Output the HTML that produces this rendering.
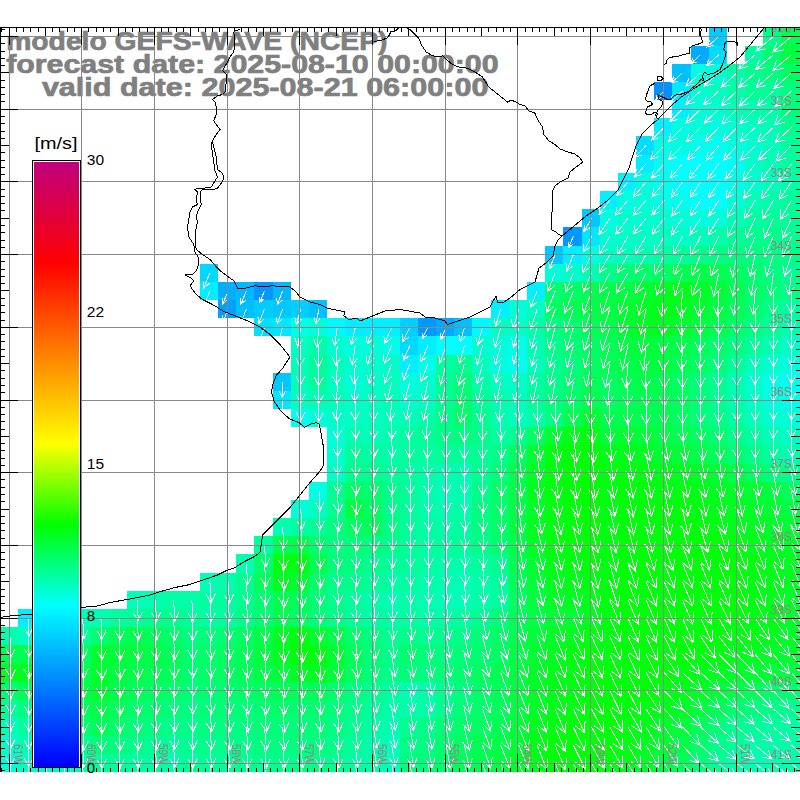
<!DOCTYPE html><html><head><meta charset="utf-8"><style>html,body{margin:0;padding:0;background:#fff;width:800px;height:800px;overflow:hidden}svg{display:block}text{font-family:"Liberation Sans",sans-serif}</style></head><body>
<svg width="800" height="800" viewBox="0 0 800 800" shape-rendering="crispEdges">
<rect width="800" height="800" fill="#fff"/>
<g>
<rect x="709" y="27" width="18" height="19" fill="#00ccff"/>
<rect x="763" y="27" width="18" height="19" fill="#00ff88"/>
<rect x="781" y="27" width="19" height="19" fill="#00ff50"/>
<rect x="691" y="46" width="18" height="18" fill="#00aaff"/>
<rect x="709" y="46" width="18" height="18" fill="#00ddff"/>
<rect x="745" y="46" width="18" height="18" fill="#00ffa0"/>
<rect x="763" y="46" width="18" height="18" fill="#00ff70"/>
<rect x="781" y="46" width="19" height="18" fill="#00ff40"/>
<rect x="672" y="64" width="19" height="18" fill="#00c0ff"/>
<rect x="691" y="64" width="18" height="18" fill="#00ffe0"/>
<rect x="709" y="64" width="18" height="18" fill="#00ffd8"/>
<rect x="727" y="64" width="18" height="18" fill="#00ffa8"/>
<rect x="745" y="64" width="18" height="18" fill="#00ff90"/>
<rect x="763" y="64" width="18" height="18" fill="#00ff80"/>
<rect x="781" y="64" width="19" height="18" fill="#00ff60"/>
<rect x="654" y="82" width="18" height="18" fill="#0090ff"/>
<rect x="672" y="82" width="19" height="18" fill="#00e8ff"/>
<rect x="691" y="82" width="18" height="18" fill="#00ffd0"/>
<rect x="709" y="82" width="18" height="18" fill="#00ffc0"/>
<rect x="727" y="82" width="18" height="18" fill="#00ffa8"/>
<rect x="745" y="82" width="18" height="18" fill="#00ff98"/>
<rect x="763" y="82" width="18" height="18" fill="#00ff98"/>
<rect x="781" y="82" width="19" height="18" fill="#00ff80"/>
<rect x="672" y="100" width="19" height="18" fill="#00eeff"/>
<rect x="691" y="100" width="18" height="18" fill="#00ffd8"/>
<rect x="709" y="100" width="18" height="18" fill="#00ffd0"/>
<rect x="727" y="100" width="18" height="18" fill="#00ffb8"/>
<rect x="745" y="100" width="18" height="18" fill="#00ffb0"/>
<rect x="763" y="100" width="18" height="18" fill="#00ffa8"/>
<rect x="781" y="100" width="19" height="18" fill="#00ff78"/>
<rect x="654" y="118" width="18" height="18" fill="#00f0ff"/>
<rect x="672" y="118" width="19" height="18" fill="#00ffe0"/>
<rect x="691" y="118" width="18" height="18" fill="#00ffd8"/>
<rect x="709" y="118" width="18" height="18" fill="#00ffe0"/>
<rect x="727" y="118" width="18" height="18" fill="#00ffd0"/>
<rect x="745" y="118" width="18" height="18" fill="#00ffc0"/>
<rect x="763" y="118" width="18" height="18" fill="#00ffb0"/>
<rect x="781" y="118" width="19" height="18" fill="#00ff90"/>
<rect x="636" y="136" width="18" height="19" fill="#00ddff"/>
<rect x="654" y="136" width="18" height="19" fill="#00ffe8"/>
<rect x="672" y="136" width="19" height="19" fill="#00ffe0"/>
<rect x="691" y="136" width="18" height="19" fill="#00fff0"/>
<rect x="709" y="136" width="18" height="19" fill="#00fff0"/>
<rect x="727" y="136" width="18" height="19" fill="#00ffe0"/>
<rect x="745" y="136" width="18" height="19" fill="#00ffd0"/>
<rect x="763" y="136" width="18" height="19" fill="#00ffb8"/>
<rect x="781" y="136" width="19" height="19" fill="#00ff98"/>
<rect x="636" y="155" width="18" height="18" fill="#00eeff"/>
<rect x="654" y="155" width="18" height="18" fill="#00fff0"/>
<rect x="672" y="155" width="19" height="18" fill="#00ffff"/>
<rect x="691" y="155" width="18" height="18" fill="#00ffff"/>
<rect x="709" y="155" width="18" height="18" fill="#00ffff"/>
<rect x="727" y="155" width="18" height="18" fill="#00fff0"/>
<rect x="745" y="155" width="18" height="18" fill="#00ffc8"/>
<rect x="763" y="155" width="18" height="18" fill="#00ffb0"/>
<rect x="781" y="155" width="19" height="18" fill="#00ffa0"/>
<rect x="618" y="173" width="18" height="18" fill="#00f0ff"/>
<rect x="636" y="173" width="18" height="18" fill="#00ffe0"/>
<rect x="654" y="173" width="18" height="18" fill="#00fff0"/>
<rect x="672" y="173" width="19" height="18" fill="#00ffff"/>
<rect x="691" y="173" width="18" height="18" fill="#00ffff"/>
<rect x="709" y="173" width="18" height="18" fill="#00ffff"/>
<rect x="727" y="173" width="18" height="18" fill="#00ffe8"/>
<rect x="745" y="173" width="18" height="18" fill="#00ffd0"/>
<rect x="763" y="173" width="18" height="18" fill="#00ffc0"/>
<rect x="781" y="173" width="19" height="18" fill="#00ffa8"/>
<rect x="600" y="191" width="18" height="18" fill="#00f0ff"/>
<rect x="618" y="191" width="18" height="18" fill="#00ffe0"/>
<rect x="636" y="191" width="18" height="18" fill="#00ffd8"/>
<rect x="654" y="191" width="18" height="18" fill="#00ffe8"/>
<rect x="672" y="191" width="19" height="18" fill="#00fff0"/>
<rect x="691" y="191" width="18" height="18" fill="#00ffff"/>
<rect x="709" y="191" width="18" height="18" fill="#00ffff"/>
<rect x="727" y="191" width="18" height="18" fill="#00ffd8"/>
<rect x="745" y="191" width="18" height="18" fill="#00ffb8"/>
<rect x="763" y="191" width="18" height="18" fill="#00ffa8"/>
<rect x="781" y="191" width="19" height="18" fill="#00ff98"/>
<rect x="582" y="209" width="18" height="18" fill="#00c8ff"/>
<rect x="600" y="209" width="18" height="18" fill="#00ffe0"/>
<rect x="618" y="209" width="18" height="18" fill="#00ffd0"/>
<rect x="636" y="209" width="18" height="18" fill="#00ffd0"/>
<rect x="654" y="209" width="18" height="18" fill="#00ffd0"/>
<rect x="672" y="209" width="19" height="18" fill="#00ffd8"/>
<rect x="691" y="209" width="18" height="18" fill="#00ffe0"/>
<rect x="709" y="209" width="18" height="18" fill="#00ffd8"/>
<rect x="727" y="209" width="18" height="18" fill="#00ffb8"/>
<rect x="745" y="209" width="18" height="18" fill="#00ffa0"/>
<rect x="763" y="209" width="18" height="18" fill="#00ff98"/>
<rect x="781" y="209" width="19" height="18" fill="#00ff98"/>
<rect x="563" y="227" width="19" height="19" fill="#0098ff"/>
<rect x="582" y="227" width="18" height="19" fill="#00e8ff"/>
<rect x="600" y="227" width="18" height="19" fill="#00ffd0"/>
<rect x="618" y="227" width="18" height="19" fill="#00ffc8"/>
<rect x="636" y="227" width="18" height="19" fill="#00ffc8"/>
<rect x="654" y="227" width="18" height="19" fill="#00ffc0"/>
<rect x="672" y="227" width="19" height="19" fill="#00ffc8"/>
<rect x="691" y="227" width="18" height="19" fill="#00ffb8"/>
<rect x="709" y="227" width="18" height="19" fill="#00ffa8"/>
<rect x="727" y="227" width="18" height="19" fill="#00ff98"/>
<rect x="745" y="227" width="18" height="19" fill="#00ff90"/>
<rect x="763" y="227" width="18" height="19" fill="#00ff88"/>
<rect x="781" y="227" width="19" height="19" fill="#00ff90"/>
<rect x="545" y="246" width="18" height="18" fill="#00c8ff"/>
<rect x="563" y="246" width="19" height="18" fill="#00eeff"/>
<rect x="582" y="246" width="18" height="18" fill="#00ffe0"/>
<rect x="600" y="246" width="18" height="18" fill="#00ffc0"/>
<rect x="618" y="246" width="18" height="18" fill="#00ffb8"/>
<rect x="636" y="246" width="18" height="18" fill="#00ffb0"/>
<rect x="654" y="246" width="18" height="18" fill="#00ffa0"/>
<rect x="672" y="246" width="19" height="18" fill="#00ff98"/>
<rect x="691" y="246" width="18" height="18" fill="#00ff88"/>
<rect x="709" y="246" width="18" height="18" fill="#00ff80"/>
<rect x="727" y="246" width="18" height="18" fill="#00ff80"/>
<rect x="745" y="246" width="18" height="18" fill="#00ff80"/>
<rect x="763" y="246" width="18" height="18" fill="#00ff80"/>
<rect x="781" y="246" width="19" height="18" fill="#00ff88"/>
<rect x="200" y="264" width="18" height="18" fill="#00d8ff"/>
<rect x="545" y="264" width="18" height="18" fill="#00ffd8"/>
<rect x="563" y="264" width="19" height="18" fill="#00ffc8"/>
<rect x="582" y="264" width="18" height="18" fill="#00ffb0"/>
<rect x="600" y="264" width="18" height="18" fill="#00ff88"/>
<rect x="618" y="264" width="18" height="18" fill="#00ff70"/>
<rect x="636" y="264" width="18" height="18" fill="#00ff68"/>
<rect x="654" y="264" width="18" height="18" fill="#00ff60"/>
<rect x="672" y="264" width="19" height="18" fill="#00ff50"/>
<rect x="691" y="264" width="18" height="18" fill="#00ff48"/>
<rect x="709" y="264" width="18" height="18" fill="#00ff50"/>
<rect x="727" y="264" width="18" height="18" fill="#00ff60"/>
<rect x="745" y="264" width="18" height="18" fill="#00ff70"/>
<rect x="763" y="264" width="18" height="18" fill="#00ff80"/>
<rect x="781" y="264" width="19" height="18" fill="#00ff90"/>
<rect x="200" y="282" width="18" height="18" fill="#00eeff"/>
<rect x="218" y="282" width="18" height="18" fill="#00b0ff"/>
<rect x="236" y="282" width="18" height="18" fill="#00b8ff"/>
<rect x="254" y="282" width="19" height="18" fill="#0098ff"/>
<rect x="273" y="282" width="18" height="18" fill="#00b8ff"/>
<rect x="527" y="282" width="18" height="18" fill="#00f0ff"/>
<rect x="545" y="282" width="18" height="18" fill="#00ff70"/>
<rect x="563" y="282" width="19" height="18" fill="#00ff60"/>
<rect x="582" y="282" width="18" height="18" fill="#00ff50"/>
<rect x="600" y="282" width="18" height="18" fill="#00ff48"/>
<rect x="618" y="282" width="18" height="18" fill="#00ff40"/>
<rect x="636" y="282" width="18" height="18" fill="#00ff30"/>
<rect x="654" y="282" width="18" height="18" fill="#00ff20"/>
<rect x="672" y="282" width="19" height="18" fill="#00ff18"/>
<rect x="691" y="282" width="18" height="18" fill="#00ff28"/>
<rect x="709" y="282" width="18" height="18" fill="#00ff38"/>
<rect x="727" y="282" width="18" height="18" fill="#00ff50"/>
<rect x="745" y="282" width="18" height="18" fill="#00ff68"/>
<rect x="763" y="282" width="18" height="18" fill="#00ff78"/>
<rect x="781" y="282" width="19" height="18" fill="#00ff88"/>
<rect x="218" y="300" width="18" height="18" fill="#00a0ff"/>
<rect x="236" y="300" width="18" height="18" fill="#00c0ff"/>
<rect x="254" y="300" width="19" height="18" fill="#00ccff"/>
<rect x="273" y="300" width="18" height="18" fill="#00c8ff"/>
<rect x="291" y="300" width="18" height="18" fill="#00d0ff"/>
<rect x="309" y="300" width="18" height="18" fill="#00c0ff"/>
<rect x="491" y="300" width="18" height="18" fill="#00f0ff"/>
<rect x="509" y="300" width="18" height="18" fill="#00ffd8"/>
<rect x="527" y="300" width="18" height="18" fill="#00ffc0"/>
<rect x="545" y="300" width="18" height="18" fill="#00ff60"/>
<rect x="563" y="300" width="19" height="18" fill="#00ff50"/>
<rect x="582" y="300" width="18" height="18" fill="#00ff48"/>
<rect x="600" y="300" width="18" height="18" fill="#00ff40"/>
<rect x="618" y="300" width="18" height="18" fill="#00ff30"/>
<rect x="636" y="300" width="18" height="18" fill="#00ff20"/>
<rect x="654" y="300" width="18" height="18" fill="#00ff18"/>
<rect x="672" y="300" width="19" height="18" fill="#00ff20"/>
<rect x="691" y="300" width="18" height="18" fill="#00ff30"/>
<rect x="709" y="300" width="18" height="18" fill="#00ff40"/>
<rect x="727" y="300" width="18" height="18" fill="#00ff58"/>
<rect x="745" y="300" width="18" height="18" fill="#00ff70"/>
<rect x="763" y="300" width="18" height="18" fill="#00ff88"/>
<rect x="781" y="300" width="19" height="18" fill="#00ffa0"/>
<rect x="254" y="318" width="19" height="18" fill="#00e0ff"/>
<rect x="273" y="318" width="18" height="18" fill="#00e8ff"/>
<rect x="291" y="318" width="18" height="18" fill="#00ffe8"/>
<rect x="309" y="318" width="18" height="18" fill="#00ffd8"/>
<rect x="327" y="318" width="18" height="18" fill="#00f8ff"/>
<rect x="345" y="318" width="18" height="18" fill="#00eeff"/>
<rect x="363" y="318" width="19" height="18" fill="#00f0ff"/>
<rect x="382" y="318" width="18" height="18" fill="#00f0ff"/>
<rect x="400" y="318" width="18" height="18" fill="#00d0ff"/>
<rect x="418" y="318" width="18" height="18" fill="#0098ff"/>
<rect x="436" y="318" width="18" height="18" fill="#00a8ff"/>
<rect x="454" y="318" width="18" height="18" fill="#00c0ff"/>
<rect x="472" y="318" width="19" height="18" fill="#00f8ff"/>
<rect x="491" y="318" width="18" height="18" fill="#00ffc0"/>
<rect x="509" y="318" width="18" height="18" fill="#00ffc8"/>
<rect x="527" y="318" width="18" height="18" fill="#00ffa8"/>
<rect x="545" y="318" width="18" height="18" fill="#00ff80"/>
<rect x="563" y="318" width="19" height="18" fill="#00ff68"/>
<rect x="582" y="318" width="18" height="18" fill="#00ff58"/>
<rect x="600" y="318" width="18" height="18" fill="#00ff48"/>
<rect x="618" y="318" width="18" height="18" fill="#00ff30"/>
<rect x="636" y="318" width="18" height="18" fill="#00ff20"/>
<rect x="654" y="318" width="18" height="18" fill="#00ff20"/>
<rect x="672" y="318" width="19" height="18" fill="#00ff30"/>
<rect x="691" y="318" width="18" height="18" fill="#00ff40"/>
<rect x="709" y="318" width="18" height="18" fill="#00ff50"/>
<rect x="727" y="318" width="18" height="18" fill="#00ff68"/>
<rect x="745" y="318" width="18" height="18" fill="#00ff80"/>
<rect x="763" y="318" width="18" height="18" fill="#00ff98"/>
<rect x="781" y="318" width="19" height="18" fill="#00ffb0"/>
<rect x="291" y="336" width="18" height="19" fill="#00ffc0"/>
<rect x="309" y="336" width="18" height="19" fill="#00ffa8"/>
<rect x="327" y="336" width="18" height="19" fill="#00ffd0"/>
<rect x="345" y="336" width="18" height="19" fill="#00ffe0"/>
<rect x="363" y="336" width="19" height="19" fill="#00ffd8"/>
<rect x="382" y="336" width="18" height="19" fill="#00ffe8"/>
<rect x="400" y="336" width="18" height="19" fill="#00d8ff"/>
<rect x="418" y="336" width="18" height="19" fill="#00eeff"/>
<rect x="436" y="336" width="18" height="19" fill="#00ffff"/>
<rect x="454" y="336" width="18" height="19" fill="#00ffff"/>
<rect x="472" y="336" width="19" height="19" fill="#00ffd0"/>
<rect x="491" y="336" width="18" height="19" fill="#00ffd8"/>
<rect x="509" y="336" width="18" height="19" fill="#00ffe8"/>
<rect x="527" y="336" width="18" height="19" fill="#00ffb0"/>
<rect x="545" y="336" width="18" height="19" fill="#00ff88"/>
<rect x="563" y="336" width="19" height="19" fill="#00ff70"/>
<rect x="582" y="336" width="18" height="19" fill="#00ff60"/>
<rect x="600" y="336" width="18" height="19" fill="#00ff50"/>
<rect x="618" y="336" width="18" height="19" fill="#00ff40"/>
<rect x="636" y="336" width="18" height="19" fill="#00ff38"/>
<rect x="654" y="336" width="18" height="19" fill="#00ff40"/>
<rect x="672" y="336" width="19" height="19" fill="#00ff48"/>
<rect x="691" y="336" width="18" height="19" fill="#00ff58"/>
<rect x="709" y="336" width="18" height="19" fill="#00ff68"/>
<rect x="727" y="336" width="18" height="19" fill="#00ff80"/>
<rect x="745" y="336" width="18" height="19" fill="#00ff98"/>
<rect x="763" y="336" width="18" height="19" fill="#00ffb0"/>
<rect x="781" y="336" width="19" height="19" fill="#00ffc8"/>
<rect x="291" y="355" width="18" height="18" fill="#00ffb8"/>
<rect x="309" y="355" width="18" height="18" fill="#00ff98"/>
<rect x="327" y="355" width="18" height="18" fill="#00ffb8"/>
<rect x="345" y="355" width="18" height="18" fill="#00ffd0"/>
<rect x="363" y="355" width="19" height="18" fill="#00ffd0"/>
<rect x="382" y="355" width="18" height="18" fill="#00ffc8"/>
<rect x="400" y="355" width="18" height="18" fill="#00eeff"/>
<rect x="418" y="355" width="18" height="18" fill="#00ffe8"/>
<rect x="436" y="355" width="18" height="18" fill="#00ffa0"/>
<rect x="454" y="355" width="18" height="18" fill="#00ff90"/>
<rect x="472" y="355" width="19" height="18" fill="#00ffc0"/>
<rect x="491" y="355" width="18" height="18" fill="#00ffe0"/>
<rect x="509" y="355" width="18" height="18" fill="#00fff0"/>
<rect x="527" y="355" width="18" height="18" fill="#00ffb8"/>
<rect x="545" y="355" width="18" height="18" fill="#00ff90"/>
<rect x="563" y="355" width="19" height="18" fill="#00ff78"/>
<rect x="582" y="355" width="18" height="18" fill="#00ff60"/>
<rect x="600" y="355" width="18" height="18" fill="#00ff50"/>
<rect x="618" y="355" width="18" height="18" fill="#00ff48"/>
<rect x="636" y="355" width="18" height="18" fill="#00ff40"/>
<rect x="654" y="355" width="18" height="18" fill="#00ff40"/>
<rect x="672" y="355" width="19" height="18" fill="#00ff50"/>
<rect x="691" y="355" width="18" height="18" fill="#00ff60"/>
<rect x="709" y="355" width="18" height="18" fill="#00ff78"/>
<rect x="727" y="355" width="18" height="18" fill="#00ff98"/>
<rect x="745" y="355" width="18" height="18" fill="#00ffb8"/>
<rect x="763" y="355" width="18" height="18" fill="#00ffd0"/>
<rect x="781" y="355" width="19" height="18" fill="#00ffe0"/>
<rect x="273" y="373" width="18" height="18" fill="#00c8ff"/>
<rect x="291" y="373" width="18" height="18" fill="#00ffb8"/>
<rect x="309" y="373" width="18" height="18" fill="#00ff98"/>
<rect x="327" y="373" width="18" height="18" fill="#00ffc0"/>
<rect x="345" y="373" width="18" height="18" fill="#00ffd8"/>
<rect x="363" y="373" width="19" height="18" fill="#00ffc8"/>
<rect x="382" y="373" width="18" height="18" fill="#00ffc0"/>
<rect x="400" y="373" width="18" height="18" fill="#00ffe0"/>
<rect x="418" y="373" width="18" height="18" fill="#00ffd0"/>
<rect x="436" y="373" width="18" height="18" fill="#00ff90"/>
<rect x="454" y="373" width="18" height="18" fill="#00ff78"/>
<rect x="472" y="373" width="19" height="18" fill="#00ffa8"/>
<rect x="491" y="373" width="18" height="18" fill="#00ffc0"/>
<rect x="509" y="373" width="18" height="18" fill="#00ffc8"/>
<rect x="527" y="373" width="18" height="18" fill="#00ffa0"/>
<rect x="545" y="373" width="18" height="18" fill="#00ff88"/>
<rect x="563" y="373" width="19" height="18" fill="#00ff70"/>
<rect x="582" y="373" width="18" height="18" fill="#00ff58"/>
<rect x="600" y="373" width="18" height="18" fill="#00ff60"/>
<rect x="618" y="373" width="18" height="18" fill="#00ff50"/>
<rect x="636" y="373" width="18" height="18" fill="#00ff48"/>
<rect x="654" y="373" width="18" height="18" fill="#00ff50"/>
<rect x="672" y="373" width="19" height="18" fill="#00ff60"/>
<rect x="691" y="373" width="18" height="18" fill="#00ff78"/>
<rect x="709" y="373" width="18" height="18" fill="#00ff90"/>
<rect x="727" y="373" width="18" height="18" fill="#00ffb0"/>
<rect x="745" y="373" width="18" height="18" fill="#00ffd0"/>
<rect x="763" y="373" width="18" height="18" fill="#00ffe8"/>
<rect x="781" y="373" width="19" height="18" fill="#00fff0"/>
<rect x="273" y="391" width="18" height="18" fill="#00e8ff"/>
<rect x="291" y="391" width="18" height="18" fill="#00ffc0"/>
<rect x="309" y="391" width="18" height="18" fill="#00ffb0"/>
<rect x="327" y="391" width="18" height="18" fill="#00ffb8"/>
<rect x="345" y="391" width="18" height="18" fill="#00ffc8"/>
<rect x="363" y="391" width="19" height="18" fill="#00ffc0"/>
<rect x="382" y="391" width="18" height="18" fill="#00ffb8"/>
<rect x="400" y="391" width="18" height="18" fill="#00ffd0"/>
<rect x="418" y="391" width="18" height="18" fill="#00ffc0"/>
<rect x="436" y="391" width="18" height="18" fill="#00ff90"/>
<rect x="454" y="391" width="18" height="18" fill="#00ff70"/>
<rect x="472" y="391" width="19" height="18" fill="#00ff98"/>
<rect x="491" y="391" width="18" height="18" fill="#00ffb0"/>
<rect x="509" y="391" width="18" height="18" fill="#00ffb8"/>
<rect x="527" y="391" width="18" height="18" fill="#00ff98"/>
<rect x="545" y="391" width="18" height="18" fill="#00ff80"/>
<rect x="563" y="391" width="19" height="18" fill="#00ff68"/>
<rect x="582" y="391" width="18" height="18" fill="#00ff50"/>
<rect x="600" y="391" width="18" height="18" fill="#00ff60"/>
<rect x="618" y="391" width="18" height="18" fill="#00ff58"/>
<rect x="636" y="391" width="18" height="18" fill="#00ff50"/>
<rect x="654" y="391" width="18" height="18" fill="#00ff50"/>
<rect x="672" y="391" width="19" height="18" fill="#00ff60"/>
<rect x="691" y="391" width="18" height="18" fill="#00ff78"/>
<rect x="709" y="391" width="18" height="18" fill="#00ff90"/>
<rect x="727" y="391" width="18" height="18" fill="#00ffb0"/>
<rect x="745" y="391" width="18" height="18" fill="#00ffc8"/>
<rect x="763" y="391" width="18" height="18" fill="#00ffe0"/>
<rect x="781" y="391" width="19" height="18" fill="#00ffe8"/>
<rect x="291" y="409" width="18" height="18" fill="#00fff0"/>
<rect x="309" y="409" width="18" height="18" fill="#00ffd8"/>
<rect x="327" y="409" width="18" height="18" fill="#00ffc8"/>
<rect x="345" y="409" width="18" height="18" fill="#00ffc0"/>
<rect x="363" y="409" width="19" height="18" fill="#00ffc0"/>
<rect x="382" y="409" width="18" height="18" fill="#00ffb8"/>
<rect x="400" y="409" width="18" height="18" fill="#00ffb8"/>
<rect x="418" y="409" width="18" height="18" fill="#00ffa8"/>
<rect x="436" y="409" width="18" height="18" fill="#00ff88"/>
<rect x="454" y="409" width="18" height="18" fill="#00ff68"/>
<rect x="472" y="409" width="19" height="18" fill="#00ff90"/>
<rect x="491" y="409" width="18" height="18" fill="#00ffb0"/>
<rect x="509" y="409" width="18" height="18" fill="#00ffc0"/>
<rect x="527" y="409" width="18" height="18" fill="#00ffa8"/>
<rect x="545" y="409" width="18" height="18" fill="#00ff80"/>
<rect x="563" y="409" width="19" height="18" fill="#00ff50"/>
<rect x="582" y="409" width="18" height="18" fill="#00ff30"/>
<rect x="600" y="409" width="18" height="18" fill="#00ff50"/>
<rect x="618" y="409" width="18" height="18" fill="#00ff50"/>
<rect x="636" y="409" width="18" height="18" fill="#00ff50"/>
<rect x="654" y="409" width="18" height="18" fill="#00ff50"/>
<rect x="672" y="409" width="19" height="18" fill="#00ff60"/>
<rect x="691" y="409" width="18" height="18" fill="#00ff78"/>
<rect x="709" y="409" width="18" height="18" fill="#00ff88"/>
<rect x="727" y="409" width="18" height="18" fill="#00ffa0"/>
<rect x="745" y="409" width="18" height="18" fill="#00ffb8"/>
<rect x="763" y="409" width="18" height="18" fill="#00ffd0"/>
<rect x="781" y="409" width="19" height="18" fill="#00ffd8"/>
<rect x="327" y="427" width="18" height="18" fill="#00ffd8"/>
<rect x="345" y="427" width="18" height="18" fill="#00ffb0"/>
<rect x="363" y="427" width="19" height="18" fill="#00ffb8"/>
<rect x="382" y="427" width="18" height="18" fill="#00ffb0"/>
<rect x="400" y="427" width="18" height="18" fill="#00ffa0"/>
<rect x="418" y="427" width="18" height="18" fill="#00ff98"/>
<rect x="436" y="427" width="18" height="18" fill="#00ff88"/>
<rect x="454" y="427" width="18" height="18" fill="#00ff80"/>
<rect x="472" y="427" width="19" height="18" fill="#00ff88"/>
<rect x="491" y="427" width="18" height="18" fill="#00ffa0"/>
<rect x="509" y="427" width="18" height="18" fill="#00ff90"/>
<rect x="527" y="427" width="18" height="18" fill="#00ff60"/>
<rect x="545" y="427" width="18" height="18" fill="#00ff30"/>
<rect x="563" y="427" width="19" height="18" fill="#00ff18"/>
<rect x="582" y="427" width="18" height="18" fill="#00ff10"/>
<rect x="600" y="427" width="18" height="18" fill="#00ff38"/>
<rect x="618" y="427" width="18" height="18" fill="#00ff30"/>
<rect x="636" y="427" width="18" height="18" fill="#00ff38"/>
<rect x="654" y="427" width="18" height="18" fill="#00ff48"/>
<rect x="672" y="427" width="19" height="18" fill="#00ff50"/>
<rect x="691" y="427" width="18" height="18" fill="#00ff60"/>
<rect x="709" y="427" width="18" height="18" fill="#00ff70"/>
<rect x="727" y="427" width="18" height="18" fill="#00ff88"/>
<rect x="745" y="427" width="18" height="18" fill="#00ffa0"/>
<rect x="763" y="427" width="18" height="18" fill="#00ffb8"/>
<rect x="781" y="427" width="19" height="18" fill="#00ffc8"/>
<rect x="327" y="445" width="18" height="19" fill="#00ffd0"/>
<rect x="345" y="445" width="18" height="19" fill="#00ff98"/>
<rect x="363" y="445" width="19" height="19" fill="#00ffa0"/>
<rect x="382" y="445" width="18" height="19" fill="#00ffa8"/>
<rect x="400" y="445" width="18" height="19" fill="#00ffa0"/>
<rect x="418" y="445" width="18" height="19" fill="#00ffa0"/>
<rect x="436" y="445" width="18" height="19" fill="#00ff98"/>
<rect x="454" y="445" width="18" height="19" fill="#00ff98"/>
<rect x="472" y="445" width="19" height="19" fill="#00ff90"/>
<rect x="491" y="445" width="18" height="19" fill="#00ff88"/>
<rect x="509" y="445" width="18" height="19" fill="#00ff60"/>
<rect x="527" y="445" width="18" height="19" fill="#00ff30"/>
<rect x="545" y="445" width="18" height="19" fill="#00ff10"/>
<rect x="563" y="445" width="19" height="19" fill="#00ff08"/>
<rect x="582" y="445" width="18" height="19" fill="#00ff08"/>
<rect x="600" y="445" width="18" height="19" fill="#00ff18"/>
<rect x="618" y="445" width="18" height="19" fill="#00ff18"/>
<rect x="636" y="445" width="18" height="19" fill="#00ff20"/>
<rect x="654" y="445" width="18" height="19" fill="#00ff30"/>
<rect x="672" y="445" width="19" height="19" fill="#00ff38"/>
<rect x="691" y="445" width="18" height="19" fill="#00ff48"/>
<rect x="709" y="445" width="18" height="19" fill="#00ff58"/>
<rect x="727" y="445" width="18" height="19" fill="#00ff70"/>
<rect x="745" y="445" width="18" height="19" fill="#00ff88"/>
<rect x="763" y="445" width="18" height="19" fill="#00ffa0"/>
<rect x="781" y="445" width="19" height="19" fill="#00ffb0"/>
<rect x="327" y="464" width="18" height="18" fill="#00ffc8"/>
<rect x="345" y="464" width="18" height="18" fill="#00ff90"/>
<rect x="363" y="464" width="19" height="18" fill="#00ff90"/>
<rect x="382" y="464" width="18" height="18" fill="#00ff98"/>
<rect x="400" y="464" width="18" height="18" fill="#00ffa0"/>
<rect x="418" y="464" width="18" height="18" fill="#00ffa8"/>
<rect x="436" y="464" width="18" height="18" fill="#00ffb0"/>
<rect x="454" y="464" width="18" height="18" fill="#00ffb0"/>
<rect x="472" y="464" width="19" height="18" fill="#00ff90"/>
<rect x="491" y="464" width="18" height="18" fill="#00ff78"/>
<rect x="509" y="464" width="18" height="18" fill="#00ff50"/>
<rect x="527" y="464" width="18" height="18" fill="#00ff28"/>
<rect x="545" y="464" width="18" height="18" fill="#00ff10"/>
<rect x="563" y="464" width="19" height="18" fill="#00ff08"/>
<rect x="582" y="464" width="18" height="18" fill="#00ff08"/>
<rect x="600" y="464" width="18" height="18" fill="#00ff10"/>
<rect x="618" y="464" width="18" height="18" fill="#00ff10"/>
<rect x="636" y="464" width="18" height="18" fill="#00ff10"/>
<rect x="654" y="464" width="18" height="18" fill="#00ff18"/>
<rect x="672" y="464" width="19" height="18" fill="#00ff20"/>
<rect x="691" y="464" width="18" height="18" fill="#00ff28"/>
<rect x="709" y="464" width="18" height="18" fill="#00ff38"/>
<rect x="727" y="464" width="18" height="18" fill="#00ff48"/>
<rect x="745" y="464" width="18" height="18" fill="#00ff60"/>
<rect x="763" y="464" width="18" height="18" fill="#00ff78"/>
<rect x="781" y="464" width="19" height="18" fill="#00ff90"/>
<rect x="309" y="482" width="18" height="18" fill="#00ffe8"/>
<rect x="327" y="482" width="18" height="18" fill="#00ff90"/>
<rect x="345" y="482" width="18" height="18" fill="#00ff60"/>
<rect x="363" y="482" width="19" height="18" fill="#00ff70"/>
<rect x="382" y="482" width="18" height="18" fill="#00ff88"/>
<rect x="400" y="482" width="18" height="18" fill="#00ff98"/>
<rect x="418" y="482" width="18" height="18" fill="#00ffa8"/>
<rect x="436" y="482" width="18" height="18" fill="#00ffb8"/>
<rect x="454" y="482" width="18" height="18" fill="#00ffb0"/>
<rect x="472" y="482" width="19" height="18" fill="#00ff88"/>
<rect x="491" y="482" width="18" height="18" fill="#00ff68"/>
<rect x="509" y="482" width="18" height="18" fill="#00ff48"/>
<rect x="527" y="482" width="18" height="18" fill="#00ff20"/>
<rect x="545" y="482" width="18" height="18" fill="#00ff10"/>
<rect x="563" y="482" width="19" height="18" fill="#00ff08"/>
<rect x="582" y="482" width="18" height="18" fill="#00ff00"/>
<rect x="600" y="482" width="18" height="18" fill="#00ff10"/>
<rect x="618" y="482" width="18" height="18" fill="#00ff08"/>
<rect x="636" y="482" width="18" height="18" fill="#00ff08"/>
<rect x="654" y="482" width="18" height="18" fill="#00ff10"/>
<rect x="672" y="482" width="19" height="18" fill="#00ff10"/>
<rect x="691" y="482" width="18" height="18" fill="#00ff18"/>
<rect x="709" y="482" width="18" height="18" fill="#00ff20"/>
<rect x="727" y="482" width="18" height="18" fill="#00ff28"/>
<rect x="745" y="482" width="18" height="18" fill="#00ff30"/>
<rect x="763" y="482" width="18" height="18" fill="#00ff40"/>
<rect x="781" y="482" width="19" height="18" fill="#00ff58"/>
<rect x="291" y="500" width="18" height="18" fill="#00ffd8"/>
<rect x="309" y="500" width="18" height="18" fill="#00ffc0"/>
<rect x="327" y="500" width="18" height="18" fill="#00ff90"/>
<rect x="345" y="500" width="18" height="18" fill="#00ff40"/>
<rect x="363" y="500" width="19" height="18" fill="#00ff60"/>
<rect x="382" y="500" width="18" height="18" fill="#00ff88"/>
<rect x="400" y="500" width="18" height="18" fill="#00ff98"/>
<rect x="418" y="500" width="18" height="18" fill="#00ffa8"/>
<rect x="436" y="500" width="18" height="18" fill="#00ffb0"/>
<rect x="454" y="500" width="18" height="18" fill="#00ffa8"/>
<rect x="472" y="500" width="19" height="18" fill="#00ff80"/>
<rect x="491" y="500" width="18" height="18" fill="#00ff68"/>
<rect x="509" y="500" width="18" height="18" fill="#00ff48"/>
<rect x="527" y="500" width="18" height="18" fill="#00ff28"/>
<rect x="545" y="500" width="18" height="18" fill="#00ff10"/>
<rect x="563" y="500" width="19" height="18" fill="#00ff08"/>
<rect x="582" y="500" width="18" height="18" fill="#00ff00"/>
<rect x="600" y="500" width="18" height="18" fill="#00ff10"/>
<rect x="618" y="500" width="18" height="18" fill="#00ff08"/>
<rect x="636" y="500" width="18" height="18" fill="#00ff08"/>
<rect x="654" y="500" width="18" height="18" fill="#00ff08"/>
<rect x="672" y="500" width="19" height="18" fill="#00ff08"/>
<rect x="691" y="500" width="18" height="18" fill="#00ff10"/>
<rect x="709" y="500" width="18" height="18" fill="#00ff18"/>
<rect x="727" y="500" width="18" height="18" fill="#00ff20"/>
<rect x="745" y="500" width="18" height="18" fill="#00ff28"/>
<rect x="763" y="500" width="18" height="18" fill="#00ff30"/>
<rect x="781" y="500" width="19" height="18" fill="#00ff40"/>
<rect x="273" y="518" width="18" height="18" fill="#00ffb0"/>
<rect x="291" y="518" width="18" height="18" fill="#00ffa0"/>
<rect x="309" y="518" width="18" height="18" fill="#00ff98"/>
<rect x="327" y="518" width="18" height="18" fill="#00ff80"/>
<rect x="345" y="518" width="18" height="18" fill="#00ff60"/>
<rect x="363" y="518" width="19" height="18" fill="#00ff58"/>
<rect x="382" y="518" width="18" height="18" fill="#00ff80"/>
<rect x="400" y="518" width="18" height="18" fill="#00ff98"/>
<rect x="418" y="518" width="18" height="18" fill="#00ffa0"/>
<rect x="436" y="518" width="18" height="18" fill="#00ffa8"/>
<rect x="454" y="518" width="18" height="18" fill="#00ffa0"/>
<rect x="472" y="518" width="19" height="18" fill="#00ff80"/>
<rect x="491" y="518" width="18" height="18" fill="#00ff68"/>
<rect x="509" y="518" width="18" height="18" fill="#00ff40"/>
<rect x="527" y="518" width="18" height="18" fill="#00ff20"/>
<rect x="545" y="518" width="18" height="18" fill="#00ff10"/>
<rect x="563" y="518" width="19" height="18" fill="#00ff08"/>
<rect x="582" y="518" width="18" height="18" fill="#00ff00"/>
<rect x="600" y="518" width="18" height="18" fill="#00ff10"/>
<rect x="618" y="518" width="18" height="18" fill="#00ff08"/>
<rect x="636" y="518" width="18" height="18" fill="#00ff08"/>
<rect x="654" y="518" width="18" height="18" fill="#00ff08"/>
<rect x="672" y="518" width="19" height="18" fill="#00ff08"/>
<rect x="691" y="518" width="18" height="18" fill="#00ff08"/>
<rect x="709" y="518" width="18" height="18" fill="#00ff10"/>
<rect x="727" y="518" width="18" height="18" fill="#00ff18"/>
<rect x="745" y="518" width="18" height="18" fill="#00ff20"/>
<rect x="763" y="518" width="18" height="18" fill="#00ff28"/>
<rect x="781" y="518" width="19" height="18" fill="#00ff30"/>
<rect x="254" y="536" width="19" height="18" fill="#00ffa0"/>
<rect x="273" y="536" width="18" height="18" fill="#00ff50"/>
<rect x="291" y="536" width="18" height="18" fill="#00ff48"/>
<rect x="309" y="536" width="18" height="18" fill="#00ff70"/>
<rect x="327" y="536" width="18" height="18" fill="#00ff80"/>
<rect x="345" y="536" width="18" height="18" fill="#00ff78"/>
<rect x="363" y="536" width="19" height="18" fill="#00ff80"/>
<rect x="382" y="536" width="18" height="18" fill="#00ff88"/>
<rect x="400" y="536" width="18" height="18" fill="#00ff98"/>
<rect x="418" y="536" width="18" height="18" fill="#00ffa0"/>
<rect x="436" y="536" width="18" height="18" fill="#00ffa0"/>
<rect x="454" y="536" width="18" height="18" fill="#00ff98"/>
<rect x="472" y="536" width="19" height="18" fill="#00ff88"/>
<rect x="491" y="536" width="18" height="18" fill="#00ff70"/>
<rect x="509" y="536" width="18" height="18" fill="#00ff48"/>
<rect x="527" y="536" width="18" height="18" fill="#00ff28"/>
<rect x="545" y="536" width="18" height="18" fill="#00ff10"/>
<rect x="563" y="536" width="19" height="18" fill="#00ff08"/>
<rect x="582" y="536" width="18" height="18" fill="#00ff08"/>
<rect x="600" y="536" width="18" height="18" fill="#00ff10"/>
<rect x="618" y="536" width="18" height="18" fill="#00ff08"/>
<rect x="636" y="536" width="18" height="18" fill="#00ff08"/>
<rect x="654" y="536" width="18" height="18" fill="#00ff08"/>
<rect x="672" y="536" width="19" height="18" fill="#00ff08"/>
<rect x="691" y="536" width="18" height="18" fill="#00ff08"/>
<rect x="709" y="536" width="18" height="18" fill="#00ff08"/>
<rect x="727" y="536" width="18" height="18" fill="#00ff10"/>
<rect x="745" y="536" width="18" height="18" fill="#00ff18"/>
<rect x="763" y="536" width="18" height="18" fill="#00ff20"/>
<rect x="781" y="536" width="19" height="18" fill="#00ff28"/>
<rect x="236" y="554" width="18" height="19" fill="#00ffb0"/>
<rect x="254" y="554" width="19" height="19" fill="#00ff70"/>
<rect x="273" y="554" width="18" height="19" fill="#00ff10"/>
<rect x="291" y="554" width="18" height="19" fill="#00ff10"/>
<rect x="309" y="554" width="18" height="19" fill="#00ff50"/>
<rect x="327" y="554" width="18" height="19" fill="#00ff78"/>
<rect x="345" y="554" width="18" height="19" fill="#00ff80"/>
<rect x="363" y="554" width="19" height="19" fill="#00ff90"/>
<rect x="382" y="554" width="18" height="19" fill="#00ff98"/>
<rect x="400" y="554" width="18" height="19" fill="#00ff98"/>
<rect x="418" y="554" width="18" height="19" fill="#00ffa0"/>
<rect x="436" y="554" width="18" height="19" fill="#00ffa8"/>
<rect x="454" y="554" width="18" height="19" fill="#00ffa8"/>
<rect x="472" y="554" width="19" height="19" fill="#00ffa0"/>
<rect x="491" y="554" width="18" height="19" fill="#00ff90"/>
<rect x="509" y="554" width="18" height="19" fill="#00ff50"/>
<rect x="527" y="554" width="18" height="19" fill="#00ff30"/>
<rect x="545" y="554" width="18" height="19" fill="#00ff18"/>
<rect x="563" y="554" width="19" height="19" fill="#00ff10"/>
<rect x="582" y="554" width="18" height="19" fill="#00ff08"/>
<rect x="600" y="554" width="18" height="19" fill="#00ff10"/>
<rect x="618" y="554" width="18" height="19" fill="#00ff08"/>
<rect x="636" y="554" width="18" height="19" fill="#00ff08"/>
<rect x="654" y="554" width="18" height="19" fill="#00ff08"/>
<rect x="672" y="554" width="19" height="19" fill="#00ff08"/>
<rect x="691" y="554" width="18" height="19" fill="#00ff08"/>
<rect x="709" y="554" width="18" height="19" fill="#00ff08"/>
<rect x="727" y="554" width="18" height="19" fill="#00ff08"/>
<rect x="745" y="554" width="18" height="19" fill="#00ff10"/>
<rect x="763" y="554" width="18" height="19" fill="#00ff18"/>
<rect x="781" y="554" width="19" height="19" fill="#00ff20"/>
<rect x="200" y="573" width="18" height="18" fill="#00ffb8"/>
<rect x="218" y="573" width="18" height="18" fill="#00ffa8"/>
<rect x="236" y="573" width="18" height="18" fill="#00ff90"/>
<rect x="254" y="573" width="19" height="18" fill="#00ff58"/>
<rect x="273" y="573" width="18" height="18" fill="#00ff20"/>
<rect x="291" y="573" width="18" height="18" fill="#00ff30"/>
<rect x="309" y="573" width="18" height="18" fill="#00ff68"/>
<rect x="327" y="573" width="18" height="18" fill="#00ff88"/>
<rect x="345" y="573" width="18" height="18" fill="#00ff88"/>
<rect x="363" y="573" width="19" height="18" fill="#00ff98"/>
<rect x="382" y="573" width="18" height="18" fill="#00ffa0"/>
<rect x="400" y="573" width="18" height="18" fill="#00ffa0"/>
<rect x="418" y="573" width="18" height="18" fill="#00ffa8"/>
<rect x="436" y="573" width="18" height="18" fill="#00ffb0"/>
<rect x="454" y="573" width="18" height="18" fill="#00ffb8"/>
<rect x="472" y="573" width="19" height="18" fill="#00ffa8"/>
<rect x="491" y="573" width="18" height="18" fill="#00ff98"/>
<rect x="509" y="573" width="18" height="18" fill="#00ff58"/>
<rect x="527" y="573" width="18" height="18" fill="#00ff38"/>
<rect x="545" y="573" width="18" height="18" fill="#00ff20"/>
<rect x="563" y="573" width="19" height="18" fill="#00ff18"/>
<rect x="582" y="573" width="18" height="18" fill="#00ff10"/>
<rect x="600" y="573" width="18" height="18" fill="#00ff10"/>
<rect x="618" y="573" width="18" height="18" fill="#00ff08"/>
<rect x="636" y="573" width="18" height="18" fill="#00ff08"/>
<rect x="654" y="573" width="18" height="18" fill="#00ff08"/>
<rect x="672" y="573" width="19" height="18" fill="#00ff08"/>
<rect x="691" y="573" width="18" height="18" fill="#00ff08"/>
<rect x="709" y="573" width="18" height="18" fill="#00ff08"/>
<rect x="727" y="573" width="18" height="18" fill="#00ff08"/>
<rect x="745" y="573" width="18" height="18" fill="#00ff10"/>
<rect x="763" y="573" width="18" height="18" fill="#00ff18"/>
<rect x="781" y="573" width="19" height="18" fill="#00ff20"/>
<rect x="127" y="591" width="18" height="18" fill="#00ffb8"/>
<rect x="145" y="591" width="18" height="18" fill="#00ffb0"/>
<rect x="163" y="591" width="19" height="18" fill="#00ffa8"/>
<rect x="182" y="591" width="18" height="18" fill="#00ffa8"/>
<rect x="200" y="591" width="18" height="18" fill="#00ffa0"/>
<rect x="218" y="591" width="18" height="18" fill="#00ffa0"/>
<rect x="236" y="591" width="18" height="18" fill="#00ff90"/>
<rect x="254" y="591" width="19" height="18" fill="#00ff70"/>
<rect x="273" y="591" width="18" height="18" fill="#00ff50"/>
<rect x="291" y="591" width="18" height="18" fill="#00ff58"/>
<rect x="309" y="591" width="18" height="18" fill="#00ff78"/>
<rect x="327" y="591" width="18" height="18" fill="#00ff88"/>
<rect x="345" y="591" width="18" height="18" fill="#00ff98"/>
<rect x="363" y="591" width="19" height="18" fill="#00ffa8"/>
<rect x="382" y="591" width="18" height="18" fill="#00ffb0"/>
<rect x="400" y="591" width="18" height="18" fill="#00ffa8"/>
<rect x="418" y="591" width="18" height="18" fill="#00ffb0"/>
<rect x="436" y="591" width="18" height="18" fill="#00ffb8"/>
<rect x="454" y="591" width="18" height="18" fill="#00ffb8"/>
<rect x="472" y="591" width="19" height="18" fill="#00ffa8"/>
<rect x="491" y="591" width="18" height="18" fill="#00ffa0"/>
<rect x="509" y="591" width="18" height="18" fill="#00ff60"/>
<rect x="527" y="591" width="18" height="18" fill="#00ff40"/>
<rect x="545" y="591" width="18" height="18" fill="#00ff28"/>
<rect x="563" y="591" width="19" height="18" fill="#00ff20"/>
<rect x="582" y="591" width="18" height="18" fill="#00ff18"/>
<rect x="600" y="591" width="18" height="18" fill="#00ff10"/>
<rect x="618" y="591" width="18" height="18" fill="#00ff08"/>
<rect x="636" y="591" width="18" height="18" fill="#00ff08"/>
<rect x="654" y="591" width="18" height="18" fill="#00ff08"/>
<rect x="672" y="591" width="19" height="18" fill="#00ff08"/>
<rect x="691" y="591" width="18" height="18" fill="#00ff08"/>
<rect x="709" y="591" width="18" height="18" fill="#00ff08"/>
<rect x="727" y="591" width="18" height="18" fill="#00ff08"/>
<rect x="745" y="591" width="18" height="18" fill="#00ff10"/>
<rect x="763" y="591" width="18" height="18" fill="#00ff18"/>
<rect x="781" y="591" width="19" height="18" fill="#00ff28"/>
<rect x="18" y="609" width="18" height="18" fill="#00eeff"/>
<rect x="36" y="609" width="18" height="18" fill="#00ffb8"/>
<rect x="54" y="609" width="19" height="18" fill="#00ffb8"/>
<rect x="73" y="609" width="18" height="18" fill="#00ffb8"/>
<rect x="91" y="609" width="18" height="18" fill="#00ffb0"/>
<rect x="109" y="609" width="18" height="18" fill="#00ffa0"/>
<rect x="127" y="609" width="18" height="18" fill="#00ff98"/>
<rect x="145" y="609" width="18" height="18" fill="#00ff90"/>
<rect x="163" y="609" width="19" height="18" fill="#00ff90"/>
<rect x="182" y="609" width="18" height="18" fill="#00ff98"/>
<rect x="200" y="609" width="18" height="18" fill="#00ffa0"/>
<rect x="218" y="609" width="18" height="18" fill="#00ffa0"/>
<rect x="236" y="609" width="18" height="18" fill="#00ff88"/>
<rect x="254" y="609" width="19" height="18" fill="#00ff70"/>
<rect x="273" y="609" width="18" height="18" fill="#00ff50"/>
<rect x="291" y="609" width="18" height="18" fill="#00ff60"/>
<rect x="309" y="609" width="18" height="18" fill="#00ff78"/>
<rect x="327" y="609" width="18" height="18" fill="#00ff88"/>
<rect x="345" y="609" width="18" height="18" fill="#00ff98"/>
<rect x="363" y="609" width="19" height="18" fill="#00ffa0"/>
<rect x="382" y="609" width="18" height="18" fill="#00ffa8"/>
<rect x="400" y="609" width="18" height="18" fill="#00ffa0"/>
<rect x="418" y="609" width="18" height="18" fill="#00ffa8"/>
<rect x="436" y="609" width="18" height="18" fill="#00ffa8"/>
<rect x="454" y="609" width="18" height="18" fill="#00ffa0"/>
<rect x="472" y="609" width="19" height="18" fill="#00ff90"/>
<rect x="491" y="609" width="18" height="18" fill="#00ff78"/>
<rect x="509" y="609" width="18" height="18" fill="#00ff58"/>
<rect x="527" y="609" width="18" height="18" fill="#00ff48"/>
<rect x="545" y="609" width="18" height="18" fill="#00ff38"/>
<rect x="563" y="609" width="19" height="18" fill="#00ff30"/>
<rect x="582" y="609" width="18" height="18" fill="#00ff20"/>
<rect x="600" y="609" width="18" height="18" fill="#00ff10"/>
<rect x="618" y="609" width="18" height="18" fill="#00ff08"/>
<rect x="636" y="609" width="18" height="18" fill="#00ff08"/>
<rect x="654" y="609" width="18" height="18" fill="#00ff08"/>
<rect x="672" y="609" width="19" height="18" fill="#00ff08"/>
<rect x="691" y="609" width="18" height="18" fill="#00ff08"/>
<rect x="709" y="609" width="18" height="18" fill="#00ff08"/>
<rect x="727" y="609" width="18" height="18" fill="#00ff08"/>
<rect x="745" y="609" width="18" height="18" fill="#00ff10"/>
<rect x="763" y="609" width="18" height="18" fill="#00ff18"/>
<rect x="781" y="609" width="19" height="18" fill="#00ff28"/>
<rect x="0" y="627" width="18" height="18" fill="#00ffb0"/>
<rect x="18" y="627" width="18" height="18" fill="#00ffc0"/>
<rect x="36" y="627" width="18" height="18" fill="#00ffa0"/>
<rect x="54" y="627" width="19" height="18" fill="#00ff98"/>
<rect x="73" y="627" width="18" height="18" fill="#00ff98"/>
<rect x="91" y="627" width="18" height="18" fill="#00ff70"/>
<rect x="109" y="627" width="18" height="18" fill="#00ff58"/>
<rect x="127" y="627" width="18" height="18" fill="#00ff50"/>
<rect x="145" y="627" width="18" height="18" fill="#00ff58"/>
<rect x="163" y="627" width="19" height="18" fill="#00ff68"/>
<rect x="182" y="627" width="18" height="18" fill="#00ff80"/>
<rect x="200" y="627" width="18" height="18" fill="#00ff78"/>
<rect x="218" y="627" width="18" height="18" fill="#00ff70"/>
<rect x="236" y="627" width="18" height="18" fill="#00ff60"/>
<rect x="254" y="627" width="19" height="18" fill="#00ff48"/>
<rect x="273" y="627" width="18" height="18" fill="#00ff20"/>
<rect x="291" y="627" width="18" height="18" fill="#00ff10"/>
<rect x="309" y="627" width="18" height="18" fill="#00ff30"/>
<rect x="327" y="627" width="18" height="18" fill="#00ff48"/>
<rect x="345" y="627" width="18" height="18" fill="#00ff68"/>
<rect x="363" y="627" width="19" height="18" fill="#00ff80"/>
<rect x="382" y="627" width="18" height="18" fill="#00ff90"/>
<rect x="400" y="627" width="18" height="18" fill="#00ff88"/>
<rect x="418" y="627" width="18" height="18" fill="#00ff90"/>
<rect x="436" y="627" width="18" height="18" fill="#00ff90"/>
<rect x="454" y="627" width="18" height="18" fill="#00ff88"/>
<rect x="472" y="627" width="19" height="18" fill="#00ff78"/>
<rect x="491" y="627" width="18" height="18" fill="#00ff68"/>
<rect x="509" y="627" width="18" height="18" fill="#00ff50"/>
<rect x="527" y="627" width="18" height="18" fill="#00ff38"/>
<rect x="545" y="627" width="18" height="18" fill="#00ff28"/>
<rect x="563" y="627" width="19" height="18" fill="#00ff20"/>
<rect x="582" y="627" width="18" height="18" fill="#00ff10"/>
<rect x="600" y="627" width="18" height="18" fill="#00ff10"/>
<rect x="618" y="627" width="18" height="18" fill="#00ff08"/>
<rect x="636" y="627" width="18" height="18" fill="#00ff08"/>
<rect x="654" y="627" width="18" height="18" fill="#00ff08"/>
<rect x="672" y="627" width="19" height="18" fill="#00ff08"/>
<rect x="691" y="627" width="18" height="18" fill="#00ff08"/>
<rect x="709" y="627" width="18" height="18" fill="#00ff08"/>
<rect x="727" y="627" width="18" height="18" fill="#00ff10"/>
<rect x="745" y="627" width="18" height="18" fill="#00ff10"/>
<rect x="763" y="627" width="18" height="18" fill="#00ff18"/>
<rect x="781" y="627" width="19" height="18" fill="#00ff28"/>
<rect x="0" y="645" width="18" height="19" fill="#00ff50"/>
<rect x="18" y="645" width="18" height="19" fill="#00ff50"/>
<rect x="36" y="645" width="18" height="19" fill="#00ff58"/>
<rect x="54" y="645" width="19" height="19" fill="#00ff60"/>
<rect x="73" y="645" width="18" height="19" fill="#00ff60"/>
<rect x="91" y="645" width="18" height="19" fill="#00ff30"/>
<rect x="109" y="645" width="18" height="19" fill="#00ff38"/>
<rect x="127" y="645" width="18" height="19" fill="#00ff40"/>
<rect x="145" y="645" width="18" height="19" fill="#00ff48"/>
<rect x="163" y="645" width="19" height="19" fill="#00ff58"/>
<rect x="182" y="645" width="18" height="19" fill="#00ff70"/>
<rect x="200" y="645" width="18" height="19" fill="#00ff68"/>
<rect x="218" y="645" width="18" height="19" fill="#00ff60"/>
<rect x="236" y="645" width="18" height="19" fill="#00ff58"/>
<rect x="254" y="645" width="19" height="19" fill="#00ff40"/>
<rect x="273" y="645" width="18" height="19" fill="#00ff20"/>
<rect x="291" y="645" width="18" height="19" fill="#00ff08"/>
<rect x="309" y="645" width="18" height="19" fill="#00ff10"/>
<rect x="327" y="645" width="18" height="19" fill="#00ff30"/>
<rect x="345" y="645" width="18" height="19" fill="#00ff58"/>
<rect x="363" y="645" width="19" height="19" fill="#00ff78"/>
<rect x="382" y="645" width="18" height="19" fill="#00ff88"/>
<rect x="400" y="645" width="18" height="19" fill="#00ff70"/>
<rect x="418" y="645" width="18" height="19" fill="#00ff78"/>
<rect x="436" y="645" width="18" height="19" fill="#00ff80"/>
<rect x="454" y="645" width="18" height="19" fill="#00ff78"/>
<rect x="472" y="645" width="19" height="19" fill="#00ff70"/>
<rect x="491" y="645" width="18" height="19" fill="#00ff60"/>
<rect x="509" y="645" width="18" height="19" fill="#00ff48"/>
<rect x="527" y="645" width="18" height="19" fill="#00ff30"/>
<rect x="545" y="645" width="18" height="19" fill="#00ff20"/>
<rect x="563" y="645" width="19" height="19" fill="#00ff10"/>
<rect x="582" y="645" width="18" height="19" fill="#00ff08"/>
<rect x="600" y="645" width="18" height="19" fill="#00ff10"/>
<rect x="618" y="645" width="18" height="19" fill="#00ff08"/>
<rect x="636" y="645" width="18" height="19" fill="#00ff08"/>
<rect x="654" y="645" width="18" height="19" fill="#00ff08"/>
<rect x="672" y="645" width="19" height="19" fill="#00ff08"/>
<rect x="691" y="645" width="18" height="19" fill="#00ff08"/>
<rect x="709" y="645" width="18" height="19" fill="#00ff10"/>
<rect x="727" y="645" width="18" height="19" fill="#00ff18"/>
<rect x="745" y="645" width="18" height="19" fill="#00ff20"/>
<rect x="763" y="645" width="18" height="19" fill="#00ff28"/>
<rect x="781" y="645" width="19" height="19" fill="#00ff30"/>
<rect x="0" y="664" width="18" height="18" fill="#00ff20"/>
<rect x="18" y="664" width="18" height="18" fill="#00ff20"/>
<rect x="36" y="664" width="18" height="18" fill="#00ff40"/>
<rect x="54" y="664" width="19" height="18" fill="#00ff50"/>
<rect x="73" y="664" width="18" height="18" fill="#00ff50"/>
<rect x="91" y="664" width="18" height="18" fill="#00ff30"/>
<rect x="109" y="664" width="18" height="18" fill="#00ff40"/>
<rect x="127" y="664" width="18" height="18" fill="#00ff48"/>
<rect x="145" y="664" width="18" height="18" fill="#00ff50"/>
<rect x="163" y="664" width="19" height="18" fill="#00ff58"/>
<rect x="182" y="664" width="18" height="18" fill="#00ff70"/>
<rect x="200" y="664" width="18" height="18" fill="#00ff68"/>
<rect x="218" y="664" width="18" height="18" fill="#00ff60"/>
<rect x="236" y="664" width="18" height="18" fill="#00ff58"/>
<rect x="254" y="664" width="19" height="18" fill="#00ff48"/>
<rect x="273" y="664" width="18" height="18" fill="#00ff38"/>
<rect x="291" y="664" width="18" height="18" fill="#00ff20"/>
<rect x="309" y="664" width="18" height="18" fill="#00ff20"/>
<rect x="327" y="664" width="18" height="18" fill="#00ff38"/>
<rect x="345" y="664" width="18" height="18" fill="#00ff58"/>
<rect x="363" y="664" width="19" height="18" fill="#00ff78"/>
<rect x="382" y="664" width="18" height="18" fill="#00ff88"/>
<rect x="400" y="664" width="18" height="18" fill="#00ff78"/>
<rect x="418" y="664" width="18" height="18" fill="#00ff80"/>
<rect x="436" y="664" width="18" height="18" fill="#00ff78"/>
<rect x="454" y="664" width="18" height="18" fill="#00ff70"/>
<rect x="472" y="664" width="19" height="18" fill="#00ff60"/>
<rect x="491" y="664" width="18" height="18" fill="#00ff50"/>
<rect x="509" y="664" width="18" height="18" fill="#00ff40"/>
<rect x="527" y="664" width="18" height="18" fill="#00ff28"/>
<rect x="545" y="664" width="18" height="18" fill="#00ff18"/>
<rect x="563" y="664" width="19" height="18" fill="#00ff10"/>
<rect x="582" y="664" width="18" height="18" fill="#00ff08"/>
<rect x="600" y="664" width="18" height="18" fill="#00ff08"/>
<rect x="618" y="664" width="18" height="18" fill="#00ff08"/>
<rect x="636" y="664" width="18" height="18" fill="#00ff08"/>
<rect x="654" y="664" width="18" height="18" fill="#00ff08"/>
<rect x="672" y="664" width="19" height="18" fill="#00ff10"/>
<rect x="691" y="664" width="18" height="18" fill="#00ff18"/>
<rect x="709" y="664" width="18" height="18" fill="#00ff20"/>
<rect x="727" y="664" width="18" height="18" fill="#00ff28"/>
<rect x="745" y="664" width="18" height="18" fill="#00ff30"/>
<rect x="763" y="664" width="18" height="18" fill="#00ff38"/>
<rect x="781" y="664" width="19" height="18" fill="#00ff40"/>
<rect x="0" y="682" width="18" height="18" fill="#00ff70"/>
<rect x="18" y="682" width="18" height="18" fill="#00ff58"/>
<rect x="36" y="682" width="18" height="18" fill="#00ff50"/>
<rect x="54" y="682" width="19" height="18" fill="#00ff48"/>
<rect x="73" y="682" width="18" height="18" fill="#00ff48"/>
<rect x="91" y="682" width="18" height="18" fill="#00ff30"/>
<rect x="109" y="682" width="18" height="18" fill="#00ff48"/>
<rect x="127" y="682" width="18" height="18" fill="#00ff58"/>
<rect x="145" y="682" width="18" height="18" fill="#00ff60"/>
<rect x="163" y="682" width="19" height="18" fill="#00ff68"/>
<rect x="182" y="682" width="18" height="18" fill="#00ff78"/>
<rect x="200" y="682" width="18" height="18" fill="#00ff70"/>
<rect x="218" y="682" width="18" height="18" fill="#00ff70"/>
<rect x="236" y="682" width="18" height="18" fill="#00ff68"/>
<rect x="254" y="682" width="19" height="18" fill="#00ff60"/>
<rect x="273" y="682" width="18" height="18" fill="#00ff58"/>
<rect x="291" y="682" width="18" height="18" fill="#00ff58"/>
<rect x="309" y="682" width="18" height="18" fill="#00ff58"/>
<rect x="327" y="682" width="18" height="18" fill="#00ff68"/>
<rect x="345" y="682" width="18" height="18" fill="#00ff80"/>
<rect x="363" y="682" width="19" height="18" fill="#00ff90"/>
<rect x="382" y="682" width="18" height="18" fill="#00ffa0"/>
<rect x="400" y="682" width="18" height="18" fill="#00ffb0"/>
<rect x="418" y="682" width="18" height="18" fill="#00ffa8"/>
<rect x="436" y="682" width="18" height="18" fill="#00ff90"/>
<rect x="454" y="682" width="18" height="18" fill="#00ff80"/>
<rect x="472" y="682" width="19" height="18" fill="#00ff68"/>
<rect x="491" y="682" width="18" height="18" fill="#00ff58"/>
<rect x="509" y="682" width="18" height="18" fill="#00ff40"/>
<rect x="527" y="682" width="18" height="18" fill="#00ff28"/>
<rect x="545" y="682" width="18" height="18" fill="#00ff18"/>
<rect x="563" y="682" width="19" height="18" fill="#00ff10"/>
<rect x="582" y="682" width="18" height="18" fill="#00ff08"/>
<rect x="600" y="682" width="18" height="18" fill="#00ff08"/>
<rect x="618" y="682" width="18" height="18" fill="#00ff08"/>
<rect x="636" y="682" width="18" height="18" fill="#00ff08"/>
<rect x="654" y="682" width="18" height="18" fill="#00ff10"/>
<rect x="672" y="682" width="19" height="18" fill="#00ff18"/>
<rect x="691" y="682" width="18" height="18" fill="#00ff28"/>
<rect x="709" y="682" width="18" height="18" fill="#00ff38"/>
<rect x="727" y="682" width="18" height="18" fill="#00ff48"/>
<rect x="745" y="682" width="18" height="18" fill="#00ff58"/>
<rect x="763" y="682" width="18" height="18" fill="#00ff68"/>
<rect x="781" y="682" width="19" height="18" fill="#00ff70"/>
<rect x="0" y="700" width="18" height="18" fill="#00ff98"/>
<rect x="18" y="700" width="18" height="18" fill="#00ff80"/>
<rect x="36" y="700" width="18" height="18" fill="#00ff68"/>
<rect x="54" y="700" width="19" height="18" fill="#00ff58"/>
<rect x="73" y="700" width="18" height="18" fill="#00ff58"/>
<rect x="91" y="700" width="18" height="18" fill="#00ff48"/>
<rect x="109" y="700" width="18" height="18" fill="#00ff58"/>
<rect x="127" y="700" width="18" height="18" fill="#00ff68"/>
<rect x="145" y="700" width="18" height="18" fill="#00ff70"/>
<rect x="163" y="700" width="19" height="18" fill="#00ff78"/>
<rect x="182" y="700" width="18" height="18" fill="#00ff80"/>
<rect x="200" y="700" width="18" height="18" fill="#00ff78"/>
<rect x="218" y="700" width="18" height="18" fill="#00ff78"/>
<rect x="236" y="700" width="18" height="18" fill="#00ff78"/>
<rect x="254" y="700" width="19" height="18" fill="#00ff70"/>
<rect x="273" y="700" width="18" height="18" fill="#00ff68"/>
<rect x="291" y="700" width="18" height="18" fill="#00ff70"/>
<rect x="309" y="700" width="18" height="18" fill="#00ff70"/>
<rect x="327" y="700" width="18" height="18" fill="#00ff78"/>
<rect x="345" y="700" width="18" height="18" fill="#00ff88"/>
<rect x="363" y="700" width="19" height="18" fill="#00ff98"/>
<rect x="382" y="700" width="18" height="18" fill="#00ffa8"/>
<rect x="400" y="700" width="18" height="18" fill="#00ffa8"/>
<rect x="418" y="700" width="18" height="18" fill="#00ffa8"/>
<rect x="436" y="700" width="18" height="18" fill="#00ff90"/>
<rect x="454" y="700" width="18" height="18" fill="#00ff78"/>
<rect x="472" y="700" width="19" height="18" fill="#00ff68"/>
<rect x="491" y="700" width="18" height="18" fill="#00ff58"/>
<rect x="509" y="700" width="18" height="18" fill="#00ff40"/>
<rect x="527" y="700" width="18" height="18" fill="#00ff28"/>
<rect x="545" y="700" width="18" height="18" fill="#00ff18"/>
<rect x="563" y="700" width="19" height="18" fill="#00ff10"/>
<rect x="582" y="700" width="18" height="18" fill="#00ff08"/>
<rect x="600" y="700" width="18" height="18" fill="#00ff08"/>
<rect x="618" y="700" width="18" height="18" fill="#00ff08"/>
<rect x="636" y="700" width="18" height="18" fill="#00ff10"/>
<rect x="654" y="700" width="18" height="18" fill="#00ff18"/>
<rect x="672" y="700" width="19" height="18" fill="#00ff28"/>
<rect x="691" y="700" width="18" height="18" fill="#00ff40"/>
<rect x="709" y="700" width="18" height="18" fill="#00ff58"/>
<rect x="727" y="700" width="18" height="18" fill="#00ff70"/>
<rect x="745" y="700" width="18" height="18" fill="#00ff80"/>
<rect x="763" y="700" width="18" height="18" fill="#00ff88"/>
<rect x="781" y="700" width="19" height="18" fill="#00ff90"/>
<rect x="0" y="718" width="18" height="18" fill="#00ffb8"/>
<rect x="18" y="718" width="18" height="18" fill="#00ffa0"/>
<rect x="36" y="718" width="18" height="18" fill="#00ff80"/>
<rect x="54" y="718" width="19" height="18" fill="#00ff70"/>
<rect x="73" y="718" width="18" height="18" fill="#00ff70"/>
<rect x="91" y="718" width="18" height="18" fill="#00ff58"/>
<rect x="109" y="718" width="18" height="18" fill="#00ff68"/>
<rect x="127" y="718" width="18" height="18" fill="#00ff78"/>
<rect x="145" y="718" width="18" height="18" fill="#00ff80"/>
<rect x="163" y="718" width="19" height="18" fill="#00ff88"/>
<rect x="182" y="718" width="18" height="18" fill="#00ff88"/>
<rect x="200" y="718" width="18" height="18" fill="#00ff80"/>
<rect x="218" y="718" width="18" height="18" fill="#00ff80"/>
<rect x="236" y="718" width="18" height="18" fill="#00ff80"/>
<rect x="254" y="718" width="19" height="18" fill="#00ff78"/>
<rect x="273" y="718" width="18" height="18" fill="#00ff78"/>
<rect x="291" y="718" width="18" height="18" fill="#00ff78"/>
<rect x="309" y="718" width="18" height="18" fill="#00ff78"/>
<rect x="327" y="718" width="18" height="18" fill="#00ff80"/>
<rect x="345" y="718" width="18" height="18" fill="#00ff90"/>
<rect x="363" y="718" width="19" height="18" fill="#00ffa0"/>
<rect x="382" y="718" width="18" height="18" fill="#00ffb0"/>
<rect x="400" y="718" width="18" height="18" fill="#00ff90"/>
<rect x="418" y="718" width="18" height="18" fill="#00ff88"/>
<rect x="436" y="718" width="18" height="18" fill="#00ff78"/>
<rect x="454" y="718" width="18" height="18" fill="#00ff68"/>
<rect x="472" y="718" width="19" height="18" fill="#00ff60"/>
<rect x="491" y="718" width="18" height="18" fill="#00ff50"/>
<rect x="509" y="718" width="18" height="18" fill="#00ff38"/>
<rect x="527" y="718" width="18" height="18" fill="#00ff20"/>
<rect x="545" y="718" width="18" height="18" fill="#00ff10"/>
<rect x="563" y="718" width="19" height="18" fill="#00ff08"/>
<rect x="582" y="718" width="18" height="18" fill="#00ff08"/>
<rect x="600" y="718" width="18" height="18" fill="#00ff08"/>
<rect x="618" y="718" width="18" height="18" fill="#00ff10"/>
<rect x="636" y="718" width="18" height="18" fill="#00ff18"/>
<rect x="654" y="718" width="18" height="18" fill="#00ff28"/>
<rect x="672" y="718" width="19" height="18" fill="#00ff38"/>
<rect x="691" y="718" width="18" height="18" fill="#00ff58"/>
<rect x="709" y="718" width="18" height="18" fill="#00ff78"/>
<rect x="727" y="718" width="18" height="18" fill="#00ff90"/>
<rect x="745" y="718" width="18" height="18" fill="#00ff98"/>
<rect x="763" y="718" width="18" height="18" fill="#00ffa0"/>
<rect x="781" y="718" width="19" height="18" fill="#00ffa0"/>
<rect x="0" y="736" width="18" height="18" fill="#00ffc8"/>
<rect x="18" y="736" width="18" height="18" fill="#00ffb0"/>
<rect x="36" y="736" width="18" height="18" fill="#00ffa0"/>
<rect x="54" y="736" width="19" height="18" fill="#00ff90"/>
<rect x="73" y="736" width="18" height="18" fill="#00ff90"/>
<rect x="91" y="736" width="18" height="18" fill="#00ff78"/>
<rect x="109" y="736" width="18" height="18" fill="#00ff80"/>
<rect x="127" y="736" width="18" height="18" fill="#00ff88"/>
<rect x="145" y="736" width="18" height="18" fill="#00ff90"/>
<rect x="163" y="736" width="19" height="18" fill="#00ff98"/>
<rect x="182" y="736" width="18" height="18" fill="#00ff90"/>
<rect x="200" y="736" width="18" height="18" fill="#00ff88"/>
<rect x="218" y="736" width="18" height="18" fill="#00ff88"/>
<rect x="236" y="736" width="18" height="18" fill="#00ff88"/>
<rect x="254" y="736" width="19" height="18" fill="#00ff80"/>
<rect x="273" y="736" width="18" height="18" fill="#00ff80"/>
<rect x="291" y="736" width="18" height="18" fill="#00ff80"/>
<rect x="309" y="736" width="18" height="18" fill="#00ff80"/>
<rect x="327" y="736" width="18" height="18" fill="#00ff88"/>
<rect x="345" y="736" width="18" height="18" fill="#00ff98"/>
<rect x="363" y="736" width="19" height="18" fill="#00ffa8"/>
<rect x="382" y="736" width="18" height="18" fill="#00ffb8"/>
<rect x="400" y="736" width="18" height="18" fill="#00ff88"/>
<rect x="418" y="736" width="18" height="18" fill="#00ff80"/>
<rect x="436" y="736" width="18" height="18" fill="#00ff70"/>
<rect x="454" y="736" width="18" height="18" fill="#00ff60"/>
<rect x="472" y="736" width="19" height="18" fill="#00ff50"/>
<rect x="491" y="736" width="18" height="18" fill="#00ff48"/>
<rect x="509" y="736" width="18" height="18" fill="#00ff30"/>
<rect x="527" y="736" width="18" height="18" fill="#00ff18"/>
<rect x="545" y="736" width="18" height="18" fill="#00ff08"/>
<rect x="563" y="736" width="19" height="18" fill="#00ff08"/>
<rect x="582" y="736" width="18" height="18" fill="#00ff08"/>
<rect x="600" y="736" width="18" height="18" fill="#00ff08"/>
<rect x="618" y="736" width="18" height="18" fill="#00ff10"/>
<rect x="636" y="736" width="18" height="18" fill="#00ff20"/>
<rect x="654" y="736" width="18" height="18" fill="#00ff30"/>
<rect x="672" y="736" width="19" height="18" fill="#00ff48"/>
<rect x="691" y="736" width="18" height="18" fill="#00ff68"/>
<rect x="709" y="736" width="18" height="18" fill="#00ff88"/>
<rect x="727" y="736" width="18" height="18" fill="#00ff98"/>
<rect x="745" y="736" width="18" height="18" fill="#00ffa8"/>
<rect x="763" y="736" width="18" height="18" fill="#00ffa8"/>
<rect x="781" y="736" width="19" height="18" fill="#00ffa8"/>
<rect x="0" y="754" width="18" height="18" fill="#00ffd8"/>
<rect x="18" y="754" width="18" height="18" fill="#00ffc0"/>
<rect x="36" y="754" width="18" height="18" fill="#00ffb0"/>
<rect x="54" y="754" width="19" height="18" fill="#00ffa8"/>
<rect x="73" y="754" width="18" height="18" fill="#00ffa8"/>
<rect x="91" y="754" width="18" height="18" fill="#00ff98"/>
<rect x="109" y="754" width="18" height="18" fill="#00ff98"/>
<rect x="127" y="754" width="18" height="18" fill="#00ffa0"/>
<rect x="145" y="754" width="18" height="18" fill="#00ffa0"/>
<rect x="163" y="754" width="19" height="18" fill="#00ffa8"/>
<rect x="182" y="754" width="18" height="18" fill="#00ff98"/>
<rect x="200" y="754" width="18" height="18" fill="#00ff98"/>
<rect x="218" y="754" width="18" height="18" fill="#00ff98"/>
<rect x="236" y="754" width="18" height="18" fill="#00ff90"/>
<rect x="254" y="754" width="19" height="18" fill="#00ff90"/>
<rect x="273" y="754" width="18" height="18" fill="#00ff88"/>
<rect x="291" y="754" width="18" height="18" fill="#00ff88"/>
<rect x="309" y="754" width="18" height="18" fill="#00ff88"/>
<rect x="327" y="754" width="18" height="18" fill="#00ff90"/>
<rect x="345" y="754" width="18" height="18" fill="#00ffa0"/>
<rect x="363" y="754" width="19" height="18" fill="#00ffa8"/>
<rect x="382" y="754" width="18" height="18" fill="#00ffb8"/>
<rect x="400" y="754" width="18" height="18" fill="#00ff80"/>
<rect x="418" y="754" width="18" height="18" fill="#00ff78"/>
<rect x="436" y="754" width="18" height="18" fill="#00ff68"/>
<rect x="454" y="754" width="18" height="18" fill="#00ff58"/>
<rect x="472" y="754" width="19" height="18" fill="#00ff50"/>
<rect x="491" y="754" width="18" height="18" fill="#00ff40"/>
<rect x="509" y="754" width="18" height="18" fill="#00ff28"/>
<rect x="527" y="754" width="18" height="18" fill="#00ff18"/>
<rect x="545" y="754" width="18" height="18" fill="#00ff08"/>
<rect x="563" y="754" width="19" height="18" fill="#00ff08"/>
<rect x="582" y="754" width="18" height="18" fill="#00ff08"/>
<rect x="600" y="754" width="18" height="18" fill="#00ff10"/>
<rect x="618" y="754" width="18" height="18" fill="#00ff18"/>
<rect x="636" y="754" width="18" height="18" fill="#00ff28"/>
<rect x="654" y="754" width="18" height="18" fill="#00ff40"/>
<rect x="672" y="754" width="19" height="18" fill="#00ff58"/>
<rect x="691" y="754" width="18" height="18" fill="#00ff78"/>
<rect x="709" y="754" width="18" height="18" fill="#00ff98"/>
<rect x="727" y="754" width="18" height="18" fill="#00ffa8"/>
<rect x="745" y="754" width="18" height="18" fill="#00ffb0"/>
<rect x="763" y="754" width="18" height="18" fill="#00ffb0"/>
<rect x="781" y="754" width="19" height="18" fill="#00ffb0"/>
</g>
<clipPath id="oc"><path d="M709 27H727V46H709ZM763 27H781V46H763ZM781 27H800V46H781ZM691 46H709V64H691ZM709 46H727V64H709ZM745 46H763V64H745ZM763 46H781V64H763ZM781 46H800V64H781ZM672 64H691V82H672ZM691 64H709V82H691ZM709 64H727V82H709ZM727 64H745V82H727ZM745 64H763V82H745ZM763 64H781V82H763ZM781 64H800V82H781ZM654 82H672V100H654ZM672 82H691V100H672ZM691 82H709V100H691ZM709 82H727V100H709ZM727 82H745V100H727ZM745 82H763V100H745ZM763 82H781V100H763ZM781 82H800V100H781ZM672 100H691V118H672ZM691 100H709V118H691ZM709 100H727V118H709ZM727 100H745V118H727ZM745 100H763V118H745ZM763 100H781V118H763ZM781 100H800V118H781ZM654 118H672V136H654ZM672 118H691V136H672ZM691 118H709V136H691ZM709 118H727V136H709ZM727 118H745V136H727ZM745 118H763V136H745ZM763 118H781V136H763ZM781 118H800V136H781ZM636 136H654V155H636ZM654 136H672V155H654ZM672 136H691V155H672ZM691 136H709V155H691ZM709 136H727V155H709ZM727 136H745V155H727ZM745 136H763V155H745ZM763 136H781V155H763ZM781 136H800V155H781ZM636 155H654V173H636ZM654 155H672V173H654ZM672 155H691V173H672ZM691 155H709V173H691ZM709 155H727V173H709ZM727 155H745V173H727ZM745 155H763V173H745ZM763 155H781V173H763ZM781 155H800V173H781ZM618 173H636V191H618ZM636 173H654V191H636ZM654 173H672V191H654ZM672 173H691V191H672ZM691 173H709V191H691ZM709 173H727V191H709ZM727 173H745V191H727ZM745 173H763V191H745ZM763 173H781V191H763ZM781 173H800V191H781ZM600 191H618V209H600ZM618 191H636V209H618ZM636 191H654V209H636ZM654 191H672V209H654ZM672 191H691V209H672ZM691 191H709V209H691ZM709 191H727V209H709ZM727 191H745V209H727ZM745 191H763V209H745ZM763 191H781V209H763ZM781 191H800V209H781ZM582 209H600V227H582ZM600 209H618V227H600ZM618 209H636V227H618ZM636 209H654V227H636ZM654 209H672V227H654ZM672 209H691V227H672ZM691 209H709V227H691ZM709 209H727V227H709ZM727 209H745V227H727ZM745 209H763V227H745ZM763 209H781V227H763ZM781 209H800V227H781ZM563 227H582V246H563ZM582 227H600V246H582ZM600 227H618V246H600ZM618 227H636V246H618ZM636 227H654V246H636ZM654 227H672V246H654ZM672 227H691V246H672ZM691 227H709V246H691ZM709 227H727V246H709ZM727 227H745V246H727ZM745 227H763V246H745ZM763 227H781V246H763ZM781 227H800V246H781ZM545 246H563V264H545ZM563 246H582V264H563ZM582 246H600V264H582ZM600 246H618V264H600ZM618 246H636V264H618ZM636 246H654V264H636ZM654 246H672V264H654ZM672 246H691V264H672ZM691 246H709V264H691ZM709 246H727V264H709ZM727 246H745V264H727ZM745 246H763V264H745ZM763 246H781V264H763ZM781 246H800V264H781ZM200 264H218V282H200ZM545 264H563V282H545ZM563 264H582V282H563ZM582 264H600V282H582ZM600 264H618V282H600ZM618 264H636V282H618ZM636 264H654V282H636ZM654 264H672V282H654ZM672 264H691V282H672ZM691 264H709V282H691ZM709 264H727V282H709ZM727 264H745V282H727ZM745 264H763V282H745ZM763 264H781V282H763ZM781 264H800V282H781ZM200 282H218V300H200ZM218 282H236V300H218ZM236 282H254V300H236ZM254 282H273V300H254ZM273 282H291V300H273ZM527 282H545V300H527ZM545 282H563V300H545ZM563 282H582V300H563ZM582 282H600V300H582ZM600 282H618V300H600ZM618 282H636V300H618ZM636 282H654V300H636ZM654 282H672V300H654ZM672 282H691V300H672ZM691 282H709V300H691ZM709 282H727V300H709ZM727 282H745V300H727ZM745 282H763V300H745ZM763 282H781V300H763ZM781 282H800V300H781ZM218 300H236V318H218ZM236 300H254V318H236ZM254 300H273V318H254ZM273 300H291V318H273ZM291 300H309V318H291ZM309 300H327V318H309ZM491 300H509V318H491ZM509 300H527V318H509ZM527 300H545V318H527ZM545 300H563V318H545ZM563 300H582V318H563ZM582 300H600V318H582ZM600 300H618V318H600ZM618 300H636V318H618ZM636 300H654V318H636ZM654 300H672V318H654ZM672 300H691V318H672ZM691 300H709V318H691ZM709 300H727V318H709ZM727 300H745V318H727ZM745 300H763V318H745ZM763 300H781V318H763ZM781 300H800V318H781ZM254 318H273V336H254ZM273 318H291V336H273ZM291 318H309V336H291ZM309 318H327V336H309ZM327 318H345V336H327ZM345 318H363V336H345ZM363 318H382V336H363ZM382 318H400V336H382ZM400 318H418V336H400ZM418 318H436V336H418ZM436 318H454V336H436ZM454 318H472V336H454ZM472 318H491V336H472ZM491 318H509V336H491ZM509 318H527V336H509ZM527 318H545V336H527ZM545 318H563V336H545ZM563 318H582V336H563ZM582 318H600V336H582ZM600 318H618V336H600ZM618 318H636V336H618ZM636 318H654V336H636ZM654 318H672V336H654ZM672 318H691V336H672ZM691 318H709V336H691ZM709 318H727V336H709ZM727 318H745V336H727ZM745 318H763V336H745ZM763 318H781V336H763ZM781 318H800V336H781ZM291 336H309V355H291ZM309 336H327V355H309ZM327 336H345V355H327ZM345 336H363V355H345ZM363 336H382V355H363ZM382 336H400V355H382ZM400 336H418V355H400ZM418 336H436V355H418ZM436 336H454V355H436ZM454 336H472V355H454ZM472 336H491V355H472ZM491 336H509V355H491ZM509 336H527V355H509ZM527 336H545V355H527ZM545 336H563V355H545ZM563 336H582V355H563ZM582 336H600V355H582ZM600 336H618V355H600ZM618 336H636V355H618ZM636 336H654V355H636ZM654 336H672V355H654ZM672 336H691V355H672ZM691 336H709V355H691ZM709 336H727V355H709ZM727 336H745V355H727ZM745 336H763V355H745ZM763 336H781V355H763ZM781 336H800V355H781ZM291 355H309V373H291ZM309 355H327V373H309ZM327 355H345V373H327ZM345 355H363V373H345ZM363 355H382V373H363ZM382 355H400V373H382ZM400 355H418V373H400ZM418 355H436V373H418ZM436 355H454V373H436ZM454 355H472V373H454ZM472 355H491V373H472ZM491 355H509V373H491ZM509 355H527V373H509ZM527 355H545V373H527ZM545 355H563V373H545ZM563 355H582V373H563ZM582 355H600V373H582ZM600 355H618V373H600ZM618 355H636V373H618ZM636 355H654V373H636ZM654 355H672V373H654ZM672 355H691V373H672ZM691 355H709V373H691ZM709 355H727V373H709ZM727 355H745V373H727ZM745 355H763V373H745ZM763 355H781V373H763ZM781 355H800V373H781ZM273 373H291V391H273ZM291 373H309V391H291ZM309 373H327V391H309ZM327 373H345V391H327ZM345 373H363V391H345ZM363 373H382V391H363ZM382 373H400V391H382ZM400 373H418V391H400ZM418 373H436V391H418ZM436 373H454V391H436ZM454 373H472V391H454ZM472 373H491V391H472ZM491 373H509V391H491ZM509 373H527V391H509ZM527 373H545V391H527ZM545 373H563V391H545ZM563 373H582V391H563ZM582 373H600V391H582ZM600 373H618V391H600ZM618 373H636V391H618ZM636 373H654V391H636ZM654 373H672V391H654ZM672 373H691V391H672ZM691 373H709V391H691ZM709 373H727V391H709ZM727 373H745V391H727ZM745 373H763V391H745ZM763 373H781V391H763ZM781 373H800V391H781ZM273 391H291V409H273ZM291 391H309V409H291ZM309 391H327V409H309ZM327 391H345V409H327ZM345 391H363V409H345ZM363 391H382V409H363ZM382 391H400V409H382ZM400 391H418V409H400ZM418 391H436V409H418ZM436 391H454V409H436ZM454 391H472V409H454ZM472 391H491V409H472ZM491 391H509V409H491ZM509 391H527V409H509ZM527 391H545V409H527ZM545 391H563V409H545ZM563 391H582V409H563ZM582 391H600V409H582ZM600 391H618V409H600ZM618 391H636V409H618ZM636 391H654V409H636ZM654 391H672V409H654ZM672 391H691V409H672ZM691 391H709V409H691ZM709 391H727V409H709ZM727 391H745V409H727ZM745 391H763V409H745ZM763 391H781V409H763ZM781 391H800V409H781ZM291 409H309V427H291ZM309 409H327V427H309ZM327 409H345V427H327ZM345 409H363V427H345ZM363 409H382V427H363ZM382 409H400V427H382ZM400 409H418V427H400ZM418 409H436V427H418ZM436 409H454V427H436ZM454 409H472V427H454ZM472 409H491V427H472ZM491 409H509V427H491ZM509 409H527V427H509ZM527 409H545V427H527ZM545 409H563V427H545ZM563 409H582V427H563ZM582 409H600V427H582ZM600 409H618V427H600ZM618 409H636V427H618ZM636 409H654V427H636ZM654 409H672V427H654ZM672 409H691V427H672ZM691 409H709V427H691ZM709 409H727V427H709ZM727 409H745V427H727ZM745 409H763V427H745ZM763 409H781V427H763ZM781 409H800V427H781ZM327 427H345V445H327ZM345 427H363V445H345ZM363 427H382V445H363ZM382 427H400V445H382ZM400 427H418V445H400ZM418 427H436V445H418ZM436 427H454V445H436ZM454 427H472V445H454ZM472 427H491V445H472ZM491 427H509V445H491ZM509 427H527V445H509ZM527 427H545V445H527ZM545 427H563V445H545ZM563 427H582V445H563ZM582 427H600V445H582ZM600 427H618V445H600ZM618 427H636V445H618ZM636 427H654V445H636ZM654 427H672V445H654ZM672 427H691V445H672ZM691 427H709V445H691ZM709 427H727V445H709ZM727 427H745V445H727ZM745 427H763V445H745ZM763 427H781V445H763ZM781 427H800V445H781ZM327 445H345V464H327ZM345 445H363V464H345ZM363 445H382V464H363ZM382 445H400V464H382ZM400 445H418V464H400ZM418 445H436V464H418ZM436 445H454V464H436ZM454 445H472V464H454ZM472 445H491V464H472ZM491 445H509V464H491ZM509 445H527V464H509ZM527 445H545V464H527ZM545 445H563V464H545ZM563 445H582V464H563ZM582 445H600V464H582ZM600 445H618V464H600ZM618 445H636V464H618ZM636 445H654V464H636ZM654 445H672V464H654ZM672 445H691V464H672ZM691 445H709V464H691ZM709 445H727V464H709ZM727 445H745V464H727ZM745 445H763V464H745ZM763 445H781V464H763ZM781 445H800V464H781ZM327 464H345V482H327ZM345 464H363V482H345ZM363 464H382V482H363ZM382 464H400V482H382ZM400 464H418V482H400ZM418 464H436V482H418ZM436 464H454V482H436ZM454 464H472V482H454ZM472 464H491V482H472ZM491 464H509V482H491ZM509 464H527V482H509ZM527 464H545V482H527ZM545 464H563V482H545ZM563 464H582V482H563ZM582 464H600V482H582ZM600 464H618V482H600ZM618 464H636V482H618ZM636 464H654V482H636ZM654 464H672V482H654ZM672 464H691V482H672ZM691 464H709V482H691ZM709 464H727V482H709ZM727 464H745V482H727ZM745 464H763V482H745ZM763 464H781V482H763ZM781 464H800V482H781ZM309 482H327V500H309ZM327 482H345V500H327ZM345 482H363V500H345ZM363 482H382V500H363ZM382 482H400V500H382ZM400 482H418V500H400ZM418 482H436V500H418ZM436 482H454V500H436ZM454 482H472V500H454ZM472 482H491V500H472ZM491 482H509V500H491ZM509 482H527V500H509ZM527 482H545V500H527ZM545 482H563V500H545ZM563 482H582V500H563ZM582 482H600V500H582ZM600 482H618V500H600ZM618 482H636V500H618ZM636 482H654V500H636ZM654 482H672V500H654ZM672 482H691V500H672ZM691 482H709V500H691ZM709 482H727V500H709ZM727 482H745V500H727ZM745 482H763V500H745ZM763 482H781V500H763ZM781 482H800V500H781ZM291 500H309V518H291ZM309 500H327V518H309ZM327 500H345V518H327ZM345 500H363V518H345ZM363 500H382V518H363ZM382 500H400V518H382ZM400 500H418V518H400ZM418 500H436V518H418ZM436 500H454V518H436ZM454 500H472V518H454ZM472 500H491V518H472ZM491 500H509V518H491ZM509 500H527V518H509ZM527 500H545V518H527ZM545 500H563V518H545ZM563 500H582V518H563ZM582 500H600V518H582ZM600 500H618V518H600ZM618 500H636V518H618ZM636 500H654V518H636ZM654 500H672V518H654ZM672 500H691V518H672ZM691 500H709V518H691ZM709 500H727V518H709ZM727 500H745V518H727ZM745 500H763V518H745ZM763 500H781V518H763ZM781 500H800V518H781ZM273 518H291V536H273ZM291 518H309V536H291ZM309 518H327V536H309ZM327 518H345V536H327ZM345 518H363V536H345ZM363 518H382V536H363ZM382 518H400V536H382ZM400 518H418V536H400ZM418 518H436V536H418ZM436 518H454V536H436ZM454 518H472V536H454ZM472 518H491V536H472ZM491 518H509V536H491ZM509 518H527V536H509ZM527 518H545V536H527ZM545 518H563V536H545ZM563 518H582V536H563ZM582 518H600V536H582ZM600 518H618V536H600ZM618 518H636V536H618ZM636 518H654V536H636ZM654 518H672V536H654ZM672 518H691V536H672ZM691 518H709V536H691ZM709 518H727V536H709ZM727 518H745V536H727ZM745 518H763V536H745ZM763 518H781V536H763ZM781 518H800V536H781ZM254 536H273V554H254ZM273 536H291V554H273ZM291 536H309V554H291ZM309 536H327V554H309ZM327 536H345V554H327ZM345 536H363V554H345ZM363 536H382V554H363ZM382 536H400V554H382ZM400 536H418V554H400ZM418 536H436V554H418ZM436 536H454V554H436ZM454 536H472V554H454ZM472 536H491V554H472ZM491 536H509V554H491ZM509 536H527V554H509ZM527 536H545V554H527ZM545 536H563V554H545ZM563 536H582V554H563ZM582 536H600V554H582ZM600 536H618V554H600ZM618 536H636V554H618ZM636 536H654V554H636ZM654 536H672V554H654ZM672 536H691V554H672ZM691 536H709V554H691ZM709 536H727V554H709ZM727 536H745V554H727ZM745 536H763V554H745ZM763 536H781V554H763ZM781 536H800V554H781ZM236 554H254V573H236ZM254 554H273V573H254ZM273 554H291V573H273ZM291 554H309V573H291ZM309 554H327V573H309ZM327 554H345V573H327ZM345 554H363V573H345ZM363 554H382V573H363ZM382 554H400V573H382ZM400 554H418V573H400ZM418 554H436V573H418ZM436 554H454V573H436ZM454 554H472V573H454ZM472 554H491V573H472ZM491 554H509V573H491ZM509 554H527V573H509ZM527 554H545V573H527ZM545 554H563V573H545ZM563 554H582V573H563ZM582 554H600V573H582ZM600 554H618V573H600ZM618 554H636V573H618ZM636 554H654V573H636ZM654 554H672V573H654ZM672 554H691V573H672ZM691 554H709V573H691ZM709 554H727V573H709ZM727 554H745V573H727ZM745 554H763V573H745ZM763 554H781V573H763ZM781 554H800V573H781ZM200 573H218V591H200ZM218 573H236V591H218ZM236 573H254V591H236ZM254 573H273V591H254ZM273 573H291V591H273ZM291 573H309V591H291ZM309 573H327V591H309ZM327 573H345V591H327ZM345 573H363V591H345ZM363 573H382V591H363ZM382 573H400V591H382ZM400 573H418V591H400ZM418 573H436V591H418ZM436 573H454V591H436ZM454 573H472V591H454ZM472 573H491V591H472ZM491 573H509V591H491ZM509 573H527V591H509ZM527 573H545V591H527ZM545 573H563V591H545ZM563 573H582V591H563ZM582 573H600V591H582ZM600 573H618V591H600ZM618 573H636V591H618ZM636 573H654V591H636ZM654 573H672V591H654ZM672 573H691V591H672ZM691 573H709V591H691ZM709 573H727V591H709ZM727 573H745V591H727ZM745 573H763V591H745ZM763 573H781V591H763ZM781 573H800V591H781ZM127 591H145V609H127ZM145 591H163V609H145ZM163 591H182V609H163ZM182 591H200V609H182ZM200 591H218V609H200ZM218 591H236V609H218ZM236 591H254V609H236ZM254 591H273V609H254ZM273 591H291V609H273ZM291 591H309V609H291ZM309 591H327V609H309ZM327 591H345V609H327ZM345 591H363V609H345ZM363 591H382V609H363ZM382 591H400V609H382ZM400 591H418V609H400ZM418 591H436V609H418ZM436 591H454V609H436ZM454 591H472V609H454ZM472 591H491V609H472ZM491 591H509V609H491ZM509 591H527V609H509ZM527 591H545V609H527ZM545 591H563V609H545ZM563 591H582V609H563ZM582 591H600V609H582ZM600 591H618V609H600ZM618 591H636V609H618ZM636 591H654V609H636ZM654 591H672V609H654ZM672 591H691V609H672ZM691 591H709V609H691ZM709 591H727V609H709ZM727 591H745V609H727ZM745 591H763V609H745ZM763 591H781V609H763ZM781 591H800V609H781ZM18 609H36V627H18ZM36 609H54V627H36ZM54 609H73V627H54ZM73 609H91V627H73ZM91 609H109V627H91ZM109 609H127V627H109ZM127 609H145V627H127ZM145 609H163V627H145ZM163 609H182V627H163ZM182 609H200V627H182ZM200 609H218V627H200ZM218 609H236V627H218ZM236 609H254V627H236ZM254 609H273V627H254ZM273 609H291V627H273ZM291 609H309V627H291ZM309 609H327V627H309ZM327 609H345V627H327ZM345 609H363V627H345ZM363 609H382V627H363ZM382 609H400V627H382ZM400 609H418V627H400ZM418 609H436V627H418ZM436 609H454V627H436ZM454 609H472V627H454ZM472 609H491V627H472ZM491 609H509V627H491ZM509 609H527V627H509ZM527 609H545V627H527ZM545 609H563V627H545ZM563 609H582V627H563ZM582 609H600V627H582ZM600 609H618V627H600ZM618 609H636V627H618ZM636 609H654V627H636ZM654 609H672V627H654ZM672 609H691V627H672ZM691 609H709V627H691ZM709 609H727V627H709ZM727 609H745V627H727ZM745 609H763V627H745ZM763 609H781V627H763ZM781 609H800V627H781ZM0 627H18V645H0ZM18 627H36V645H18ZM36 627H54V645H36ZM54 627H73V645H54ZM73 627H91V645H73ZM91 627H109V645H91ZM109 627H127V645H109ZM127 627H145V645H127ZM145 627H163V645H145ZM163 627H182V645H163ZM182 627H200V645H182ZM200 627H218V645H200ZM218 627H236V645H218ZM236 627H254V645H236ZM254 627H273V645H254ZM273 627H291V645H273ZM291 627H309V645H291ZM309 627H327V645H309ZM327 627H345V645H327ZM345 627H363V645H345ZM363 627H382V645H363ZM382 627H400V645H382ZM400 627H418V645H400ZM418 627H436V645H418ZM436 627H454V645H436ZM454 627H472V645H454ZM472 627H491V645H472ZM491 627H509V645H491ZM509 627H527V645H509ZM527 627H545V645H527ZM545 627H563V645H545ZM563 627H582V645H563ZM582 627H600V645H582ZM600 627H618V645H600ZM618 627H636V645H618ZM636 627H654V645H636ZM654 627H672V645H654ZM672 627H691V645H672ZM691 627H709V645H691ZM709 627H727V645H709ZM727 627H745V645H727ZM745 627H763V645H745ZM763 627H781V645H763ZM781 627H800V645H781ZM0 645H18V664H0ZM18 645H36V664H18ZM36 645H54V664H36ZM54 645H73V664H54ZM73 645H91V664H73ZM91 645H109V664H91ZM109 645H127V664H109ZM127 645H145V664H127ZM145 645H163V664H145ZM163 645H182V664H163ZM182 645H200V664H182ZM200 645H218V664H200ZM218 645H236V664H218ZM236 645H254V664H236ZM254 645H273V664H254ZM273 645H291V664H273ZM291 645H309V664H291ZM309 645H327V664H309ZM327 645H345V664H327ZM345 645H363V664H345ZM363 645H382V664H363ZM382 645H400V664H382ZM400 645H418V664H400ZM418 645H436V664H418ZM436 645H454V664H436ZM454 645H472V664H454ZM472 645H491V664H472ZM491 645H509V664H491ZM509 645H527V664H509ZM527 645H545V664H527ZM545 645H563V664H545ZM563 645H582V664H563ZM582 645H600V664H582ZM600 645H618V664H600ZM618 645H636V664H618ZM636 645H654V664H636ZM654 645H672V664H654ZM672 645H691V664H672ZM691 645H709V664H691ZM709 645H727V664H709ZM727 645H745V664H727ZM745 645H763V664H745ZM763 645H781V664H763ZM781 645H800V664H781ZM0 664H18V682H0ZM18 664H36V682H18ZM36 664H54V682H36ZM54 664H73V682H54ZM73 664H91V682H73ZM91 664H109V682H91ZM109 664H127V682H109ZM127 664H145V682H127ZM145 664H163V682H145ZM163 664H182V682H163ZM182 664H200V682H182ZM200 664H218V682H200ZM218 664H236V682H218ZM236 664H254V682H236ZM254 664H273V682H254ZM273 664H291V682H273ZM291 664H309V682H291ZM309 664H327V682H309ZM327 664H345V682H327ZM345 664H363V682H345ZM363 664H382V682H363ZM382 664H400V682H382ZM400 664H418V682H400ZM418 664H436V682H418ZM436 664H454V682H436ZM454 664H472V682H454ZM472 664H491V682H472ZM491 664H509V682H491ZM509 664H527V682H509ZM527 664H545V682H527ZM545 664H563V682H545ZM563 664H582V682H563ZM582 664H600V682H582ZM600 664H618V682H600ZM618 664H636V682H618ZM636 664H654V682H636ZM654 664H672V682H654ZM672 664H691V682H672ZM691 664H709V682H691ZM709 664H727V682H709ZM727 664H745V682H727ZM745 664H763V682H745ZM763 664H781V682H763ZM781 664H800V682H781ZM0 682H18V700H0ZM18 682H36V700H18ZM36 682H54V700H36ZM54 682H73V700H54ZM73 682H91V700H73ZM91 682H109V700H91ZM109 682H127V700H109ZM127 682H145V700H127ZM145 682H163V700H145ZM163 682H182V700H163ZM182 682H200V700H182ZM200 682H218V700H200ZM218 682H236V700H218ZM236 682H254V700H236ZM254 682H273V700H254ZM273 682H291V700H273ZM291 682H309V700H291ZM309 682H327V700H309ZM327 682H345V700H327ZM345 682H363V700H345ZM363 682H382V700H363ZM382 682H400V700H382ZM400 682H418V700H400ZM418 682H436V700H418ZM436 682H454V700H436ZM454 682H472V700H454ZM472 682H491V700H472ZM491 682H509V700H491ZM509 682H527V700H509ZM527 682H545V700H527ZM545 682H563V700H545ZM563 682H582V700H563ZM582 682H600V700H582ZM600 682H618V700H600ZM618 682H636V700H618ZM636 682H654V700H636ZM654 682H672V700H654ZM672 682H691V700H672ZM691 682H709V700H691ZM709 682H727V700H709ZM727 682H745V700H727ZM745 682H763V700H745ZM763 682H781V700H763ZM781 682H800V700H781ZM0 700H18V718H0ZM18 700H36V718H18ZM36 700H54V718H36ZM54 700H73V718H54ZM73 700H91V718H73ZM91 700H109V718H91ZM109 700H127V718H109ZM127 700H145V718H127ZM145 700H163V718H145ZM163 700H182V718H163ZM182 700H200V718H182ZM200 700H218V718H200ZM218 700H236V718H218ZM236 700H254V718H236ZM254 700H273V718H254ZM273 700H291V718H273ZM291 700H309V718H291ZM309 700H327V718H309ZM327 700H345V718H327ZM345 700H363V718H345ZM363 700H382V718H363ZM382 700H400V718H382ZM400 700H418V718H400ZM418 700H436V718H418ZM436 700H454V718H436ZM454 700H472V718H454ZM472 700H491V718H472ZM491 700H509V718H491ZM509 700H527V718H509ZM527 700H545V718H527ZM545 700H563V718H545ZM563 700H582V718H563ZM582 700H600V718H582ZM600 700H618V718H600ZM618 700H636V718H618ZM636 700H654V718H636ZM654 700H672V718H654ZM672 700H691V718H672ZM691 700H709V718H691ZM709 700H727V718H709ZM727 700H745V718H727ZM745 700H763V718H745ZM763 700H781V718H763ZM781 700H800V718H781ZM0 718H18V736H0ZM18 718H36V736H18ZM36 718H54V736H36ZM54 718H73V736H54ZM73 718H91V736H73ZM91 718H109V736H91ZM109 718H127V736H109ZM127 718H145V736H127ZM145 718H163V736H145ZM163 718H182V736H163ZM182 718H200V736H182ZM200 718H218V736H200ZM218 718H236V736H218ZM236 718H254V736H236ZM254 718H273V736H254ZM273 718H291V736H273ZM291 718H309V736H291ZM309 718H327V736H309ZM327 718H345V736H327ZM345 718H363V736H345ZM363 718H382V736H363ZM382 718H400V736H382ZM400 718H418V736H400ZM418 718H436V736H418ZM436 718H454V736H436ZM454 718H472V736H454ZM472 718H491V736H472ZM491 718H509V736H491ZM509 718H527V736H509ZM527 718H545V736H527ZM545 718H563V736H545ZM563 718H582V736H563ZM582 718H600V736H582ZM600 718H618V736H600ZM618 718H636V736H618ZM636 718H654V736H636ZM654 718H672V736H654ZM672 718H691V736H672ZM691 718H709V736H691ZM709 718H727V736H709ZM727 718H745V736H727ZM745 718H763V736H745ZM763 718H781V736H763ZM781 718H800V736H781ZM0 736H18V754H0ZM18 736H36V754H18ZM36 736H54V754H36ZM54 736H73V754H54ZM73 736H91V754H73ZM91 736H109V754H91ZM109 736H127V754H109ZM127 736H145V754H127ZM145 736H163V754H145ZM163 736H182V754H163ZM182 736H200V754H182ZM200 736H218V754H200ZM218 736H236V754H218ZM236 736H254V754H236ZM254 736H273V754H254ZM273 736H291V754H273ZM291 736H309V754H291ZM309 736H327V754H309ZM327 736H345V754H327ZM345 736H363V754H345ZM363 736H382V754H363ZM382 736H400V754H382ZM400 736H418V754H400ZM418 736H436V754H418ZM436 736H454V754H436ZM454 736H472V754H454ZM472 736H491V754H472ZM491 736H509V754H491ZM509 736H527V754H509ZM527 736H545V754H527ZM545 736H563V754H545ZM563 736H582V754H563ZM582 736H600V754H582ZM600 736H618V754H600ZM618 736H636V754H618ZM636 736H654V754H636ZM654 736H672V754H654ZM672 736H691V754H672ZM691 736H709V754H691ZM709 736H727V754H709ZM727 736H745V754H727ZM745 736H763V754H745ZM763 736H781V754H763ZM781 736H800V754H781ZM0 754H18V772H0ZM18 754H36V772H18ZM36 754H54V772H36ZM54 754H73V772H54ZM73 754H91V772H73ZM91 754H109V772H91ZM109 754H127V772H109ZM127 754H145V772H127ZM145 754H163V772H145ZM163 754H182V772H163ZM182 754H200V772H182ZM200 754H218V772H200ZM218 754H236V772H218ZM236 754H254V772H236ZM254 754H273V772H254ZM273 754H291V772H273ZM291 754H309V772H291ZM309 754H327V772H309ZM327 754H345V772H327ZM345 754H363V772H345ZM363 754H382V772H363ZM382 754H400V772H382ZM400 754H418V772H400ZM418 754H436V772H418ZM436 754H454V772H436ZM454 754H472V772H454ZM472 754H491V772H472ZM491 754H509V772H491ZM509 754H527V772H509ZM527 754H545V772H527ZM545 754H563V772H545ZM563 754H582V772H563ZM582 754H600V772H582ZM600 754H618V772H600ZM618 754H636V772H618ZM636 754H654V772H636ZM654 754H672V772H654ZM672 754H691V772H672ZM691 754H709V772H691ZM709 754H727V772H709ZM727 754H745V772H727ZM745 754H763V772H745ZM763 754H781V772H763ZM781 754H800V772H781Z"/></clipPath>
<g clip-path="url(#oc)" stroke="#fff" stroke-width="1" fill="none" shape-rendering="crispEdges">
<path d="M718.8 36.5L707.2 46.9M714.0 45.2L707.2 46.9L709.6 40.3"/>
<path d="M773.4 36.5L756.2 50.9M766.0 48.8L756.2 50.9L759.9 41.6"/>
<path d="M791.5 36.5L773.0 52.0M783.7 49.8L773.0 52.0L777.1 42.0"/>
<path d="M700.6 54.7L690.7 63.7M696.5 62.2L690.7 63.7L692.7 58.0"/>
<path d="M718.8 54.7L706.5 65.8M713.7 64.0L706.5 65.8L709.0 58.8"/>
<path d="M755.2 54.7L738.6 68.7M748.2 66.6L738.6 68.7L742.2 59.6"/>
<path d="M773.4 54.7L755.6 69.6M765.8 67.4L755.6 69.6L759.5 59.9"/>
<path d="M791.5 54.7L772.7 70.6M783.5 68.2L772.7 70.6L776.8 60.3"/>
<path d="M682.5 72.8L671.5 82.8M677.9 81.2L671.5 82.8L673.7 76.5"/>
<path d="M700.6 72.8L686.0 86.0M694.6 83.9L686.0 86.0L689.0 77.7"/>
<path d="M718.8 72.8L704.0 86.2M712.7 84.0L704.0 86.2L707.1 77.8"/>
<path d="M737.0 72.8L721.1 87.2M730.5 84.9L721.1 87.2L724.4 78.2"/>
<path d="M755.2 72.8L738.6 87.6M748.3 85.2L738.6 87.6L742.1 78.2"/>
<path d="M773.4 72.8L756.2 87.7M766.2 85.4L756.2 87.7L759.9 78.2"/>
<path d="M791.5 72.8L773.7 88.5M784.1 86.0L773.7 88.5L777.5 78.5"/>
<path d="M664.3 91.0L655.8 99.3M660.9 97.8L655.8 99.3L657.4 94.2"/>
<path d="M682.5 91.0L669.7 102.7M677.3 100.8L669.7 102.7L672.3 95.4"/>
<path d="M700.6 91.0L685.7 104.6M694.5 102.4L685.7 104.6L688.8 96.0"/>
<path d="M718.8 91.0L703.5 104.9M712.5 102.6L703.5 104.9L706.7 96.2"/>
<path d="M737.0 91.0L721.3 105.6M730.6 103.1L721.3 105.6L724.5 96.5"/>
<path d="M755.2 91.0L739.2 106.1M748.7 103.5L739.2 106.1L742.4 96.7"/>
<path d="M773.4 91.0L757.3 106.0M766.9 103.4L757.3 106.0L760.5 96.7"/>
<path d="M791.5 91.0L775.0 106.6M784.9 103.9L775.0 106.6L778.3 96.9"/>
<path d="M682.5 109.2L669.9 121.7M677.5 119.4L669.9 121.7L672.3 114.1"/>
<path d="M700.6 109.2L686.2 123.0M694.9 120.6L686.2 123.0L689.0 114.5"/>
<path d="M718.8 109.2L704.2 123.2M713.0 120.7L704.2 123.2L707.1 114.5"/>
<path d="M737.0 109.2L721.9 123.8M731.0 121.2L721.9 123.8L724.8 114.8"/>
<path d="M755.2 109.2L739.8 123.7M749.0 121.2L739.8 123.7L742.8 114.7"/>
<path d="M773.4 109.2L757.7 123.8M767.0 121.3L757.7 123.8L760.8 114.7"/>
<path d="M791.5 109.2L774.8 124.9M784.8 122.2L774.8 124.9L778.1 115.1"/>
<path d="M664.3 127.4L651.7 140.0M659.4 137.6L651.7 140.0L654.1 132.3"/>
<path d="M682.5 127.4L668.6 141.3M677.0 138.7L668.6 141.3L671.1 132.8"/>
<path d="M700.6 127.4L686.7 141.6M695.2 138.9L686.7 141.6L689.2 133.0"/>
<path d="M718.8 127.4L705.2 141.6M713.6 138.8L705.2 141.6L707.6 133.1"/>
<path d="M737.0 127.4L722.7 141.6M731.4 139.0L722.7 141.6L725.4 132.9"/>
<path d="M755.2 127.4L740.1 141.5M749.1 139.1L740.1 141.5L743.1 132.7"/>
<path d="M773.4 127.4L757.8 141.8M767.1 139.4L757.8 141.8L761.0 132.8"/>
<path d="M791.5 127.4L775.3 142.6M785.0 139.9L775.3 142.6L778.6 133.1"/>
<path d="M646.1 145.6L634.5 157.4M641.6 155.2L634.5 157.4L636.6 150.2"/>
<path d="M664.3 145.6L650.6 159.3M658.9 156.8L650.6 159.3L653.1 151.0"/>
<path d="M682.5 145.6L668.7 159.6M677.1 156.9L668.7 159.6L671.2 151.1"/>
<path d="M700.6 145.6L687.7 159.7M695.8 156.8L687.7 159.7L689.8 151.4"/>
<path d="M718.8 145.6L706.4 160.2M714.4 157.0L706.4 160.2L708.2 151.7"/>
<path d="M737.0 145.6L723.8 160.2M732.2 157.2L723.8 160.2L726.0 151.6"/>
<path d="M755.2 145.6L740.9 159.9M749.6 157.2L740.9 159.9L743.6 151.2"/>
<path d="M773.4 145.6L758.2 160.1M767.3 157.5L758.2 160.1L761.2 151.1"/>
<path d="M791.5 145.6L776.0 161.1M785.5 158.2L776.0 161.1L778.9 151.6"/>
<path d="M646.1 163.7L634.5 177.1M642.0 174.2L634.5 177.1L636.3 169.3"/>
<path d="M664.3 163.7L651.5 178.1M659.6 175.1L651.5 178.1L653.6 169.7"/>
<path d="M682.5 163.7L670.3 178.0M678.1 174.9L670.3 178.0L672.1 169.7"/>
<path d="M700.6 163.7L689.2 178.6M696.9 175.1L689.2 178.6L690.6 170.3"/>
<path d="M718.8 163.7L707.8 178.9M715.4 175.2L707.8 178.9L709.0 170.6"/>
<path d="M737.0 163.7L725.7 179.2M733.4 175.5L725.7 179.2L726.9 170.7"/>
<path d="M755.2 163.7L743.1 180.3M751.4 176.2L743.1 180.3L744.4 171.1"/>
<path d="M773.4 163.7L761.0 181.0M769.6 176.7L761.0 181.0L762.3 171.5"/>
<path d="M791.5 163.7L778.7 181.2M787.5 177.0L778.7 181.2L780.1 171.6"/>
<path d="M628.0 181.9L616.6 195.6M624.0 192.6L616.6 195.6L618.2 187.8"/>
<path d="M646.1 181.9L633.5 197.0M641.7 193.7L633.5 197.0L635.3 188.3"/>
<path d="M664.3 181.9L652.1 196.8M660.1 193.4L652.1 196.8L653.8 188.3"/>
<path d="M682.5 181.9L671.5 197.1M679.0 193.4L671.5 197.1L672.6 188.7"/>
<path d="M700.6 181.9L690.3 197.5M697.7 193.5L690.3 197.5L691.1 189.1"/>
<path d="M718.8 181.9L708.7 197.7M716.1 193.5L708.7 197.7L709.4 189.3"/>
<path d="M737.0 181.9L726.4 198.2M734.1 194.0L726.4 198.2L727.2 189.5"/>
<path d="M755.2 181.9L743.7 198.5M751.8 194.3L743.7 198.5L744.7 189.5"/>
<path d="M773.4 181.9L761.5 198.9M769.8 194.6L761.5 198.9L762.6 189.6"/>
<path d="M791.5 181.9L779.3 199.5M787.9 195.1L779.3 199.5L780.5 190.0"/>
<path d="M609.8 200.1L599.0 214.2M606.3 210.9L599.0 214.2L600.3 206.3"/>
<path d="M628.0 200.1L615.4 215.2M623.6 211.9L615.4 215.2L617.2 206.5"/>
<path d="M646.1 200.1L633.3 215.4M641.6 212.0L633.3 215.4L635.2 206.6"/>
<path d="M664.3 200.1L651.9 215.1M660.0 211.7L651.9 215.1L653.7 206.5"/>
<path d="M682.5 200.1L671.8 216.0M679.4 212.0L671.8 216.0L672.7 207.4"/>
<path d="M700.6 200.1L690.5 215.8M697.9 211.7L690.5 215.8L691.2 207.4"/>
<path d="M718.8 200.1L708.9 216.0M716.2 211.7L708.9 216.0L709.5 207.5"/>
<path d="M737.0 200.1L727.1 217.4M734.7 212.6L727.1 217.4L727.4 208.4"/>
<path d="M755.2 200.1L744.9 218.3M752.8 213.2L744.9 218.3L745.1 208.9"/>
<path d="M773.4 200.1L762.8 218.7M770.9 213.6L762.8 218.7L763.0 209.1"/>
<path d="M791.5 200.1L780.7 219.2M789.1 213.9L780.7 219.2L781.0 209.3"/>
<path d="M591.6 218.2L583.9 231.5M589.8 227.9L583.9 231.5L584.2 224.6"/>
<path d="M609.8 218.2L598.9 234.7M606.7 230.5L598.9 234.7L599.8 225.9"/>
<path d="M628.0 218.2L615.7 234.3M623.9 230.5L615.7 234.3L617.2 225.3"/>
<path d="M646.1 218.2L633.3 233.9M641.7 230.4L633.3 233.9L635.1 225.0"/>
<path d="M664.3 218.2L652.2 234.4M660.4 230.5L652.2 234.4L653.6 225.4"/>
<path d="M682.5 218.2L671.7 235.0M679.5 230.6L671.7 235.0L672.4 226.1"/>
<path d="M700.6 218.2L689.9 234.8M697.7 230.5L689.9 234.8L690.7 225.9"/>
<path d="M718.8 218.2L708.2 235.1M716.0 230.7L708.2 235.1L708.9 226.2"/>
<path d="M737.0 218.2L727.5 236.9M735.2 231.5L727.5 236.9L727.4 227.5"/>
<path d="M755.2 218.2L746.2 238.0M754.0 232.0L746.2 238.0L745.6 228.3"/>
<path d="M773.4 218.2L764.4 238.3M772.2 232.2L764.4 238.3L763.7 228.4"/>
<path d="M791.5 218.2L782.5 238.2M790.3 232.2L782.5 238.2L781.8 228.4"/>
<path d="M573.4 236.4L568.5 247.7M572.8 244.3L568.5 247.7L568.0 242.2"/>
<path d="M591.6 236.4L583.6 251.8M590.0 247.4L583.6 251.8L583.5 244.0"/>
<path d="M609.8 236.4L599.7 253.9M607.4 249.1L599.7 253.9L600.0 244.8"/>
<path d="M628.0 236.4L617.7 254.1M625.5 249.2L617.7 254.1L618.0 244.9"/>
<path d="M646.1 236.4L635.5 253.9M643.4 249.2L635.5 253.9L636.1 244.7"/>
<path d="M664.3 236.4L654.0 254.4M661.9 249.4L654.0 254.4L654.3 245.1"/>
<path d="M682.5 236.4L673.1 254.6M680.6 249.4L673.1 254.6L673.0 245.4"/>
<path d="M700.6 236.4L691.0 255.0M698.8 249.7L691.0 255.0L690.9 245.6"/>
<path d="M718.8 236.4L709.5 255.7M717.3 250.0L709.5 255.7L709.1 246.1"/>
<path d="M737.0 236.4L729.3 257.0M736.7 250.4L729.3 257.0L728.0 247.2"/>
<path d="M755.2 236.4L746.7 256.9M754.4 250.6L746.7 256.9L745.7 247.0"/>
<path d="M773.4 236.4L764.3 257.0M772.2 250.7L764.3 257.0L763.6 246.9"/>
<path d="M791.5 236.4L782.6 256.7M790.4 250.6L782.6 256.7L781.9 246.8"/>
<path d="M555.2 254.6L549.5 268.8M554.8 264.4L549.5 268.8L548.8 261.9"/>
<path d="M573.4 254.6L566.7 271.0M572.8 265.9L566.7 271.0L565.9 263.0"/>
<path d="M591.6 254.6L583.0 272.3M590.1 267.1L583.0 272.3L582.7 263.5"/>
<path d="M609.8 254.6L599.5 272.6M607.4 267.6L599.5 272.6L599.8 263.3"/>
<path d="M628.0 254.6L617.5 272.7M625.5 267.7L617.5 272.7L617.8 263.3"/>
<path d="M646.1 254.6L635.6 273.0M643.7 267.9L635.6 273.0L635.9 263.5"/>
<path d="M664.3 254.6L655.1 274.3M662.9 268.4L655.1 274.3L654.6 264.5"/>
<path d="M682.5 254.6L674.2 274.9M681.8 268.6L674.2 274.9L673.2 265.1"/>
<path d="M700.6 254.6L692.2 275.4M700.0 268.9L692.2 275.4L691.2 265.4"/>
<path d="M718.8 254.6L711.2 275.9M718.7 269.1L711.2 275.9L709.7 265.8"/>
<path d="M737.0 254.6L732.6 276.9M739.1 268.9L732.6 276.9L729.7 267.1"/>
<path d="M755.2 254.6L750.3 276.8M756.9 269.0L750.3 276.8L747.6 266.9"/>
<path d="M773.4 254.6L766.7 276.3M773.9 269.1L766.7 276.3L764.8 266.3"/>
<path d="M791.5 254.6L784.5 275.9M791.8 268.9L784.5 275.9L782.8 266.0"/>
<path d="M209.9 272.8L203.9 287.9M209.5 283.2L203.9 287.9L203.1 280.6"/>
<path d="M555.2 272.8L547.8 291.3M554.7 285.5L547.8 291.3L546.8 282.3"/>
<path d="M573.4 272.8L565.8 291.7M572.8 285.8L565.8 291.7L564.8 282.6"/>
<path d="M591.6 272.8L583.4 292.3M590.8 286.3L583.4 292.3L582.5 282.8"/>
<path d="M609.8 272.8L599.6 292.8M607.8 287.0L599.6 292.8L599.4 282.7"/>
<path d="M628.0 272.8L616.6 293.0M625.4 287.4L616.6 293.0L616.8 282.6"/>
<path d="M646.1 272.8L635.4 293.6M644.0 287.6L635.4 293.6L635.2 283.0"/>
<path d="M664.3 272.8L656.9 295.3M664.6 287.9L656.9 295.3L655.1 284.8"/>
<path d="M682.5 272.8L675.0 295.8M682.8 288.2L675.0 295.8L673.1 285.1"/>
<path d="M700.6 272.8L692.3 295.7M700.5 288.4L692.3 295.7L690.8 284.8"/>
<path d="M718.8 272.8L713.8 296.4M720.8 288.1L713.8 296.4L710.8 286.0"/>
<path d="M737.0 272.8L732.9 296.1M739.4 287.7L732.9 296.1L729.6 286.0"/>
<path d="M755.2 272.8L751.2 295.6M757.6 287.4L751.2 295.6L748.0 285.7"/>
<path d="M773.4 272.8L770.5 295.3M776.4 286.9L770.5 295.3L766.9 285.7"/>
<path d="M791.5 272.8L788.9 294.8M794.6 286.6L788.9 294.8L785.3 285.5"/>
<path d="M209.9 291.0L203.3 307.4M209.4 302.2L203.3 307.4L202.5 299.5"/>
<path d="M228.1 291.0L222.9 303.8M227.7 299.8L222.9 303.8L222.3 297.6"/>
<path d="M246.3 291.0L240.9 304.2M245.8 300.1L240.9 304.2L240.2 297.8"/>
<path d="M264.5 291.0L259.8 302.4M264.1 298.8L259.8 302.4L259.2 296.9"/>
<path d="M282.6 291.0L277.4 304.3M282.3 300.1L277.4 304.3L276.6 297.9"/>
<path d="M537.1 291.0L530.5 307.5M536.6 302.3L530.5 307.5L529.6 299.6"/>
<path d="M555.2 291.0L546.6 312.5M554.6 305.7L546.6 312.5L545.5 302.1"/>
<path d="M573.4 291.0L564.8 313.0M572.9 306.1L564.8 313.0L563.6 302.4"/>
<path d="M591.6 291.0L583.7 313.8M591.7 306.4L583.7 313.8L582.0 303.1"/>
<path d="M609.8 291.0L602.1 314.1M610.0 306.5L602.1 314.1L600.2 303.3"/>
<path d="M628.0 291.0L619.6 314.2M627.8 306.7L619.6 314.2L618.0 303.2"/>
<path d="M646.1 291.0L638.8 315.0M646.8 307.0L638.8 315.0L636.6 303.9"/>
<path d="M664.3 291.0L661.5 316.5M668.0 306.9L661.5 316.5L657.2 305.7"/>
<path d="M682.5 291.0L680.7 316.8M686.8 306.9L680.7 316.8L675.9 306.1"/>
<path d="M700.6 291.0L698.6 316.3M704.8 306.6L698.6 316.3L694.1 305.8"/>
<path d="M718.8 291.0L717.6 315.8M723.4 306.2L717.6 315.8L712.8 305.7"/>
<path d="M737.0 291.0L733.7 314.9M740.0 306.1L733.7 314.9L729.9 304.7"/>
<path d="M755.2 291.0L753.1 314.3M758.9 305.4L753.1 314.3L749.0 304.6"/>
<path d="M773.4 291.0L773.1 313.9M778.1 304.8L773.1 313.9L768.4 304.7"/>
<path d="M791.5 291.0L791.1 313.4M796.0 304.6L791.1 313.4L786.6 304.4"/>
<path d="M228.1 309.1L223.3 321.0M227.7 317.3L223.3 321.0L222.7 315.3"/>
<path d="M246.3 309.1L240.7 322.9M245.8 318.6L240.7 322.9L240.0 316.2"/>
<path d="M264.5 309.1L258.7 323.6M264.0 319.1L258.7 323.6L257.9 316.6"/>
<path d="M282.6 309.1L277.2 323.5M282.4 318.9L277.2 323.5L276.3 316.6"/>
<path d="M300.8 309.1L296.3 324.3M301.3 319.2L296.3 324.3L294.9 317.3"/>
<path d="M319.0 309.1L315.8 323.6M320.1 318.5L315.8 323.6L314.0 317.2"/>
<path d="M500.7 309.1L495.6 326.2M501.2 320.5L495.6 326.2L494.0 318.3"/>
<path d="M518.9 309.1L513.1 328.2M519.5 321.9L513.1 328.2L511.4 319.4"/>
<path d="M537.1 309.1L530.8 328.9M537.5 322.3L530.8 328.9L529.1 319.7"/>
<path d="M555.2 309.1L547.5 331.5M555.3 324.2L547.5 331.5L545.9 321.0"/>
<path d="M573.4 309.1L565.6 332.0M573.5 324.6L565.6 332.0L563.9 321.3"/>
<path d="M591.6 309.1L584.0 332.3M591.9 324.7L584.0 332.3L582.1 321.5"/>
<path d="M609.8 309.1L602.2 332.6M610.1 324.9L602.2 332.6L600.2 321.7"/>
<path d="M628.0 309.1L620.2 333.1M628.3 325.2L620.2 333.1L618.2 321.9"/>
<path d="M646.1 309.1L640.9 334.2M648.3 325.4L640.9 334.2L637.6 323.2"/>
<path d="M664.3 309.1L662.7 335.0M668.8 325.0L662.7 335.0L657.9 324.4"/>
<path d="M682.5 309.1L681.1 334.8M687.1 324.9L681.1 334.8L676.3 324.3"/>
<path d="M700.6 309.1L699.9 334.3M705.5 324.5L699.9 334.3L694.9 324.1"/>
<path d="M718.8 309.1L718.8 333.8M724.0 324.0L718.8 333.8L713.6 324.0"/>
<path d="M737.0 309.1L736.7 333.0M741.9 323.6L736.7 333.0L731.7 323.5"/>
<path d="M755.2 309.1L755.0 332.3M759.9 323.1L755.0 332.3L750.2 323.1"/>
<path d="M773.4 309.1L773.4 331.6M778.1 322.6L773.4 331.6L768.6 322.6"/>
<path d="M791.5 309.1L791.5 330.8M796.1 322.2L791.5 330.8L786.9 322.2"/>
<path d="M264.5 327.3L258.6 343.1M264.3 338.0L258.6 343.1L257.6 335.6"/>
<path d="M282.6 327.3L277.9 343.9M283.3 338.3L277.9 343.9L276.2 336.3"/>
<path d="M300.8 327.3L297.7 346.5M303.0 339.5L297.7 346.5L294.9 338.2"/>
<path d="M319.0 327.3L316.8 347.1M321.8 339.7L316.8 347.1L313.5 338.8"/>
<path d="M337.2 327.3L334.7 345.4M339.5 338.8L334.7 345.4L331.8 337.7"/>
<path d="M355.3 327.3L351.2 344.5M356.5 338.5L351.2 344.5L349.2 336.8"/>
<path d="M373.5 327.3L367.3 344.0M373.3 338.7L367.3 344.0L366.3 336.1"/>
<path d="M391.7 327.3L384.4 343.6M390.7 338.6L384.4 343.6L383.9 335.6"/>
<path d="M409.9 327.3L402.9 341.5M408.7 337.3L402.9 341.5L402.7 334.4"/>
<path d="M428.0 327.3L422.4 338.3M427.0 335.1L422.4 338.3L422.3 332.7"/>
<path d="M446.2 327.3L440.7 339.5M445.5 335.8L440.7 339.5L440.3 333.5"/>
<path d="M464.4 327.3L460.3 341.6M464.9 336.8L460.3 341.6L458.9 335.0"/>
<path d="M482.6 327.3L477.6 344.9M483.3 339.0L477.6 344.9L475.8 336.9"/>
<path d="M500.7 327.3L495.2 347.2M501.6 340.5L495.2 347.2L493.2 338.1"/>
<path d="M518.9 327.3L513.6 347.0M519.8 340.3L513.6 347.0L511.5 338.1"/>
<path d="M537.1 327.3L531.5 348.0M538.1 341.0L531.5 348.0L529.3 338.6"/>
<path d="M555.2 327.3L549.2 349.2M556.2 341.8L549.2 349.2L547.0 339.2"/>
<path d="M573.4 327.3L566.7 349.7M574.1 342.2L566.7 349.7L564.6 339.4"/>
<path d="M591.6 327.3L584.3 350.1M592.0 342.6L584.3 350.1L582.4 339.5"/>
<path d="M609.8 327.3L602.3 350.5M610.2 342.9L602.3 350.5L600.3 339.7"/>
<path d="M628.0 327.3L620.5 351.4M628.6 343.4L620.5 351.4L618.4 340.2"/>
<path d="M646.1 327.3L641.6 352.6M648.7 343.5L641.6 352.6L638.1 341.6"/>
<path d="M664.3 327.3L662.6 352.9M668.7 343.1L662.6 352.9L657.8 342.4"/>
<path d="M682.5 327.3L681.1 352.4M687.0 342.7L681.1 352.4L676.4 342.2"/>
<path d="M700.6 327.3L699.8 352.0M705.4 342.3L699.8 352.0L694.9 342.0"/>
<path d="M718.8 327.3L718.7 351.5M723.8 341.9L718.7 351.5L713.6 341.8"/>
<path d="M737.0 327.3L736.7 350.7M741.8 341.5L736.7 350.7L731.9 341.4"/>
<path d="M755.2 327.3L755.0 350.0M759.9 341.0L755.0 350.0L750.3 340.9"/>
<path d="M773.4 327.3L773.3 349.2M778.0 340.5L773.3 349.2L768.7 340.5"/>
<path d="M791.5 327.3L791.5 348.5M796.0 340.1L791.5 348.5L787.0 340.1"/>
<path d="M300.8 345.5L299.7 366.1M304.5 358.2L299.7 366.1L295.8 357.7"/>
<path d="M319.0 345.5L318.2 366.9M323.0 358.6L318.2 366.9L314.0 358.2"/>
<path d="M337.2 345.5L336.0 365.6M340.7 357.9L336.0 365.6L332.2 357.4"/>
<path d="M355.3 345.5L352.4 365.0M357.7 357.8L352.4 365.0L349.5 356.6"/>
<path d="M373.5 345.5L367.5 364.5M373.9 358.2L367.5 364.5L365.9 355.7"/>
<path d="M391.7 345.5L384.2 363.4M391.0 357.9L384.2 363.4L383.4 354.7"/>
<path d="M409.9 345.5L403.3 360.4M409.1 355.9L403.3 360.4L402.8 353.1"/>
<path d="M428.0 345.5L421.1 361.8M427.3 356.7L421.1 361.8L420.4 353.8"/>
<path d="M446.2 345.5L439.9 363.1M446.1 357.4L439.9 363.1L438.7 354.8"/>
<path d="M464.4 345.5L459.5 363.6M465.3 357.4L459.5 363.6L457.6 355.4"/>
<path d="M482.6 345.5L477.3 365.0M483.5 358.3L477.3 365.0L475.3 356.1"/>
<path d="M500.7 345.5L495.5 364.7M501.7 358.2L495.5 364.7L493.5 356.0"/>
<path d="M518.9 345.5L513.9 364.3M519.8 357.9L513.9 364.3L511.9 355.7"/>
<path d="M537.1 345.5L531.6 365.9M538.1 359.0L531.6 365.9L529.4 356.7"/>
<path d="M555.2 345.5L549.4 367.1M556.3 359.8L549.4 367.1L547.2 357.3"/>
<path d="M573.4 345.5L567.3 367.8M574.5 360.2L567.3 367.8L565.0 357.7"/>
<path d="M591.6 345.5L585.0 368.2M592.4 360.6L585.0 368.2L582.8 357.8"/>
<path d="M609.8 345.5L603.2 368.7M610.7 360.9L603.2 368.7L600.9 358.1"/>
<path d="M628.0 345.5L622.7 369.6M629.9 361.1L622.7 369.6L619.7 358.9"/>
<path d="M646.1 345.5L643.7 370.3M649.9 360.9L643.7 370.3L639.5 359.9"/>
<path d="M664.3 345.5L663.1 370.1M668.8 360.6L663.1 370.1L658.4 360.1"/>
<path d="M682.5 345.5L681.4 369.9M687.0 360.4L681.4 369.9L676.6 359.9"/>
<path d="M700.6 345.5L699.7 369.4M705.1 360.1L699.7 369.4L695.0 359.7"/>
<path d="M718.8 345.5L718.2 368.9M723.4 359.7L718.2 368.9L713.5 359.5"/>
<path d="M737.0 345.5L736.6 368.2M741.6 359.2L736.6 368.2L732.0 359.1"/>
<path d="M755.2 345.5L755.1 367.4M759.8 358.7L755.1 367.4L750.5 358.7"/>
<path d="M773.4 345.5L773.4 366.7M777.8 358.2L773.4 366.7L768.9 358.2"/>
<path d="M791.5 345.5L791.5 365.9M795.8 357.8L791.5 365.9L787.2 357.8"/>
<path d="M300.8 363.7L300.4 384.6M305.0 376.4L300.4 384.6L296.1 376.2"/>
<path d="M319.0 363.7L318.6 385.6M323.4 377.0L318.6 385.6L314.1 376.8"/>
<path d="M337.2 363.7L336.7 384.6M341.3 376.4L336.7 384.6L332.4 376.2"/>
<path d="M355.3 363.7L353.9 383.8M358.7 376.1L353.9 383.8L350.2 375.5"/>
<path d="M373.5 363.7L369.1 383.4M375.0 376.5L369.1 383.4L366.7 374.6"/>
<path d="M391.7 363.7L384.9 382.9M391.7 376.7L384.9 382.9L383.5 373.8"/>
<path d="M409.9 363.7L403.4 380.1M409.4 374.9L403.4 380.1L402.5 372.2"/>
<path d="M428.0 363.7L421.1 381.8M427.7 376.1L421.1 381.8L420.0 373.1"/>
<path d="M446.2 363.7L440.7 384.6M447.3 377.5L440.7 384.6L438.5 375.1"/>
<path d="M464.4 363.7L458.7 385.1M465.5 377.8L458.7 385.1L456.4 375.4"/>
<path d="M482.6 363.7L477.3 383.7M483.6 376.8L477.3 383.7L475.1 374.6"/>
<path d="M500.7 363.7L495.9 382.7M501.8 376.2L495.9 382.7L493.8 374.1"/>
<path d="M518.9 363.7L514.0 382.2M519.9 375.9L514.0 382.2L512.0 373.8"/>
<path d="M537.1 363.7L531.7 383.9M538.1 377.0L531.7 383.9L529.6 374.7"/>
<path d="M555.2 363.7L549.6 385.1M556.4 377.8L549.6 385.1L547.3 375.4"/>
<path d="M573.4 363.7L568.0 385.9M574.8 378.2L568.0 385.9L565.4 375.9"/>
<path d="M591.6 363.7L586.4 386.8M593.4 378.7L586.4 386.8L583.6 376.5"/>
<path d="M609.8 363.7L605.6 387.5M612.3 378.9L605.6 387.5L602.2 377.1"/>
<path d="M628.0 363.7L626.1 388.0M632.0 378.7L626.1 388.0L621.7 377.9"/>
<path d="M646.1 363.7L645.8 388.3M651.2 378.6L645.8 388.3L640.7 378.5"/>
<path d="M664.3 363.7L664.2 388.3M669.5 378.5L664.2 388.3L659.1 378.5"/>
<path d="M682.5 363.7L682.3 387.8M687.5 378.3L682.3 387.8L677.3 378.2"/>
<path d="M700.6 363.7L700.1 387.3M705.3 378.0L700.1 387.3L695.3 377.8"/>
<path d="M718.8 363.7L718.2 386.6M723.3 377.6L718.2 386.6L713.6 377.3"/>
<path d="M737.0 363.7L736.7 385.6M741.4 376.9L736.7 385.6L732.2 376.8"/>
<path d="M755.2 363.7L755.1 384.6M759.6 376.3L755.1 384.6L750.7 376.3"/>
<path d="M773.4 363.7L773.3 383.8M777.6 375.8L773.3 383.8L769.1 375.8"/>
<path d="M791.5 363.7L791.5 383.4M795.7 375.5L791.5 383.4L787.3 375.5"/>
<path d="M282.6 381.8L282.2 397.1M285.6 391.1L282.2 397.1L279.1 391.0"/>
<path d="M300.8 381.8L300.4 402.8M305.0 394.5L300.4 402.8L296.1 394.4"/>
<path d="M319.0 381.8L318.6 403.8M323.4 395.1L318.6 403.8L314.1 395.0"/>
<path d="M337.2 381.8L336.8 402.5M341.3 394.4L336.8 402.5L332.5 394.2"/>
<path d="M355.3 381.8L354.6 401.8M359.1 394.0L354.6 401.8L350.7 393.7"/>
<path d="M373.5 381.8L371.1 402.1M376.3 394.6L371.1 402.1L367.8 393.6"/>
<path d="M391.7 381.8L387.0 402.0M393.1 395.0L387.0 402.0L384.6 393.0"/>
<path d="M409.9 381.8L404.6 400.8M410.7 394.4L404.6 400.8L402.7 392.2"/>
<path d="M428.0 381.8L423.6 401.5M429.5 394.6L423.6 401.5L421.2 392.8"/>
<path d="M446.2 381.8L441.6 403.5M448.0 395.9L441.6 403.5L438.8 393.9"/>
<path d="M464.4 381.8L459.5 404.2M466.2 396.4L459.5 404.2L456.7 394.3"/>
<path d="M482.6 381.8L477.9 402.8M484.2 395.4L477.9 402.8L475.4 393.5"/>
<path d="M500.7 381.8L496.7 402.1M502.6 394.9L496.7 402.1L494.0 393.2"/>
<path d="M518.9 381.8L515.1 401.9M520.8 394.7L515.1 401.9L512.3 393.1"/>
<path d="M537.1 381.8L532.8 403.1M539.0 395.5L532.8 403.1L530.0 393.7"/>
<path d="M555.2 381.8L551.1 403.9M557.4 396.0L551.1 403.9L548.1 394.2"/>
<path d="M573.4 381.8L569.7 404.7M576.0 396.4L569.7 404.7L566.3 394.8"/>
<path d="M591.6 381.8L588.3 405.5M594.6 396.8L588.3 405.5L584.6 395.4"/>
<path d="M609.8 381.8L607.7 405.4M613.5 396.5L607.7 405.4L603.5 395.6"/>
<path d="M628.0 381.8L627.4 406.0M632.7 396.5L627.4 406.0L622.5 396.3"/>
<path d="M646.1 381.8L646.1 406.2M651.3 396.6L646.1 406.2L640.9 396.5"/>
<path d="M664.3 381.8L664.3 406.0M669.4 396.4L664.3 406.0L659.2 396.4"/>
<path d="M682.5 381.8L682.5 405.5M687.5 396.1L682.5 405.5L677.5 396.1"/>
<path d="M700.6 381.8L700.5 404.8M705.4 395.7L700.5 404.8L695.7 395.6"/>
<path d="M718.8 381.8L718.5 404.0M723.3 395.3L718.5 404.0L713.9 395.1"/>
<path d="M737.0 381.8L736.8 403.0M741.4 394.6L736.8 403.0L732.4 394.6"/>
<path d="M755.2 381.8L755.1 402.0M759.4 394.0L755.1 402.0L750.9 394.0"/>
<path d="M773.4 381.8L773.3 401.3M777.4 393.6L773.3 401.3L769.2 393.5"/>
<path d="M791.5 381.8L791.5 401.0M795.6 393.4L791.5 401.0L787.5 393.4"/>
<path d="M282.6 400.0L282.2 417.3M286.0 410.5L282.2 417.3L278.7 410.3"/>
<path d="M300.8 400.0L300.4 420.7M304.9 412.6L300.4 420.7L296.2 412.4"/>
<path d="M319.0 400.0L318.6 421.2M323.2 412.9L318.6 421.2L314.3 412.7"/>
<path d="M337.2 400.0L336.8 420.9M341.4 412.7L336.8 420.9L332.5 412.5"/>
<path d="M355.3 400.0L355.1 420.4M359.5 412.4L355.1 420.4L350.9 412.3"/>
<path d="M373.5 400.0L373.3 420.7M377.7 412.5L373.3 420.7L369.0 412.4"/>
<path d="M391.7 400.0L390.2 420.9M395.2 412.9L390.2 420.9L386.4 412.3"/>
<path d="M409.9 400.0L406.3 419.9M411.9 412.7L406.3 419.9L403.5 411.2"/>
<path d="M428.0 400.0L423.8 420.3M429.8 413.1L423.8 420.3L421.2 411.3"/>
<path d="M446.2 400.0L441.7 421.7M448.1 414.0L441.7 421.7L438.9 412.1"/>
<path d="M464.4 400.0L460.4 422.8M466.8 414.6L460.4 422.8L457.1 412.9"/>
<path d="M482.6 400.0L479.9 421.8M485.5 413.7L479.9 421.8L476.3 412.6"/>
<path d="M500.7 400.0L499.2 421.1M504.2 413.1L499.2 421.1L495.3 412.4"/>
<path d="M518.9 400.0L519.1 420.9M523.4 412.6L519.1 420.9L514.6 412.7"/>
<path d="M537.1 400.0L538.1 421.9M542.3 413.0L538.1 421.9L533.1 413.4"/>
<path d="M555.2 400.0L556.0 422.7M560.5 413.5L556.0 422.7L550.9 413.8"/>
<path d="M573.4 400.0L573.2 423.4M578.3 414.2L573.2 423.4L568.4 414.1"/>
<path d="M591.6 400.0L590.6 424.2M596.1 414.8L590.6 424.2L585.9 414.3"/>
<path d="M609.8 400.0L609.0 423.7M614.3 414.4L609.0 423.7L604.3 414.1"/>
<path d="M628.0 400.0L627.7 423.9M632.9 414.5L627.7 423.9L622.8 414.4"/>
<path d="M646.1 400.0L646.1 424.2M651.2 414.6L646.1 424.2L641.0 414.6"/>
<path d="M664.3 400.0L664.3 424.2M669.4 414.6L664.3 424.2L659.2 414.6"/>
<path d="M682.5 400.0L682.5 423.7M687.5 414.3L682.5 423.7L677.5 414.3"/>
<path d="M700.6 400.0L700.7 422.9M705.5 413.8L700.7 422.9L695.8 413.8"/>
<path d="M718.8 400.0L718.9 422.2M723.5 413.4L718.9 422.2L714.2 413.4"/>
<path d="M737.0 400.0L737.0 421.2M741.5 412.8L737.0 421.2L732.5 412.8"/>
<path d="M755.2 400.0L755.2 420.4M759.5 412.3L755.2 420.4L750.9 412.3"/>
<path d="M773.4 400.0L773.4 419.7M777.5 411.9L773.4 419.7L769.2 411.9"/>
<path d="M791.5 400.0L791.6 419.5M795.7 411.7L791.6 419.5L787.4 411.7"/>
<path d="M300.8 418.2L300.4 437.4M304.6 429.8L300.4 437.4L296.5 429.7"/>
<path d="M319.0 418.2L318.7 438.1M323.0 430.3L318.7 438.1L314.6 430.1"/>
<path d="M337.2 418.2L337.2 438.6M341.5 430.5L337.2 438.6L332.8 430.5"/>
<path d="M355.3 418.2L355.9 438.9M360.0 430.5L355.9 438.9L351.3 430.8"/>
<path d="M373.5 418.2L374.2 438.9M378.3 430.5L374.2 438.9L369.5 430.8"/>
<path d="M391.7 418.2L392.1 439.1M396.4 430.7L392.1 439.1L387.5 430.9"/>
<path d="M409.9 418.2L408.6 439.1M413.5 431.0L408.6 439.1L404.7 430.5"/>
<path d="M428.0 418.2L425.7 439.5M431.1 431.5L425.7 439.5L422.1 430.5"/>
<path d="M446.2 418.2L445.1 440.6M450.3 431.9L445.1 440.6L440.8 431.5"/>
<path d="M464.4 418.2L464.1 441.6M469.2 432.3L464.1 441.6L459.3 432.2"/>
<path d="M482.6 418.2L482.2 440.4M487.0 431.6L482.2 440.4L477.7 431.5"/>
<path d="M500.7 418.2L501.2 439.4M505.5 430.8L501.2 439.4L496.6 431.1"/>
<path d="M518.9 418.2L521.4 438.7M524.7 430.0L521.4 438.7L516.1 431.1"/>
<path d="M537.1 418.2L540.0 439.4M543.3 430.4L540.0 439.4L534.3 431.6"/>
<path d="M555.2 418.2L558.2 440.7M561.8 431.1L558.2 440.7L552.2 432.3"/>
<path d="M573.4 418.2L575.7 442.2M579.9 432.2L575.7 442.2L569.7 433.2"/>
<path d="M591.6 418.2L592.6 443.3M597.5 433.1L592.6 443.3L586.9 433.5"/>
<path d="M609.8 418.2L610.3 442.3M615.2 432.6L610.3 442.3L605.0 432.9"/>
<path d="M628.0 418.2L628.7 442.3M633.5 432.6L628.7 442.3L623.3 432.9"/>
<path d="M646.1 418.2L646.9 442.3M651.7 432.6L646.9 442.3L641.5 432.9"/>
<path d="M664.3 418.2L665.0 442.3M669.8 432.6L665.0 442.3L659.6 432.9"/>
<path d="M682.5 418.2L683.3 441.8M687.9 432.3L683.3 441.8L677.9 432.6"/>
<path d="M700.6 418.2L701.5 441.1M706.0 431.8L701.5 441.1L696.3 432.2"/>
<path d="M718.8 418.2L719.4 440.6M723.9 431.6L719.4 440.6L714.4 431.8"/>
<path d="M737.0 418.2L737.2 439.9M741.7 431.2L737.2 439.9L732.5 431.3"/>
<path d="M755.2 418.2L755.2 439.1M759.6 430.8L755.2 439.1L750.8 430.8"/>
<path d="M773.4 418.2L773.4 438.4M777.6 430.3L773.4 438.4L769.1 430.3"/>
<path d="M791.5 418.2L791.6 438.1M795.8 430.2L791.6 438.1L787.3 430.2"/>
<path d="M337.2 436.4L337.6 456.3M341.6 448.3L337.6 456.3L333.2 448.5"/>
<path d="M355.3 436.4L356.0 457.5M360.2 449.0L356.0 457.5L351.3 449.3"/>
<path d="M373.5 436.4L374.2 457.3M378.4 448.8L374.2 457.3L369.5 449.1"/>
<path d="M391.7 436.4L392.4 457.5M396.6 449.0L392.4 457.5L387.6 449.3"/>
<path d="M409.9 436.4L409.8 458.0M414.4 449.4L409.8 458.0L405.3 449.4"/>
<path d="M428.0 436.4L427.4 458.3M432.3 449.7L427.4 458.3L423.0 449.4"/>
<path d="M446.2 436.4L446.1 458.8M450.9 449.9L446.1 458.8L441.4 449.9"/>
<path d="M464.4 436.4L464.4 459.0M469.2 450.0L464.4 459.0L459.6 450.0"/>
<path d="M482.6 436.4L482.5 458.8M487.3 449.9L482.5 458.8L477.8 449.9"/>
<path d="M500.7 436.4L501.9 458.0M506.0 449.2L501.9 458.0L496.8 449.6"/>
<path d="M518.9 436.4L521.9 458.3M525.4 449.0L521.9 458.3L516.1 450.2"/>
<path d="M537.1 436.4L540.4 459.8M544.0 449.8L540.4 459.8L534.1 451.2"/>
<path d="M555.2 436.4L558.7 461.3M562.6 450.6L558.7 461.3L552.1 452.1"/>
<path d="M573.4 436.4L576.6 462.1M580.7 451.2L576.6 462.1L569.9 452.5"/>
<path d="M591.6 436.4L593.9 462.4M598.5 451.6L593.9 462.4L587.5 452.5"/>
<path d="M609.8 436.4L612.0 461.2M616.3 450.8L612.0 461.2L605.9 451.8"/>
<path d="M628.0 436.4L631.0 461.3M635.1 450.8L631.0 461.3L624.5 452.1"/>
<path d="M646.1 436.4L649.9 461.0M653.6 450.4L649.9 461.0L643.2 452.0"/>
<path d="M664.3 436.4L668.3 460.4M671.8 450.0L668.3 460.4L661.6 451.7"/>
<path d="M682.5 436.4L686.1 460.2M689.7 450.0L686.1 460.2L679.6 451.5"/>
<path d="M700.6 436.4L703.4 459.9M707.3 449.9L703.4 459.9L697.3 451.1"/>
<path d="M718.8 436.4L720.4 459.5M724.7 450.0L720.4 459.5L714.9 450.6"/>
<path d="M737.0 436.4L737.7 458.8M742.2 449.7L737.7 458.8L732.7 450.0"/>
<path d="M755.2 436.4L755.4 458.0M759.9 449.4L755.4 458.0L750.7 449.5"/>
<path d="M773.4 436.4L773.5 457.3M777.9 448.9L773.5 457.3L769.0 449.0"/>
<path d="M791.5 436.4L792.2 456.8M796.3 448.5L792.2 456.8L787.6 448.8"/>
<path d="M337.2 454.5L337.8 474.7M341.8 466.6L337.8 474.7L333.3 466.8"/>
<path d="M355.3 454.5L356.1 476.5M360.4 467.6L356.1 476.5L351.1 467.9"/>
<path d="M373.5 454.5L374.2 476.2M378.5 467.4L374.2 476.2L369.4 467.7"/>
<path d="M391.7 454.5L392.3 476.0M396.6 467.3L392.3 476.0L387.6 467.6"/>
<path d="M409.9 454.5L410.1 476.2M414.6 467.6L410.1 476.2L405.4 467.6"/>
<path d="M428.0 454.5L427.8 476.2M432.5 467.6L427.8 476.2L423.3 467.5"/>
<path d="M446.2 454.5L446.1 476.5M450.8 467.8L446.1 476.5L441.5 467.7"/>
<path d="M464.4 454.5L464.4 476.5M469.0 467.8L464.4 476.5L459.7 467.7"/>
<path d="M482.6 454.5L482.6 476.7M487.3 467.9L482.6 476.7L477.9 467.9"/>
<path d="M500.7 454.5L502.0 476.9M506.2 467.8L502.0 476.9L496.8 468.3"/>
<path d="M518.9 454.5L522.0 478.0M525.7 468.0L522.0 478.0L515.8 469.3"/>
<path d="M537.1 454.5L540.5 479.5M544.4 468.8L540.5 479.5L533.9 470.3"/>
<path d="M555.2 454.5L558.8 480.4M562.9 469.4L558.8 480.4L551.9 470.9"/>
<path d="M573.4 454.5L576.7 480.7M580.9 469.6L576.7 480.7L569.9 471.0"/>
<path d="M591.6 454.5L594.7 480.8M599.0 469.7L594.7 480.8L587.9 471.0"/>
<path d="M609.8 454.5L613.4 480.2M617.4 469.2L613.4 480.2L606.5 470.8"/>
<path d="M628.0 454.5L632.7 480.0M636.2 468.9L632.7 480.0L625.4 470.9"/>
<path d="M646.1 454.5L651.3 479.7M654.6 468.6L651.3 479.7L643.9 470.8"/>
<path d="M664.3 454.5L669.5 479.2M672.6 468.3L669.5 479.2L662.2 470.5"/>
<path d="M682.5 454.5L687.5 478.9M690.7 468.2L687.5 478.9L680.4 470.3"/>
<path d="M700.6 454.5L705.0 478.6M708.3 468.1L705.0 478.6L698.2 469.9"/>
<path d="M718.8 454.5L721.8 478.3M725.6 468.2L721.8 478.3L715.6 469.5"/>
<path d="M737.0 454.5L739.0 477.6M743.1 468.0L739.0 477.6L733.3 468.9"/>
<path d="M755.2 454.5L757.2 476.9M761.1 467.6L757.2 476.9L751.7 468.4"/>
<path d="M773.4 454.5L776.4 476.0M779.7 466.8L776.4 476.0L770.6 468.1"/>
<path d="M791.5 454.5L795.1 475.4M798.1 466.4L795.1 475.4L789.2 467.9"/>
<path d="M337.2 472.7L338.2 493.1M342.1 484.8L338.2 493.1L333.5 485.2"/>
<path d="M355.3 472.7L356.5 494.9M360.7 485.8L356.5 494.9L351.3 486.3"/>
<path d="M373.5 472.7L374.5 494.9M378.8 485.9L374.5 494.9L369.4 486.3"/>
<path d="M391.7 472.7L392.4 494.6M396.8 485.8L392.4 494.6L387.5 486.1"/>
<path d="M409.9 472.7L410.3 494.4M414.7 485.7L410.3 494.4L405.5 485.9"/>
<path d="M428.0 472.7L428.2 494.1M432.7 485.6L428.2 494.1L423.6 485.7"/>
<path d="M446.2 472.7L446.3 493.9M450.7 485.5L446.3 493.9L441.8 485.5"/>
<path d="M464.4 472.7L464.5 493.9M468.9 485.5L464.5 493.9L460.0 485.5"/>
<path d="M482.6 472.7L482.8 494.9M487.4 486.0L482.8 494.9L478.0 486.1"/>
<path d="M500.7 472.7L502.0 495.6M506.3 486.2L502.0 495.6L496.6 486.8"/>
<path d="M518.9 472.7L521.5 496.7M525.6 486.6L521.5 496.7L515.4 487.7"/>
<path d="M537.1 472.7L540.3 497.9M544.4 487.2L540.3 497.9L533.7 488.6"/>
<path d="M555.2 472.7L558.7 498.6M562.8 487.6L558.7 498.6L551.8 489.1"/>
<path d="M573.4 472.7L577.0 498.9M581.1 487.7L577.0 498.9L570.0 489.2"/>
<path d="M591.6 472.7L595.5 498.8M599.4 487.6L595.5 498.8L588.4 489.3"/>
<path d="M609.8 472.7L614.2 498.5M617.9 487.3L614.2 498.5L607.0 489.2"/>
<path d="M628.0 472.7L633.1 498.3M636.5 487.1L633.1 498.3L625.7 489.2"/>
<path d="M646.1 472.7L651.5 498.3M654.8 487.0L651.5 498.3L644.0 489.3"/>
<path d="M664.3 472.7L669.7 498.0M672.9 486.8L669.7 498.0L662.2 489.1"/>
<path d="M682.5 472.7L687.8 497.8M691.0 486.7L687.8 497.8L680.4 489.0"/>
<path d="M700.6 472.7L705.7 497.6M708.9 486.7L705.7 497.6L698.4 488.8"/>
<path d="M718.8 472.7L723.0 497.3M726.5 486.6L723.0 497.3L716.2 488.4"/>
<path d="M737.0 472.7L740.6 496.9M744.3 486.5L740.6 496.9L734.1 488.0"/>
<path d="M755.2 472.7L758.9 496.1M762.4 486.0L758.9 496.1L752.5 487.6"/>
<path d="M773.4 472.7L777.3 495.3M780.5 485.5L777.3 495.3L771.0 487.1"/>
<path d="M791.5 472.7L795.4 494.6M798.5 485.1L795.4 494.6L789.2 486.7"/>
<path d="M319.0 490.9L320.2 510.3M323.8 502.3L320.2 510.3L315.6 502.8"/>
<path d="M337.2 490.9L338.7 513.0M342.7 503.9L338.7 513.0L333.4 504.5"/>
<path d="M355.3 490.9L357.0 514.5M361.3 504.8L357.0 514.5L351.3 505.5"/>
<path d="M373.5 490.9L375.0 514.0M379.3 504.5L375.0 514.0L369.5 505.1"/>
<path d="M391.7 490.9L392.9 513.3M397.1 504.1L392.9 513.3L387.7 504.6"/>
<path d="M409.9 490.9L410.7 512.8M415.0 503.9L410.7 512.8L405.7 504.3"/>
<path d="M428.0 490.9L428.9 512.3M433.1 503.6L428.9 512.3L424.0 504.0"/>
<path d="M446.2 490.9L447.1 511.8M451.1 503.3L447.1 511.8L442.3 503.7"/>
<path d="M464.4 490.9L465.2 512.1M469.3 503.5L465.2 512.1L460.4 503.8"/>
<path d="M482.6 490.9L483.4 513.3M487.8 504.2L483.4 513.3L478.3 504.6"/>
<path d="M500.7 490.9L502.1 514.3M506.5 504.7L502.1 514.3L496.6 505.3"/>
<path d="M518.9 490.9L521.4 515.2M525.5 505.0L521.4 515.2L515.3 506.0"/>
<path d="M537.1 490.9L540.5 516.3M544.5 505.5L540.5 516.3L533.8 506.9"/>
<path d="M555.2 490.9L559.5 516.7M563.3 505.5L559.5 516.7L552.4 507.3"/>
<path d="M573.4 490.9L578.3 516.8M581.8 505.5L578.3 516.8L570.9 507.5"/>
<path d="M591.6 490.9L596.7 517.0M600.2 505.6L596.7 517.0L589.1 507.7"/>
<path d="M609.8 490.9L614.8 516.5M618.3 505.3L614.8 516.5L607.4 507.4"/>
<path d="M628.0 490.9L633.3 516.7M636.6 505.3L633.3 516.7L625.7 507.6"/>
<path d="M646.1 490.9L651.6 516.7M654.9 505.3L651.6 516.7L644.0 507.6"/>
<path d="M664.3 490.9L669.7 516.5M673.0 505.2L669.7 516.5L662.2 507.4"/>
<path d="M682.5 490.9L687.9 516.5M691.1 505.2L687.9 516.5L680.3 507.4"/>
<path d="M700.6 490.9L705.9 516.2M709.2 505.0L705.9 516.2L698.5 507.3"/>
<path d="M718.8 490.9L724.0 516.0M727.3 504.9L724.0 516.0L716.7 507.1"/>
<path d="M737.0 490.9L742.3 515.7M745.4 504.7L742.3 515.7L734.9 507.0"/>
<path d="M755.2 490.9L760.2 515.5M763.4 504.7L760.2 515.5L753.0 506.8"/>
<path d="M773.4 490.9L777.8 515.1M781.2 504.6L777.8 515.1L770.9 506.4"/>
<path d="M791.5 490.9L795.7 514.4M799.0 504.2L795.7 514.4L789.1 506.0"/>
<path d="M300.8 509.1L302.0 529.0M305.7 520.8L302.0 529.0L297.3 521.3"/>
<path d="M319.0 509.1L320.3 529.7M324.2 521.2L320.3 529.7L315.4 521.8"/>
<path d="M337.2 509.1L338.7 531.2M342.8 522.1L338.7 531.2L333.4 522.7"/>
<path d="M355.3 509.1L357.0 533.7M361.6 523.5L357.0 533.7L351.2 524.2"/>
<path d="M373.5 509.1L375.1 532.7M379.5 522.9L375.1 532.7L369.5 523.6"/>
<path d="M391.7 509.1L393.1 531.4M397.2 522.3L393.1 531.4L387.8 522.8"/>
<path d="M409.9 509.1L410.9 531.0M415.1 522.0L410.9 531.0L405.9 522.5"/>
<path d="M428.0 509.1L429.1 530.5M433.2 521.7L429.1 530.5L424.2 522.2"/>
<path d="M446.2 509.1L447.3 530.2M451.3 521.6L447.3 530.2L442.4 522.0"/>
<path d="M464.4 509.1L465.5 530.5M469.6 521.7L465.5 530.5L460.5 522.2"/>
<path d="M482.6 509.1L483.7 531.7M488.0 522.5L483.7 531.7L478.5 523.0"/>
<path d="M500.7 509.1L502.4 532.4M506.7 522.8L502.4 532.4L496.8 523.5"/>
<path d="M518.9 509.1L522.0 533.3M525.9 523.0L522.0 533.3L515.7 524.3"/>
<path d="M537.1 509.1L541.8 534.0M545.2 523.1L541.8 534.0L534.7 525.1"/>
<path d="M555.2 509.1L561.0 534.6M564.1 523.2L561.0 534.6L553.3 525.6"/>
<path d="M573.4 509.1L579.5 534.7M582.5 523.2L579.5 534.7L571.7 525.8"/>
<path d="M591.6 509.1L597.7 535.0M600.8 523.4L597.7 535.0L589.8 526.0"/>
<path d="M609.8 509.1L615.6 534.6M618.7 523.2L615.6 534.6L607.9 525.7"/>
<path d="M628.0 509.1L633.6 534.9M636.8 523.4L633.6 534.9L625.9 525.8"/>
<path d="M646.1 509.1L651.7 534.9M654.9 523.4L651.7 534.9L644.0 525.8"/>
<path d="M664.3 509.1L669.9 534.9M673.1 523.4L669.9 534.9L662.2 525.8"/>
<path d="M682.5 509.1L688.1 534.9M691.3 523.4L688.1 534.9L680.4 525.8"/>
<path d="M700.6 509.1L706.5 534.6M709.6 523.2L706.5 534.6L698.8 525.7"/>
<path d="M718.8 509.1L725.4 534.1M728.1 522.8L725.4 534.1L717.5 525.5"/>
<path d="M737.0 509.1L744.4 533.6M746.7 522.3L744.4 533.6L736.3 525.4"/>
<path d="M755.2 509.1L763.0 533.2M765.0 522.0L763.0 533.2L754.8 525.3"/>
<path d="M773.4 509.1L780.7 533.1M782.9 522.0L780.7 533.1L772.7 525.1"/>
<path d="M791.5 509.1L797.7 532.9M800.3 522.2L797.7 532.9L790.2 524.7"/>
<path d="M282.6 527.2L284.0 548.4M287.9 539.7L284.0 548.4L279.0 540.3"/>
<path d="M300.8 527.2L302.2 548.9M306.2 540.0L302.2 548.9L297.1 540.6"/>
<path d="M319.0 527.2L320.4 549.1M324.5 540.1L320.4 549.1L315.2 540.7"/>
<path d="M337.2 527.2L338.7 549.9M342.9 540.5L338.7 549.9L333.3 541.2"/>
<path d="M355.3 527.2L357.0 550.8M361.3 541.1L357.0 550.8L351.3 541.8"/>
<path d="M373.5 527.2L375.1 551.1M379.5 541.3L375.1 551.1L369.4 542.0"/>
<path d="M391.7 527.2L393.1 549.9M397.3 540.6L393.1 549.9L387.7 541.2"/>
<path d="M409.9 527.2L411.0 549.1M415.2 540.2L411.0 549.1L405.9 540.7"/>
<path d="M428.0 527.2L429.2 548.9M433.3 540.0L429.2 548.9L424.1 540.5"/>
<path d="M446.2 527.2L447.3 548.6M451.4 539.9L447.3 548.6L442.4 540.4"/>
<path d="M464.4 527.2L465.5 548.9M469.6 540.0L465.5 548.9L460.5 540.5"/>
<path d="M482.6 527.2L483.8 549.9M488.1 540.6L483.8 549.9L478.5 541.1"/>
<path d="M500.7 527.2L502.7 550.6M506.9 540.9L502.7 550.6L497.0 541.7"/>
<path d="M518.9 527.2L523.0 551.6M526.5 541.0L523.0 551.6L516.2 542.7"/>
<path d="M537.1 527.2L542.8 552.2M545.8 541.1L542.8 552.2L535.2 543.5"/>
<path d="M555.2 527.2L561.5 552.6M564.4 541.2L561.5 552.6L553.7 543.9"/>
<path d="M573.4 527.2L579.8 552.9M582.7 541.3L579.8 552.9L571.9 544.0"/>
<path d="M591.6 527.2L598.0 553.1M600.9 541.5L598.0 553.1L590.0 544.2"/>
<path d="M609.8 527.2L616.1 552.6M618.9 541.2L616.1 552.6L608.2 543.9"/>
<path d="M628.0 527.2L634.4 552.8M637.2 541.3L634.4 552.8L626.4 544.0"/>
<path d="M646.1 527.2L652.6 552.8M655.4 541.3L652.6 552.8L644.6 544.0"/>
<path d="M664.3 527.2L670.8 552.8M673.6 541.3L670.8 552.8L662.8 544.0"/>
<path d="M682.5 527.2L689.2 552.8M691.9 541.2L689.2 552.8L681.1 544.0"/>
<path d="M700.6 527.2L707.9 552.6M710.4 541.0L707.9 552.6L699.6 544.1"/>
<path d="M718.8 527.2L726.9 552.1M729.0 540.5L726.9 552.1L718.5 543.9"/>
<path d="M737.0 527.2L746.0 551.5M747.6 540.0L746.0 551.5L737.3 543.8"/>
<path d="M755.2 527.2L764.6 551.1M765.9 539.6L764.6 551.1L755.8 543.6"/>
<path d="M773.4 527.2L782.8 550.8M784.0 539.4L782.8 550.8L774.1 543.4"/>
<path d="M791.5 527.2L800.7 550.7M802.0 539.4L800.7 550.7L792.1 543.3"/>
<path d="M264.5 545.4L265.9 567.0M269.9 558.1L265.9 567.0L260.8 558.8"/>
<path d="M282.6 545.4L284.3 569.5M288.7 559.6L284.3 569.5L278.5 560.3"/>
<path d="M300.8 545.4L302.5 569.8M306.9 559.7L302.5 569.8L296.7 560.4"/>
<path d="M319.0 545.4L320.5 568.5M324.8 559.0L320.5 568.5L315.0 559.7"/>
<path d="M337.2 545.4L338.7 568.0M342.9 558.7L338.7 568.0L333.3 559.4"/>
<path d="M355.3 545.4L356.9 568.3M361.1 558.9L356.9 568.3L351.4 559.5"/>
<path d="M373.5 545.4L375.0 568.0M379.2 558.7L375.0 568.0L369.6 559.4"/>
<path d="M391.7 545.4L393.0 567.8M397.2 558.6L393.0 567.8L387.7 559.2"/>
<path d="M409.9 545.4L411.0 567.3M415.2 558.4L411.0 567.3L405.9 558.8"/>
<path d="M428.0 545.4L429.2 567.1M433.3 558.2L429.2 567.1L424.1 558.7"/>
<path d="M446.2 545.4L447.3 567.1M451.5 558.2L447.3 567.1L442.3 558.7"/>
<path d="M464.4 545.4L465.5 567.3M469.7 558.4L465.5 567.3L460.4 558.8"/>
<path d="M482.6 545.4L483.9 567.8M488.1 558.6L483.9 567.8L478.6 559.2"/>
<path d="M500.7 545.4L503.1 568.5M507.0 558.8L503.1 568.5L497.3 559.8"/>
<path d="M518.9 545.4L523.5 569.4M526.7 558.9L523.5 569.4L516.6 560.8"/>
<path d="M537.1 545.4L543.0 570.1M545.9 559.0L543.0 570.1L535.4 561.5"/>
<path d="M555.2 545.4L561.6 570.8M564.4 559.4L561.6 570.8L553.7 562.0"/>
<path d="M573.4 545.4L579.8 571.0M582.7 559.5L579.8 571.0L571.9 562.2"/>
<path d="M591.6 545.4L598.0 571.0M600.9 559.5L598.0 571.0L590.0 562.2"/>
<path d="M609.8 545.4L616.3 570.7M619.0 559.3L616.3 570.7L608.3 562.0"/>
<path d="M628.0 545.4L635.3 570.8M637.7 559.1L635.3 570.8L627.0 562.2"/>
<path d="M646.1 545.4L654.5 570.5M656.4 558.7L654.5 570.5L645.9 562.3"/>
<path d="M664.3 545.4L673.1 570.3M674.8 558.6L673.1 570.3L664.3 562.3"/>
<path d="M682.5 545.4L691.3 570.3M693.0 558.5L691.3 570.3L682.5 562.3"/>
<path d="M700.6 545.4L709.5 570.3M711.2 558.5L709.5 570.3L700.7 562.3"/>
<path d="M718.8 545.4L728.0 570.2M729.6 558.4L728.0 570.2L719.1 562.3"/>
<path d="M737.0 545.4L746.6 569.7M747.9 558.0L746.6 569.7L737.6 562.1"/>
<path d="M755.2 545.4L764.9 569.4M766.1 557.8L764.9 569.4L755.9 561.9"/>
<path d="M773.4 545.4L783.0 569.2M784.2 557.7L783.0 569.2L774.1 561.8"/>
<path d="M791.5 545.4L801.0 569.0M802.2 557.6L801.0 569.0L792.3 561.6"/>
<path d="M246.3 563.6L247.7 584.7M251.6 576.0L247.7 584.7L242.7 576.6"/>
<path d="M264.5 563.6L266.1 586.7M270.3 577.2L266.1 586.7L260.5 577.9"/>
<path d="M282.6 563.6L284.4 589.7M289.2 578.9L284.4 589.7L278.2 579.7"/>
<path d="M300.8 563.6L302.6 589.7M307.4 578.9L302.6 589.7L296.4 579.7"/>
<path d="M319.0 563.6L320.6 587.7M325.1 577.8L320.6 587.7L314.9 578.5"/>
<path d="M337.2 563.6L338.7 586.5M342.9 577.0L338.7 586.5L333.2 577.7"/>
<path d="M355.3 563.6L356.8 586.2M361.0 576.9L356.8 586.2L351.4 577.5"/>
<path d="M373.5 563.6L374.9 585.7M379.0 576.6L374.9 585.7L369.7 577.2"/>
<path d="M391.7 563.6L393.0 585.5M397.1 576.5L393.0 585.5L387.8 577.0"/>
<path d="M409.9 563.6L411.1 585.5M415.2 576.5L411.1 585.5L406.0 577.0"/>
<path d="M428.0 563.6L429.2 585.2M433.3 576.4L429.2 585.2L424.2 576.9"/>
<path d="M446.2 563.6L447.4 585.0M451.4 576.2L447.4 585.0L442.4 576.7"/>
<path d="M464.4 563.6L465.6 585.0M469.6 576.2L465.6 585.0L460.6 576.7"/>
<path d="M482.6 563.6L484.1 585.2M488.1 576.3L484.1 585.2L478.9 576.9"/>
<path d="M500.7 563.6L503.5 585.6M507.0 576.3L503.5 585.6L497.7 577.4"/>
<path d="M518.9 563.6L523.7 587.3M526.8 576.8L523.7 587.3L516.8 578.9"/>
<path d="M537.1 563.6L543.0 588.0M545.8 577.1L543.0 588.0L535.5 579.6"/>
<path d="M555.2 563.6L561.5 588.7M564.3 577.4L561.5 588.7L553.7 580.1"/>
<path d="M573.4 563.6L579.8 589.0M582.6 577.5L579.8 589.0L571.9 580.2"/>
<path d="M591.6 563.6L598.0 589.2M600.9 577.7L598.0 589.2L590.1 580.4"/>
<path d="M609.8 563.6L616.7 588.8M619.3 577.3L616.7 588.8L608.6 580.2"/>
<path d="M628.0 563.6L636.6 588.5M638.5 576.8L636.6 588.5L627.9 580.4"/>
<path d="M646.1 563.6L656.0 588.1M657.2 576.3L656.0 588.1L646.9 580.4"/>
<path d="M664.3 563.6L674.4 588.0M675.5 576.2L674.4 588.0L665.2 580.4"/>
<path d="M682.5 563.6L692.5 588.0M693.7 576.2L692.5 588.0L683.4 580.4"/>
<path d="M700.6 563.6L710.6 588.1M711.8 576.2L710.6 588.1L701.4 580.4"/>
<path d="M718.8 563.6L728.6 588.1M729.9 576.3L728.6 588.1L719.5 580.4"/>
<path d="M737.0 563.6L746.8 588.1M748.1 576.3L746.8 588.1L737.7 580.4"/>
<path d="M755.2 563.6L765.0 587.8M766.2 576.1L765.0 587.8L755.9 580.3"/>
<path d="M773.4 563.6L783.1 587.6M784.3 576.0L783.1 587.6L774.1 580.1"/>
<path d="M791.5 563.6L801.1 587.4M802.3 575.9L801.1 587.4L792.3 579.9"/>
<path d="M209.9 581.8L211.3 602.7M215.2 594.1L211.3 602.7L206.3 594.6"/>
<path d="M228.1 581.8L229.6 603.1M233.5 594.3L229.6 603.1L224.5 595.0"/>
<path d="M246.3 581.8L247.8 603.9M251.9 594.8L247.8 603.9L242.5 595.4"/>
<path d="M264.5 581.8L266.1 605.6M270.5 595.8L266.1 605.6L260.4 596.5"/>
<path d="M282.6 581.8L284.4 607.4M289.1 596.8L284.4 607.4L278.3 597.6"/>
<path d="M300.8 581.8L302.6 606.9M307.2 596.5L302.6 606.9L296.6 597.3"/>
<path d="M319.0 581.8L320.6 605.1M324.9 595.5L320.6 605.1L315.0 596.2"/>
<path d="M337.2 581.8L338.7 604.1M342.8 594.9L338.7 604.1L333.3 595.6"/>
<path d="M355.3 581.8L356.8 604.1M361.0 594.9L356.8 604.1L351.5 595.6"/>
<path d="M373.5 581.8L374.9 603.6M379.0 594.6L374.9 603.6L369.7 595.2"/>
<path d="M391.7 581.8L393.1 603.4M397.1 594.5L393.1 603.4L387.9 595.1"/>
<path d="M409.9 581.8L411.2 603.4M415.2 594.5L411.2 603.4L406.1 595.1"/>
<path d="M428.0 581.8L429.3 603.2M433.3 594.4L429.3 603.2L424.3 594.9"/>
<path d="M446.2 581.8L447.6 602.9M451.5 594.2L447.6 602.9L442.5 594.8"/>
<path d="M464.4 581.8L465.9 602.6M469.7 594.0L465.9 602.6L460.9 594.7"/>
<path d="M482.6 581.8L484.7 603.1M488.4 594.2L484.7 603.1L479.3 595.1"/>
<path d="M500.7 581.8L504.1 603.4M507.3 594.1L504.1 603.4L498.2 595.5"/>
<path d="M518.9 581.8L523.9 605.1M526.9 594.8L523.9 605.1L517.0 596.9"/>
<path d="M537.1 581.8L543.1 605.9M545.8 595.1L543.1 605.9L535.6 597.6"/>
<path d="M555.2 581.8L561.6 606.6M564.3 595.4L561.6 606.6L553.8 598.1"/>
<path d="M573.4 581.8L579.9 606.8M582.6 595.5L579.9 606.8L572.0 598.2"/>
<path d="M591.6 581.8L598.6 607.0M601.1 595.5L598.6 607.0L590.5 598.4"/>
<path d="M609.8 581.8L618.0 606.6M620.0 595.0L618.0 606.6L609.5 598.5"/>
<path d="M628.0 581.8L637.8 606.3M639.1 594.4L637.8 606.3L628.7 598.6"/>
<path d="M646.1 581.8L656.4 606.1M657.5 594.2L656.4 606.1L647.2 598.6"/>
<path d="M664.3 581.8L674.6 606.1M675.7 594.2L674.6 606.1L665.4 598.6"/>
<path d="M682.5 581.8L692.8 606.1M693.8 594.2L692.8 606.1L683.6 598.6"/>
<path d="M700.6 581.8L711.0 606.0M712.0 594.2L711.0 606.0L701.8 598.6"/>
<path d="M718.8 581.8L729.3 606.0M730.2 594.2L729.3 606.0L720.0 598.6"/>
<path d="M737.0 581.8L747.3 606.1M748.4 594.2L747.3 606.1L738.1 598.6"/>
<path d="M755.2 581.8L765.2 605.9M766.3 594.2L765.2 605.9L756.1 598.4"/>
<path d="M773.4 581.8L783.2 605.7M784.4 594.1L783.2 605.7L774.2 598.3"/>
<path d="M791.5 581.8L801.4 605.5M802.5 594.0L801.4 605.5L792.4 598.1"/>
<path d="M137.2 599.9L138.3 620.8M142.3 612.3L138.3 620.8L133.4 612.8"/>
<path d="M155.4 599.9L156.5 621.1M160.5 612.4L156.5 621.1L151.6 612.9"/>
<path d="M173.6 599.9L174.8 621.3M178.8 612.6L174.8 621.3L169.8 613.1"/>
<path d="M191.8 599.9L193.1 621.3M197.1 612.5L193.1 621.3L188.0 613.1"/>
<path d="M209.9 599.9L211.3 621.6M215.4 612.7L211.3 621.6L206.2 613.3"/>
<path d="M228.1 599.9L229.6 621.6M233.6 612.7L229.6 621.6L224.4 613.3"/>
<path d="M246.3 599.9L247.8 622.1M251.9 612.9L247.8 622.1L242.5 613.6"/>
<path d="M264.5 599.9L266.1 623.1M270.3 613.5L266.1 623.1L260.5 614.2"/>
<path d="M282.6 599.9L284.3 624.0M288.7 614.1L284.3 624.0L278.5 614.8"/>
<path d="M300.8 599.9L302.5 623.8M306.8 614.0L302.5 623.8L296.8 614.7"/>
<path d="M319.0 599.9L320.6 622.8M324.8 613.4L320.6 622.8L315.1 614.0"/>
<path d="M337.2 599.9L338.7 622.3M342.8 613.1L338.7 622.3L333.4 613.7"/>
<path d="M355.3 599.9L356.9 621.8M360.9 612.8L356.9 621.8L351.6 613.4"/>
<path d="M373.5 599.9L375.1 621.3M379.0 612.5L375.1 621.3L369.9 613.1"/>
<path d="M391.7 599.9L393.3 621.1M397.1 612.3L393.3 621.1L388.2 613.0"/>
<path d="M409.9 599.9L411.5 621.3M415.4 612.4L411.5 621.3L406.4 613.2"/>
<path d="M428.0 599.9L429.8 621.0M433.5 612.3L429.8 621.0L424.6 613.0"/>
<path d="M446.2 599.9L448.1 620.8M451.7 612.1L448.1 620.8L442.9 612.9"/>
<path d="M464.4 599.9L466.6 620.7M470.1 612.0L466.6 620.7L461.3 613.0"/>
<path d="M482.6 599.9L485.6 621.2M488.9 612.1L485.6 621.2L479.9 613.4"/>
<path d="M500.7 599.9L504.8 621.2M507.7 611.9L504.8 621.2L498.7 613.6"/>
<path d="M518.9 599.9L524.5 622.9M527.1 612.6L524.5 622.9L517.4 615.0"/>
<path d="M537.1 599.9L543.6 623.7M546.0 612.9L543.6 623.7L536.0 615.6"/>
<path d="M555.2 599.9L562.4 624.3M564.7 613.1L562.4 624.3L554.4 616.1"/>
<path d="M573.4 599.9L581.3 624.4M583.3 613.0L581.3 624.4L573.0 616.3"/>
<path d="M591.6 599.9L600.4 624.3M602.1 612.7L600.4 624.3L591.8 616.5"/>
<path d="M609.8 599.9L619.6 624.2M620.8 612.5L619.6 624.2L610.6 616.6"/>
<path d="M628.0 599.9L638.2 624.2M639.3 612.4L638.2 624.2L629.0 616.8"/>
<path d="M646.1 599.9L656.4 624.2M657.5 612.4L656.4 624.2L647.2 616.8"/>
<path d="M664.3 599.9L674.6 624.2M675.7 612.4L674.6 624.2L665.4 616.8"/>
<path d="M682.5 599.9L692.8 624.2M693.8 612.4L692.8 624.2L683.6 616.8"/>
<path d="M700.6 599.9L711.2 624.1M712.1 612.3L711.2 624.1L701.9 616.7"/>
<path d="M718.8 599.9L730.1 623.8M730.7 611.9L730.1 623.8L720.6 616.7"/>
<path d="M737.0 599.9L748.7 623.6M749.1 611.7L748.7 623.6L739.1 616.7"/>
<path d="M755.2 599.9L766.7 623.4M767.1 611.6L766.7 623.4L757.2 616.5"/>
<path d="M773.4 599.9L784.8 623.2M785.2 611.5L784.8 623.2L775.3 616.4"/>
<path d="M791.5 599.9L803.1 622.6M803.3 611.1L803.1 622.6L793.7 616.0"/>
<path d="M28.2 618.1L29.0 635.8M32.4 628.6L29.0 635.8L24.9 628.9"/>
<path d="M46.4 618.1L47.4 639.0M51.4 630.5L47.4 639.0L42.5 630.9"/>
<path d="M64.5 618.1L65.6 639.0M69.6 630.5L65.6 639.0L60.7 630.9"/>
<path d="M82.7 618.1L83.8 639.0M87.8 630.5L83.8 639.0L78.9 630.9"/>
<path d="M100.9 618.1L102.0 639.3M106.0 630.6L102.0 639.3L97.1 631.1"/>
<path d="M119.1 618.1L120.2 639.8M124.3 630.9L120.2 639.8L115.1 631.4"/>
<path d="M137.2 618.1L138.4 640.0M142.5 631.1L138.4 640.0L133.3 631.5"/>
<path d="M155.4 618.1L156.6 640.3M160.8 631.2L156.6 640.3L151.4 631.7"/>
<path d="M173.6 618.1L174.8 640.3M179.0 631.2L174.8 640.3L169.6 631.7"/>
<path d="M191.8 618.1L193.1 640.0M197.2 631.0L193.1 640.0L187.9 631.6"/>
<path d="M209.9 618.1L211.4 639.7M215.4 630.8L211.4 639.7L206.2 631.4"/>
<path d="M228.1 618.1L229.6 639.7M233.6 630.8L229.6 639.7L224.4 631.5"/>
<path d="M246.3 618.1L247.8 640.5M251.9 631.3L247.8 640.5L242.5 631.9"/>
<path d="M264.5 618.1L266.1 641.2M270.3 631.7L266.1 641.2L260.5 632.4"/>
<path d="M282.6 618.1L284.3 642.2M288.7 632.3L284.3 642.2L278.5 633.0"/>
<path d="M300.8 618.1L302.5 641.7M306.8 632.0L302.5 641.7L296.8 632.7"/>
<path d="M319.0 618.1L320.6 641.0M324.8 631.5L320.6 641.0L315.1 632.2"/>
<path d="M337.2 618.1L338.8 640.5M342.9 631.2L338.8 640.5L333.4 631.9"/>
<path d="M355.3 618.1L357.1 640.0M361.0 630.9L357.1 640.0L351.8 631.6"/>
<path d="M373.5 618.1L375.4 639.7M379.2 630.7L375.4 639.7L370.1 631.5"/>
<path d="M391.7 618.1L393.8 639.4M397.4 630.5L393.8 639.4L388.4 631.4"/>
<path d="M409.9 618.1L412.2 639.7M415.8 630.6L412.2 639.7L406.7 631.6"/>
<path d="M428.0 618.1L430.6 639.4M434.0 630.4L430.6 639.4L425.1 631.5"/>
<path d="M446.2 618.1L449.1 639.4M452.4 630.3L449.1 639.4L443.4 631.5"/>
<path d="M464.4 618.1L467.8 639.5M471.0 630.3L467.8 639.5L461.9 631.7"/>
<path d="M482.6 618.1L486.8 639.9M489.7 630.3L486.8 639.9L480.5 632.1"/>
<path d="M500.7 618.1L506.1 640.4M508.7 630.4L506.1 640.4L499.3 632.7"/>
<path d="M518.9 618.1L525.5 641.1M527.7 630.6L525.5 641.1L518.0 633.4"/>
<path d="M537.1 618.1L544.7 641.3M546.6 630.5L544.7 641.3L536.8 633.7"/>
<path d="M555.2 618.1L563.9 641.5M565.4 630.4L563.9 641.5L555.5 634.0"/>
<path d="M573.4 618.1L583.1 641.4M584.1 630.1L583.1 641.4L574.3 634.1"/>
<path d="M591.6 618.1L602.0 641.6M602.8 630.0L602.0 641.6L592.9 634.4"/>
<path d="M609.8 618.1L620.6 641.9M621.3 630.2L620.6 641.9L611.3 634.7"/>
<path d="M628.0 618.1L638.7 642.2M639.5 630.4L638.7 642.2L629.3 634.9"/>
<path d="M646.1 618.1L656.5 642.4M657.5 630.5L656.5 642.4L647.3 634.9"/>
<path d="M664.3 618.1L674.6 642.4M675.7 630.6L674.6 642.4L665.4 634.9"/>
<path d="M682.5 618.1L693.0 642.3M693.9 630.5L693.0 642.3L683.7 634.9"/>
<path d="M700.6 618.1L712.0 642.0M712.5 630.1L712.0 642.0L702.4 634.9"/>
<path d="M718.8 618.1L731.8 641.1M731.5 629.2L731.8 641.1L721.8 634.7"/>
<path d="M737.0 618.1L751.0 640.5M750.2 628.6L751.0 640.5L740.7 634.5"/>
<path d="M755.2 618.1L769.6 639.9M768.5 628.2L769.6 639.9L759.3 634.3"/>
<path d="M773.4 618.1L788.1 639.4M786.8 627.8L788.1 639.4L777.8 634.0"/>
<path d="M791.5 618.1L806.4 638.7M804.8 627.4L806.4 638.7L796.1 633.7"/>
<path d="M10.0 636.3L11.0 657.4M15.0 648.8L11.0 657.4L6.1 649.2"/>
<path d="M28.2 636.3L29.2 656.9M33.1 648.5L29.2 656.9L24.4 648.9"/>
<path d="M46.4 636.3L47.4 657.9M51.6 649.1L47.4 657.9L42.4 649.6"/>
<path d="M64.5 636.3L65.6 658.2M69.8 649.2L65.6 658.2L60.6 649.7"/>
<path d="M82.7 636.3L83.8 658.2M88.0 649.2L83.8 658.2L78.8 649.7"/>
<path d="M100.9 636.3L102.1 659.4M106.5 650.0L102.1 659.4L96.7 650.5"/>
<path d="M119.1 636.3L120.3 660.2M124.8 650.4L120.3 660.2L114.8 650.9"/>
<path d="M137.2 636.3L138.5 660.4M143.1 650.6L138.5 660.4L132.9 651.1"/>
<path d="M155.4 636.3L156.7 660.2M161.2 650.4L156.7 660.2L151.1 650.9"/>
<path d="M173.6 636.3L174.9 659.7M179.3 650.1L174.9 659.7L169.4 650.7"/>
<path d="M191.8 636.3L193.1 658.9M197.4 649.6L193.1 658.9L187.8 650.2"/>
<path d="M209.9 636.3L211.4 659.2M215.7 649.7L211.4 659.2L206.0 650.4"/>
<path d="M228.1 636.3L229.7 659.4M234.0 649.9L229.7 659.4L224.2 650.6"/>
<path d="M246.3 636.3L248.0 659.9M252.3 650.2L248.0 659.9L242.3 650.9"/>
<path d="M264.5 636.3L266.2 660.6M270.6 650.6L266.2 660.6L260.4 651.3"/>
<path d="M282.6 636.3L284.5 661.9M289.1 651.3L284.5 661.9L278.3 652.1"/>
<path d="M300.8 636.3L302.7 662.4M307.5 651.6L302.7 662.4L296.4 652.4"/>
<path d="M319.0 636.3L320.9 661.4M325.4 651.0L320.9 661.4L314.8 651.8"/>
<path d="M337.2 636.3L339.2 660.6M343.5 650.5L339.2 660.6L333.2 651.4"/>
<path d="M355.3 636.3L357.5 659.6M361.6 649.9L357.5 659.6L351.7 650.8"/>
<path d="M373.5 636.3L375.9 658.8M379.7 649.4L375.9 658.8L370.2 650.4"/>
<path d="M391.7 636.3L394.4 658.3M398.0 649.0L394.4 658.3L388.7 650.1"/>
<path d="M409.9 636.3L413.0 658.5M416.4 649.0L413.0 658.5L407.1 650.3"/>
<path d="M428.0 636.3L431.5 658.2M434.7 648.7L431.5 658.2L425.5 650.2"/>
<path d="M446.2 636.3L450.1 658.1M453.2 648.6L450.1 658.1L444.0 650.3"/>
<path d="M464.4 636.3L469.0 658.2M471.8 648.5L469.0 658.2L462.5 650.5"/>
<path d="M482.6 636.3L488.1 658.5M490.6 648.5L488.1 658.5L481.2 650.9"/>
<path d="M500.7 636.3L507.3 658.8M509.4 648.4L507.3 658.8L499.9 651.2"/>
<path d="M518.9 636.3L526.6 659.2M528.4 648.5L526.6 659.2L518.7 651.7"/>
<path d="M537.1 636.3L545.9 659.6M547.3 648.5L545.9 659.6L537.4 652.2"/>
<path d="M555.2 636.3L565.1 659.7M566.2 648.3L565.1 659.7L556.3 652.5"/>
<path d="M573.4 636.3L584.0 659.6M584.8 648.1L584.0 659.6L574.9 652.6"/>
<path d="M591.6 636.3L602.6 660.0M603.3 648.2L602.6 660.0L593.2 652.9"/>
<path d="M609.8 636.3L620.8 660.0M621.4 648.2L620.8 660.0L611.4 652.9"/>
<path d="M628.0 636.3L639.1 660.2M639.7 648.3L639.1 660.2L629.6 653.1"/>
<path d="M646.1 636.3L657.2 660.2M657.9 648.4L657.2 660.2L647.8 653.1"/>
<path d="M664.3 636.3L675.5 660.2M676.1 648.3L675.5 660.2L666.0 653.1"/>
<path d="M682.5 636.3L694.8 659.6M694.9 647.7L694.8 659.6L685.0 653.0"/>
<path d="M700.6 636.3L715.2 658.3M714.1 646.5L715.2 658.3L704.8 652.6"/>
<path d="M718.8 636.3L734.9 657.3M732.9 645.5L734.9 657.3L724.0 652.3"/>
<path d="M737.0 636.3L753.3 656.8M751.1 645.2L753.3 656.8L742.5 652.1"/>
<path d="M755.2 636.3L771.6 656.6M769.4 645.1L771.6 656.6L760.8 652.0"/>
<path d="M773.4 636.3L789.8 656.3M787.5 644.9L789.8 656.3L779.0 651.8"/>
<path d="M791.5 636.3L807.7 655.9M805.4 644.7L807.7 655.9L797.2 651.5"/>
<path d="M10.0 654.5L11.1 678.6M15.8 668.8L11.1 678.6L5.6 669.2"/>
<path d="M28.2 654.5L29.3 678.6M34.0 668.8L29.3 678.6L23.8 669.2"/>
<path d="M46.4 654.5L47.6 678.3M52.1 668.6L47.6 678.3L42.0 669.1"/>
<path d="M64.5 654.5L65.7 678.1M70.3 668.4L65.7 678.1L60.3 669.0"/>
<path d="M82.7 654.5L83.9 678.1M88.4 668.4L83.9 678.1L78.4 669.0"/>
<path d="M100.9 654.5L102.2 679.6M107.0 669.3L102.2 679.6L96.4 669.9"/>
<path d="M119.1 654.5L120.4 679.3M125.1 669.2L120.4 679.3L114.6 669.7"/>
<path d="M137.2 654.5L138.5 679.1M143.2 669.0L138.5 679.1L132.8 669.6"/>
<path d="M155.4 654.5L156.7 678.8M161.3 668.9L156.7 678.8L151.0 669.4"/>
<path d="M173.6 654.5L174.9 678.3M179.4 668.6L174.9 678.3L169.3 669.1"/>
<path d="M191.8 654.5L193.2 677.6M197.5 668.1L193.2 677.6L187.7 668.7"/>
<path d="M209.9 654.5L211.5 677.8M215.8 668.2L211.5 677.8L205.9 668.9"/>
<path d="M228.1 654.5L229.8 678.1M234.1 668.3L229.8 678.1L224.1 669.0"/>
<path d="M246.3 654.5L248.1 678.3M252.4 668.4L248.1 678.3L242.3 669.2"/>
<path d="M264.5 654.5L266.4 679.0M270.8 668.9L266.4 679.0L260.4 669.7"/>
<path d="M282.6 654.5L284.6 680.0M289.3 669.4L284.6 680.0L278.4 670.3"/>
<path d="M300.8 654.5L302.9 680.8M307.7 669.9L302.9 680.8L296.5 670.8"/>
<path d="M319.0 654.5L321.2 680.5M325.8 669.7L321.2 680.5L314.8 670.6"/>
<path d="M337.2 654.5L339.5 679.5M343.8 669.1L339.5 679.5L333.3 670.0"/>
<path d="M355.3 654.5L357.9 678.2M361.9 668.2L357.9 678.2L351.8 669.3"/>
<path d="M373.5 654.5L376.4 677.2M380.1 667.5L376.4 677.2L370.5 668.8"/>
<path d="M391.7 654.5L395.0 676.6M398.4 667.1L395.0 676.6L389.0 668.5"/>
<path d="M409.9 654.5L413.7 677.3M417.0 667.4L413.7 677.3L407.3 669.0"/>
<path d="M428.0 654.5L432.2 677.0M435.3 667.2L432.2 677.0L425.7 668.9"/>
<path d="M446.2 654.5L450.7 676.7M453.6 666.9L450.7 676.7L444.2 668.8"/>
<path d="M464.4 654.5L469.8 676.7M472.3 666.7L469.8 676.7L462.9 669.0"/>
<path d="M482.6 654.5L489.0 676.7M491.1 666.5L489.0 676.7L481.7 669.2"/>
<path d="M500.7 654.5L508.2 676.9M510.0 666.4L508.2 676.9L500.5 669.6"/>
<path d="M518.9 654.5L527.4 677.4M528.8 666.5L527.4 677.4L519.2 670.0"/>
<path d="M537.1 654.5L546.5 677.8M547.7 666.5L546.5 677.8L537.8 670.5"/>
<path d="M555.2 654.5L565.6 677.9M566.4 666.4L565.6 677.9L556.5 670.8"/>
<path d="M573.4 654.5L584.4 678.2M585.1 666.4L584.4 678.2L575.0 671.1"/>
<path d="M591.6 654.5L602.8 678.4M603.4 666.5L602.8 678.4L593.3 671.2"/>
<path d="M609.8 654.5L620.8 678.2M621.4 666.4L620.8 678.2L611.4 671.1"/>
<path d="M628.0 654.5L639.1 678.4M639.7 666.5L639.1 678.4L629.6 671.2"/>
<path d="M646.1 654.5L657.9 678.1M658.2 666.2L657.9 678.1L648.2 671.2"/>
<path d="M664.3 654.5L678.7 676.6M677.7 664.7L678.7 676.6L668.3 670.8"/>
<path d="M682.5 654.5L699.9 674.3M697.2 662.8L699.9 674.3L688.8 670.1"/>
<path d="M700.6 654.5L719.3 673.2M715.8 661.8L719.3 673.2L707.9 669.7"/>
<path d="M718.8 654.5L737.3 673.0M733.9 661.7L737.3 673.0L726.0 669.5"/>
<path d="M737.0 654.5L754.7 673.4M751.7 662.1L754.7 673.4L743.6 669.6"/>
<path d="M755.2 654.5L771.9 673.9M769.4 662.6L771.9 673.9L761.2 669.7"/>
<path d="M773.4 654.5L789.7 673.9M787.3 662.7L789.7 673.9L779.1 669.6"/>
<path d="M791.5 654.5L807.7 673.7M805.4 662.6L807.7 673.7L797.2 669.5"/>
<path d="M10.0 672.6L11.1 698.3M16.1 687.8L11.1 698.3L5.2 688.3"/>
<path d="M28.2 672.6L29.4 698.3M34.3 687.8L29.4 698.3L23.5 688.3"/>
<path d="M46.4 672.6L47.6 697.3M52.3 687.2L47.6 697.3L41.9 687.7"/>
<path d="M64.5 672.6L65.8 696.8M70.4 686.9L65.8 696.8L60.2 687.4"/>
<path d="M82.7 672.6L84.0 696.8M88.6 686.9L84.0 696.8L78.4 687.4"/>
<path d="M100.9 672.6L102.2 697.8M107.0 687.5L102.2 697.8L96.4 688.1"/>
<path d="M119.1 672.6L120.3 697.3M125.0 687.2L120.3 697.3L114.6 687.7"/>
<path d="M137.2 672.6L138.5 697.0M143.1 687.1L138.5 697.0L132.8 687.6"/>
<path d="M155.4 672.6L156.7 696.8M161.3 686.9L156.7 696.8L151.1 687.4"/>
<path d="M173.6 672.6L174.9 696.5M179.4 686.7L174.9 696.5L169.3 687.3"/>
<path d="M191.8 672.6L193.2 695.8M197.5 686.3L193.2 695.8L187.7 686.9"/>
<path d="M209.9 672.6L211.6 696.0M215.9 686.4L211.6 696.0L206.0 687.1"/>
<path d="M228.1 672.6L229.9 696.2M234.2 686.5L229.9 696.2L224.2 687.2"/>
<path d="M246.3 672.6L248.2 696.5M252.5 686.6L248.2 696.5L242.4 687.4"/>
<path d="M264.5 672.6L266.5 697.0M270.8 686.9L266.5 697.0L260.5 687.7"/>
<path d="M282.6 672.6L284.8 697.5M289.2 687.1L284.8 697.5L278.7 688.0"/>
<path d="M300.8 672.6L303.0 698.2M307.5 687.6L303.0 698.2L296.7 688.5"/>
<path d="M319.0 672.6L321.3 698.2M325.8 687.5L321.3 698.2L315.0 688.5"/>
<path d="M337.2 672.6L339.6 697.4M343.8 687.1L339.6 697.4L333.4 688.1"/>
<path d="M355.3 672.6L358.1 696.4M362.0 686.4L358.1 696.4L352.0 687.5"/>
<path d="M373.5 672.6L376.8 695.3M380.3 685.6L376.8 695.3L370.7 687.0"/>
<path d="M391.7 672.6L395.3 694.8M398.6 685.2L395.3 694.8L389.2 686.7"/>
<path d="M409.9 672.6L413.9 695.2M417.0 685.4L413.9 695.2L407.5 687.1"/>
<path d="M428.0 672.6L432.2 694.9M435.2 685.2L432.2 694.9L425.8 686.9"/>
<path d="M446.2 672.6L450.8 695.1M453.7 685.2L450.8 695.1L444.2 687.1"/>
<path d="M464.4 672.6L469.9 695.1M472.5 685.0L469.9 695.1L463.0 687.4"/>
<path d="M482.6 672.6L489.7 695.2M491.6 684.7L489.7 695.2L482.1 687.7"/>
<path d="M500.7 672.6L509.0 695.3M510.5 684.6L509.0 695.3L500.9 688.1"/>
<path d="M518.9 672.6L527.9 695.6M529.2 684.6L527.9 695.6L519.4 688.4"/>
<path d="M537.1 672.6L546.7 696.2M547.8 684.8L546.7 696.2L537.9 688.8"/>
<path d="M555.2 672.6L565.7 696.4M566.5 684.7L565.7 696.4L556.5 689.1"/>
<path d="M573.4 672.6L584.4 696.4M585.1 684.6L584.4 696.4L575.0 689.3"/>
<path d="M591.6 672.6L602.8 696.6M603.4 684.7L602.8 696.6L593.3 689.4"/>
<path d="M609.8 672.6L621.0 696.6M621.6 684.7L621.0 696.6L611.5 689.4"/>
<path d="M628.0 672.6L639.3 696.5M639.8 684.6L639.3 696.5L629.7 689.4"/>
<path d="M646.1 672.6L659.0 695.7M658.8 683.8L659.0 695.7L649.0 689.2"/>
<path d="M664.3 672.6L681.7 692.5M679.0 680.9L681.7 692.5L670.6 688.3"/>
<path d="M682.5 672.6L701.7 690.4M697.8 679.3L701.7 690.4L690.3 687.4"/>
<path d="M700.6 672.6L719.9 690.0M715.9 679.0L719.9 690.0L708.6 687.2"/>
<path d="M718.8 672.6L737.8 689.9M733.9 679.1L737.8 689.9L726.6 687.1"/>
<path d="M737.0 672.6L755.2 690.4M751.7 679.5L755.2 690.4L744.2 687.2"/>
<path d="M755.2 672.6L772.0 691.4M769.3 680.4L772.0 691.4L761.3 687.5"/>
<path d="M773.4 672.6L789.4 691.7M787.1 680.7L789.4 691.7L779.0 687.5"/>
<path d="M791.5 672.6L807.4 691.5M805.1 680.7L807.4 691.5L797.1 687.4"/>
<path d="M10.0 690.8L10.9 714.0M15.5 704.6L10.9 714.0L5.7 705.0"/>
<path d="M28.2 690.8L29.2 714.7M33.9 705.0L29.2 714.7L23.8 705.4"/>
<path d="M46.4 690.8L47.5 714.9M52.2 705.1L47.5 714.9L42.0 705.6"/>
<path d="M64.5 690.8L65.8 715.2M70.4 705.2L65.8 715.2L60.1 705.8"/>
<path d="M82.7 690.8L84.0 715.2M88.6 705.2L84.0 715.2L78.3 705.8"/>
<path d="M100.9 690.8L102.2 715.9M107.0 705.7L102.2 715.9L96.4 706.2"/>
<path d="M119.1 690.8L120.3 715.2M125.0 705.2L120.3 715.2L114.7 705.8"/>
<path d="M137.2 690.8L138.5 714.7M143.0 704.9L138.5 714.7L132.9 705.5"/>
<path d="M155.4 690.8L156.7 714.4M161.2 704.8L156.7 714.4L151.2 705.3"/>
<path d="M173.6 690.8L174.9 714.2M179.3 704.6L174.9 714.2L169.4 705.2"/>
<path d="M191.8 690.8L193.2 713.7M197.5 704.3L193.2 713.7L187.8 704.9"/>
<path d="M209.9 690.8L211.6 713.9M215.8 704.4L211.6 713.9L206.1 705.1"/>
<path d="M228.1 690.8L230.0 713.9M234.1 704.3L230.0 713.9L224.3 705.1"/>
<path d="M246.3 690.8L248.3 714.1M252.4 704.4L248.3 714.1L242.5 705.3"/>
<path d="M264.5 690.8L266.5 714.4M270.7 704.6L266.5 714.4L260.7 705.5"/>
<path d="M282.6 690.8L284.7 714.6M288.9 704.7L284.7 714.6L278.8 705.6"/>
<path d="M300.8 690.8L302.9 714.6M307.1 704.7L302.9 714.6L297.0 705.6"/>
<path d="M319.0 690.8L321.1 714.6M325.3 704.7L321.1 714.6L315.2 705.6"/>
<path d="M337.2 690.8L339.4 714.1M343.4 704.4L339.4 714.1L333.5 705.3"/>
<path d="M355.3 690.8L357.9 713.3M361.7 703.8L357.9 713.3L352.1 704.9"/>
<path d="M373.5 690.8L376.8 712.7M380.1 703.3L376.8 712.7L370.9 704.7"/>
<path d="M391.7 690.8L395.4 712.2M398.4 702.9L395.4 712.2L389.4 704.5"/>
<path d="M409.9 690.8L413.6 711.7M416.5 702.6L413.6 711.7L407.7 704.2"/>
<path d="M428.0 690.8L431.8 711.9M434.8 702.7L431.8 711.9L425.9 704.3"/>
<path d="M446.2 690.8L450.3 712.6M453.3 703.1L450.3 712.6L444.1 704.8"/>
<path d="M464.4 690.8L469.6 712.9M472.2 703.0L469.6 712.9L462.9 705.2"/>
<path d="M482.6 690.8L490.0 713.0M491.7 702.6L490.0 713.0L482.4 705.8"/>
<path d="M500.7 690.8L509.4 713.1M510.7 702.4L509.4 713.1L501.2 706.1"/>
<path d="M518.9 690.8L528.1 713.7M529.3 702.7L528.1 713.7L519.6 706.5"/>
<path d="M537.1 690.8L546.6 714.4M547.8 703.0L546.6 714.4L537.9 707.0"/>
<path d="M555.2 690.8L565.4 714.6M566.4 703.0L565.4 714.6L556.3 707.3"/>
<path d="M573.4 690.8L584.4 714.5M585.1 702.8L584.4 714.5L575.1 707.4"/>
<path d="M591.6 690.8L603.0 714.6M603.5 702.7L603.0 714.6L593.5 707.6"/>
<path d="M609.8 690.8L621.4 714.5M621.8 702.6L621.4 714.5L611.8 707.6"/>
<path d="M628.0 690.8L640.2 714.2M640.3 702.3L640.2 714.2L630.4 707.5"/>
<path d="M646.1 690.8L660.7 712.8M659.5 701.0L660.7 712.8L650.2 707.2"/>
<path d="M664.3 690.8L682.5 709.6M679.2 698.3L682.5 709.6L671.3 706.0"/>
<path d="M682.5 690.8L701.7 708.2M697.7 697.2L701.7 708.2L690.4 705.3"/>
<path d="M700.6 690.8L719.5 707.8M715.6 697.1L719.5 707.8L708.4 705.0"/>
<path d="M718.8 690.8L737.3 707.5M733.5 697.0L737.3 707.5L726.4 704.8"/>
<path d="M737.0 690.8L754.9 707.4M751.3 697.0L754.9 707.4L744.3 704.6"/>
<path d="M755.2 690.8L772.2 707.6M769.0 697.4L772.2 707.6L761.9 704.5"/>
<path d="M773.4 690.8L789.1 708.2M786.5 698.0L789.1 708.2L779.1 704.6"/>
<path d="M791.5 690.8L806.5 708.5M804.3 698.3L806.5 708.5L796.8 704.6"/>
<path d="M10.0 709.0L10.8 730.9M15.1 722.0L10.8 730.9L5.9 722.4"/>
<path d="M28.2 709.0L29.1 731.6M33.5 722.4L29.1 731.6L23.9 722.8"/>
<path d="M46.4 709.0L47.4 732.4M51.9 722.9L47.4 732.4L42.1 723.3"/>
<path d="M64.5 709.0L65.7 732.9M70.3 723.1L65.7 732.9L60.2 723.6"/>
<path d="M82.7 709.0L83.9 732.9M88.5 723.1L83.9 732.9L78.4 723.6"/>
<path d="M100.9 709.0L102.2 733.4M106.8 723.4L102.2 733.4L96.5 723.9"/>
<path d="M119.1 709.0L120.3 732.9M124.9 723.1L120.3 732.9L114.8 723.6"/>
<path d="M137.2 709.0L138.5 732.4M142.9 722.8L138.5 732.4L133.0 723.3"/>
<path d="M155.4 709.0L156.6 732.1M161.0 722.7L156.6 732.1L151.3 723.2"/>
<path d="M173.6 709.0L174.9 731.9M179.2 722.5L174.9 731.9L169.5 723.0"/>
<path d="M191.8 709.0L193.2 731.6M197.4 722.3L193.2 731.6L187.9 722.9"/>
<path d="M209.9 709.0L211.7 731.8M215.8 722.4L211.7 731.8L206.1 723.1"/>
<path d="M228.1 709.0L230.0 731.8M234.1 722.3L230.0 731.8L224.4 723.2"/>
<path d="M246.3 709.0L248.3 731.8M252.3 722.3L248.3 731.8L242.6 723.2"/>
<path d="M264.5 709.0L266.5 732.1M270.5 722.5L266.5 732.1L260.8 723.3"/>
<path d="M282.6 709.0L284.7 732.3M288.8 722.6L284.7 732.3L278.9 723.5"/>
<path d="M300.8 709.0L302.8 732.1M306.9 722.5L302.8 732.1L297.1 723.3"/>
<path d="M319.0 709.0L321.0 732.1M325.1 722.5L321.0 732.1L315.3 723.3"/>
<path d="M337.2 709.0L339.2 731.8M343.2 722.3L339.2 731.8L333.6 723.2"/>
<path d="M355.3 709.0L357.8 731.3M361.5 721.9L357.8 731.3L352.1 722.9"/>
<path d="M373.5 709.0L376.9 730.7M380.1 721.3L376.9 730.7L371.0 722.8"/>
<path d="M391.7 709.0L395.4 730.1M398.4 720.9L395.4 730.1L389.4 722.5"/>
<path d="M409.9 709.0L413.6 730.1M416.6 720.9L413.6 730.1L407.6 722.5"/>
<path d="M428.0 709.0L431.8 730.1M434.7 720.9L431.8 730.1L425.8 722.5"/>
<path d="M446.2 709.0L450.1 730.8M453.2 721.3L450.1 730.8L443.9 723.0"/>
<path d="M464.4 709.0L469.3 731.4M472.1 721.4L469.3 731.4L462.6 723.5"/>
<path d="M482.6 709.0L490.4 731.1M491.9 720.6L490.4 731.1L482.6 723.9"/>
<path d="M500.7 709.0L509.6 731.2M510.8 720.5L509.6 731.2L501.4 724.2"/>
<path d="M518.9 709.0L528.1 731.9M529.3 720.8L528.1 731.9L519.6 724.7"/>
<path d="M537.1 709.0L546.6 732.5M547.8 721.2L546.6 732.5L537.8 725.2"/>
<path d="M555.2 709.0L565.2 732.9M566.3 721.3L565.2 732.9L556.2 725.5"/>
<path d="M573.4 709.0L584.5 732.7M585.1 720.9L584.5 732.7L575.1 725.6"/>
<path d="M591.6 709.0L603.9 732.4M603.9 720.5L603.9 732.4L594.0 725.7"/>
<path d="M609.8 709.0L622.6 732.1M622.4 720.2L622.6 732.1L612.6 725.6"/>
<path d="M628.0 709.0L641.2 731.8M640.8 719.9L641.2 731.8L631.1 725.5"/>
<path d="M646.1 709.0L660.3 731.0M659.3 719.2L660.3 731.0L650.0 725.2"/>
<path d="M664.3 709.0L681.6 728.3M678.8 717.0L681.6 728.3L670.6 724.3"/>
<path d="M682.5 709.0L701.2 726.2M697.4 715.4L701.2 726.2L690.1 723.3"/>
<path d="M700.6 709.0L719.0 725.5M715.2 715.1L719.0 725.5L708.2 722.8"/>
<path d="M718.8 709.0L736.6 725.0M732.9 714.9L736.6 725.0L726.1 722.4"/>
<path d="M737.0 709.0L754.3 724.4M750.7 714.6L754.3 724.4L744.2 721.9"/>
<path d="M755.2 709.0L772.4 723.8M768.7 714.2L772.4 723.8L762.4 721.5"/>
<path d="M773.4 709.0L790.4 723.5M786.7 714.1L790.4 723.5L780.6 721.3"/>
<path d="M791.5 709.0L808.0 723.8M804.6 714.4L808.0 723.8L798.3 721.4"/>
<path d="M10.0 727.1L10.7 748.1M14.9 739.6L10.7 748.1L6.0 739.9"/>
<path d="M28.2 727.1L29.0 748.8M33.2 740.0L29.0 748.8L24.1 740.4"/>
<path d="M46.4 727.1L47.3 749.8M51.7 740.6L47.3 749.8L42.1 741.0"/>
<path d="M64.5 727.1L65.6 750.3M70.1 740.9L65.6 750.3L60.3 741.3"/>
<path d="M82.7 727.1L83.9 750.3M88.3 740.9L83.9 750.3L78.5 741.4"/>
<path d="M100.9 727.1L102.1 751.0M106.7 741.3L102.1 751.0L96.6 741.8"/>
<path d="M119.1 727.1L120.3 750.5M124.7 741.0L120.3 750.5L114.8 741.5"/>
<path d="M137.2 727.1L138.4 750.1M142.8 740.7L138.4 750.1L133.1 741.2"/>
<path d="M155.4 727.1L156.6 749.8M160.9 740.5L156.6 749.8L151.3 741.1"/>
<path d="M173.6 727.1L174.9 749.5M179.1 740.4L174.9 749.5L169.6 740.9"/>
<path d="M191.8 727.1L193.3 749.5M197.4 740.3L193.3 749.5L187.9 741.0"/>
<path d="M209.9 727.1L211.7 749.8M215.8 740.4L211.7 749.8L206.2 741.2"/>
<path d="M228.1 727.1L230.0 749.8M234.0 740.4L230.0 749.8L224.5 741.2"/>
<path d="M246.3 727.1L248.2 749.7M252.2 740.4L248.2 749.7L242.7 741.2"/>
<path d="M264.5 727.1L266.5 750.0M270.5 740.5L266.5 750.0L260.8 741.3"/>
<path d="M282.6 727.1L284.6 750.0M288.7 740.5L284.6 750.0L279.0 741.3"/>
<path d="M300.8 727.1L302.8 750.0M306.8 740.5L302.8 750.0L297.2 741.3"/>
<path d="M319.0 727.1L321.0 750.0M325.0 740.5L321.0 750.0L315.4 741.3"/>
<path d="M337.2 727.1L339.2 749.7M343.2 740.3L339.2 749.7L333.6 741.2"/>
<path d="M355.3 727.1L357.8 749.2M361.5 739.9L357.8 749.2L352.1 741.0"/>
<path d="M373.5 727.1L376.9 748.6M380.1 739.3L376.9 748.6L371.0 740.8"/>
<path d="M391.7 727.1L395.3 748.0M398.3 739.0L395.3 748.0L389.5 740.5"/>
<path d="M409.9 727.1L413.7 749.0M416.8 739.5L413.7 749.0L407.6 741.1"/>
<path d="M428.0 727.1L431.9 749.2M435.0 739.6L431.9 749.2L425.7 741.3"/>
<path d="M446.2 727.1L450.2 749.7M453.4 739.9L450.2 749.7L443.8 741.6"/>
<path d="M464.4 727.1L469.3 750.1M472.2 739.9L469.3 750.1L462.5 742.0"/>
<path d="M482.6 727.1L490.7 749.4M492.1 738.8L490.7 749.4L482.7 742.3"/>
<path d="M500.7 727.1L509.8 749.6M510.9 738.8L509.8 749.6L501.4 742.6"/>
<path d="M518.9 727.1L528.2 750.3M529.4 739.1L528.2 750.3L519.6 743.0"/>
<path d="M537.1 727.1L546.7 750.9M547.9 739.5L546.7 750.9L537.8 743.5"/>
<path d="M555.2 727.1L565.2 751.3M566.4 739.6L565.2 751.3L556.2 743.8"/>
<path d="M573.4 727.1L584.8 751.0M585.3 739.1L584.8 751.0L575.3 743.9"/>
<path d="M591.6 727.1L604.5 750.2M604.2 738.3L604.5 750.2L594.5 743.8"/>
<path d="M609.8 727.1L623.0 750.0M622.6 738.2L623.0 750.0L612.9 743.7"/>
<path d="M628.0 727.1L641.0 749.8M640.6 738.0L641.0 749.8L631.1 743.6"/>
<path d="M646.1 727.1L659.3 749.5M658.8 737.8L659.3 749.5L649.3 743.4"/>
<path d="M664.3 727.1L679.0 747.9M677.6 736.5L679.0 747.9L668.8 742.7"/>
<path d="M682.5 727.1L700.0 744.9M696.8 734.2L700.0 744.9L689.3 741.5"/>
<path d="M700.6 727.1L718.3 743.3M714.7 733.1L718.3 743.3L707.9 740.6"/>
<path d="M718.8 727.1L736.2 742.1M732.5 732.5L736.2 742.1L726.1 739.8"/>
<path d="M737.0 727.1L754.0 741.4M750.3 732.1L754.0 741.4L744.3 739.3"/>
<path d="M755.2 727.1L772.0 741.3M768.3 732.1L772.0 741.3L762.3 739.2"/>
<path d="M773.4 727.1L790.0 741.1M786.3 732.0L790.0 741.1L780.4 739.1"/>
<path d="M791.5 727.1L808.1 741.1M804.5 732.1L808.1 741.1L798.6 739.1"/>
<path d="M10.0 745.3L10.7 765.8M14.7 757.5L10.7 765.8L6.1 757.8"/>
<path d="M28.2 745.3L28.9 766.5M33.1 757.9L28.9 766.5L24.1 758.2"/>
<path d="M46.4 745.3L47.1 767.0M51.4 758.2L47.1 767.0L42.2 758.6"/>
<path d="M64.5 745.3L65.4 767.5M69.8 758.5L65.4 767.5L60.4 758.9"/>
<path d="M82.7 745.3L83.8 767.5M88.0 758.5L83.8 767.5L78.7 758.9"/>
<path d="M100.9 745.3L102.0 768.2M106.4 758.9L102.0 768.2L96.7 759.4"/>
<path d="M119.1 745.3L120.2 768.0M124.5 758.7L120.2 768.0L115.0 759.2"/>
<path d="M137.2 745.3L138.4 767.7M142.7 758.6L138.4 767.7L133.2 759.1"/>
<path d="M155.4 745.3L156.6 767.5M160.8 758.4L156.6 767.5L151.4 758.9"/>
<path d="M173.6 745.3L174.9 767.2M179.0 758.2L174.9 767.2L169.7 758.8"/>
<path d="M191.8 745.3L193.3 767.5M197.4 758.3L193.3 767.5L188.0 759.0"/>
<path d="M209.9 745.3L211.7 767.7M215.7 758.4L211.7 767.7L206.3 759.2"/>
<path d="M228.1 745.3L230.0 767.7M234.0 758.4L230.0 767.7L224.5 759.2"/>
<path d="M246.3 745.3L248.2 767.7M252.2 758.4L248.2 767.7L242.7 759.2"/>
<path d="M264.5 745.3L266.4 767.9M270.4 758.5L266.4 767.9L260.9 759.4"/>
<path d="M282.6 745.3L284.6 767.9M288.6 758.5L284.6 767.9L279.0 759.4"/>
<path d="M300.8 745.3L302.8 767.9M306.8 758.5L302.8 767.9L297.2 759.4"/>
<path d="M319.0 745.3L321.0 767.9M324.9 758.5L321.0 767.9L315.4 759.4"/>
<path d="M337.2 745.3L339.2 767.7M343.1 758.4L339.2 767.7L333.7 759.2"/>
<path d="M355.3 745.3L357.8 767.1M361.4 757.9L357.8 767.1L352.2 759.0"/>
<path d="M373.5 745.3L376.8 766.5M380.0 757.4L376.8 766.5L371.0 758.8"/>
<path d="M391.7 745.3L395.3 766.0M398.2 757.0L395.3 766.0L389.5 758.5"/>
<path d="M409.9 745.3L413.8 767.4M416.9 757.8L413.8 767.4L407.5 759.5"/>
<path d="M428.0 745.3L432.0 767.7M435.1 758.0L432.0 767.7L425.7 759.6"/>
<path d="M446.2 745.3L450.3 768.1M453.5 758.2L450.3 768.1L443.8 759.9"/>
<path d="M464.4 745.3L469.5 768.4M472.3 758.2L469.5 768.4L462.6 760.3"/>
<path d="M482.6 745.3L490.7 768.1M492.3 757.3L490.7 768.1L482.6 760.8"/>
<path d="M500.7 745.3L509.8 768.0M511.0 757.1L509.8 768.0L501.4 760.9"/>
<path d="M518.9 745.3L528.3 768.7M529.5 757.4L528.3 768.7L519.6 761.4"/>
<path d="M537.1 745.3L546.8 769.3M548.0 757.7L546.8 769.3L537.9 761.9"/>
<path d="M555.2 745.3L565.5 769.7M566.5 757.8L565.5 769.7L556.3 762.2"/>
<path d="M573.4 745.3L585.2 769.0M585.5 757.1L585.2 769.0L575.5 762.1"/>
<path d="M591.6 745.3L604.6 768.3M604.3 756.4L604.6 768.3L594.6 761.9"/>
<path d="M609.8 745.3L623.0 768.2M622.6 756.3L623.0 768.2L612.9 761.9"/>
<path d="M628.0 745.3L641.0 768.0M640.6 756.2L641.0 768.0L631.0 761.7"/>
<path d="M646.1 745.3L659.0 767.5M658.6 756.0L659.0 767.5L649.2 761.4"/>
<path d="M664.3 745.3L677.8 766.6M676.9 755.3L677.8 766.6L668.0 761.0"/>
<path d="M682.5 745.3L698.8 763.5M696.1 752.8L698.8 763.5L688.5 759.7"/>
<path d="M700.6 745.3L718.3 760.7M714.6 750.8L718.3 760.7L708.1 758.3"/>
<path d="M718.8 745.3L736.4 759.3M732.4 750.0L736.4 759.3L726.5 757.4"/>
<path d="M737.0 745.3L754.3 758.9M750.3 749.8L754.3 758.9L744.5 757.1"/>
<path d="M755.2 745.3L771.8 758.9M768.1 750.0L771.8 758.9L762.3 757.0"/>
<path d="M773.4 745.3L789.8 759.1M786.2 750.2L789.8 759.1L780.3 757.1"/>
<path d="M791.5 745.3L807.9 759.1M804.3 750.2L807.9 759.1L798.5 757.1"/>
<path d="M10.0 763.5L10.7 783.4M14.6 775.4L10.7 783.4L6.2 775.7"/>
<path d="M28.2 763.5L28.9 784.2M33.0 775.8L28.9 784.2L24.2 776.1"/>
<path d="M46.4 763.5L47.1 784.7M51.3 776.1L47.1 784.7L42.3 776.4"/>
<path d="M64.5 763.5L65.3 784.9M69.5 776.2L65.3 784.9L60.5 776.6"/>
<path d="M82.7 763.5L83.6 784.9M87.8 776.2L83.6 784.9L78.7 776.6"/>
<path d="M100.9 763.5L101.9 785.4M106.1 776.5L101.9 785.4L96.9 776.9"/>
<path d="M119.1 763.5L120.2 785.4M124.3 776.5L120.2 785.4L115.1 776.9"/>
<path d="M137.2 763.5L138.4 785.2M142.5 776.3L138.4 785.2L133.3 776.8"/>
<path d="M155.4 763.5L156.6 785.2M160.7 776.3L156.6 785.2L151.6 776.8"/>
<path d="M173.6 763.5L174.9 784.9M178.9 776.1L174.9 784.9L169.9 776.7"/>
<path d="M191.8 763.5L193.3 785.4M197.3 776.4L193.3 785.4L188.1 777.0"/>
<path d="M209.9 763.5L211.7 785.4M215.6 776.3L211.7 785.4L206.4 777.1"/>
<path d="M228.1 763.5L230.0 785.4M233.9 776.3L230.0 785.4L224.6 777.1"/>
<path d="M246.3 763.5L248.2 785.6M252.1 776.4L248.2 785.6L242.8 777.2"/>
<path d="M264.5 763.5L266.4 785.6M270.3 776.4L266.4 785.6L261.0 777.2"/>
<path d="M282.6 763.5L284.6 785.8M288.5 776.6L284.6 785.8L279.1 777.4"/>
<path d="M300.8 763.5L302.8 785.8M306.7 776.6L302.8 785.8L297.3 777.4"/>
<path d="M319.0 763.5L321.0 785.8M324.9 776.5L321.0 785.8L315.5 777.4"/>
<path d="M337.2 763.5L339.3 785.6M343.1 776.4L339.3 785.6L333.8 777.3"/>
<path d="M355.3 763.5L357.9 785.0M361.4 775.9L357.9 785.0L352.3 777.0"/>
<path d="M373.5 763.5L376.8 784.7M380.0 775.6L376.8 784.7L371.0 777.0"/>
<path d="M391.7 763.5L395.3 784.1M398.2 775.2L395.3 784.1L389.5 776.7"/>
<path d="M409.9 763.5L413.8 785.8M417.0 776.1L413.8 785.8L407.5 777.8"/>
<path d="M428.0 763.5L432.1 786.1M435.2 776.2L432.1 786.1L425.7 778.0"/>
<path d="M446.2 763.5L450.6 786.5M453.7 776.4L450.6 786.5L444.0 778.3"/>
<path d="M464.4 763.5L469.9 786.8M472.6 776.4L469.9 786.8L462.8 778.7"/>
<path d="M482.6 763.5L490.3 786.4M492.1 775.7L490.3 786.4L482.4 778.9"/>
<path d="M500.7 763.5L509.7 786.5M511.0 775.5L509.7 786.5L501.3 779.2"/>
<path d="M518.9 763.5L528.4 787.1M529.6 775.7L528.4 787.1L519.6 779.7"/>
<path d="M537.1 763.5L546.9 787.5M548.0 775.9L546.9 787.5L537.9 780.0"/>
<path d="M555.2 763.5L565.8 787.7M566.7 775.9L565.8 787.7L556.5 780.3"/>
<path d="M573.4 763.5L585.4 787.0M585.6 775.1L585.4 787.0L575.7 780.2"/>
<path d="M591.6 763.5L604.6 786.5M604.3 774.6L604.6 786.5L594.6 780.1"/>
<path d="M609.8 763.5L622.9 786.2M622.4 774.4L622.9 786.2L612.9 779.9"/>
<path d="M628.0 763.5L640.9 785.9M640.5 774.3L640.9 785.9L631.0 779.8"/>
<path d="M646.1 763.5L658.9 785.5M658.5 774.0L658.9 785.5L649.2 779.4"/>
<path d="M664.3 763.5L677.7 784.2M676.7 773.2L677.7 784.2L668.0 778.8"/>
<path d="M682.5 763.5L698.6 781.1M695.9 770.7L698.6 781.1L688.5 777.5"/>
<path d="M700.6 763.5L718.3 778.1M714.4 768.6L718.3 778.1L708.2 776.1"/>
<path d="M718.8 763.5L736.1 777.0M732.1 768.0L736.1 777.0L726.4 775.3"/>
<path d="M737.0 763.5L753.9 776.7M750.0 767.9L753.9 776.7L744.4 775.0"/>
<path d="M755.2 763.5L771.8 776.6M768.0 767.9L771.8 776.6L762.5 774.9"/>
<path d="M773.4 763.5L789.8 776.9M786.1 768.1L789.8 776.9L780.4 775.1"/>
<path d="M791.5 763.5L807.7 777.2M804.2 768.3L807.7 777.2L798.4 775.2"/>
</g>
<g fill="#808080" stroke="#808080" stroke-width="0.7" font-weight="bold" font-size="25" shape-rendering="auto">
<text x="6.2" y="50.2" textLength="381.3" lengthAdjust="spacingAndGlyphs">modelo GEFS-WAVE (NCEP)</text>
<text x="6.2" y="73" textLength="492.4" lengthAdjust="spacingAndGlyphs">forecast date: 2025-08-10 00:00:00</text>
<text x="41.9" y="95.7" textLength="446.5" lengthAdjust="spacingAndGlyphs">valid date: 2025-08-21 06:00:00</text>
</g>
<g stroke="#888" stroke-width="1">
<line x1="9.5" y1="27" x2="9.5" y2="772"/>
<line x1="81.5" y1="27" x2="81.5" y2="772"/>
<line x1="154.5" y1="27" x2="154.5" y2="772"/>
<line x1="227.5" y1="27" x2="227.5" y2="772"/>
<line x1="299.5" y1="27" x2="299.5" y2="772"/>
<line x1="372.5" y1="27" x2="372.5" y2="772"/>
<line x1="445.5" y1="27" x2="445.5" y2="772"/>
<line x1="517.5" y1="27" x2="517.5" y2="772"/>
<line x1="590.5" y1="27" x2="590.5" y2="772"/>
<line x1="663.5" y1="27" x2="663.5" y2="772"/>
<line x1="736.5" y1="27" x2="736.5" y2="772"/>
<line x1="0" y1="36.5" x2="800" y2="36.5"/>
<line x1="0" y1="109.5" x2="800" y2="109.5"/>
<line x1="0" y1="181.5" x2="800" y2="181.5"/>
<line x1="0" y1="254.5" x2="800" y2="254.5"/>
<line x1="0" y1="327.5" x2="800" y2="327.5"/>
<line x1="0" y1="400.5" x2="800" y2="400.5"/>
<line x1="0" y1="472.5" x2="800" y2="472.5"/>
<line x1="0" y1="545.5" x2="800" y2="545.5"/>
<line x1="0" y1="618.5" x2="800" y2="618.5"/>
<line x1="0" y1="690.5" x2="800" y2="690.5"/>
<line x1="0" y1="763.5" x2="800" y2="763.5"/>
</g>
<g stroke="#000" stroke-width="1" fill="none" shape-rendering="crispEdges">
<polyline points="240.0,29.5 235.0,30.8 233.8,32.0 235.0,42.0 233.8,52.0 230.0,57.0 227.5,62.0 223.8,68.2 222.5,70.8 226.2,74.5 226.2,82.0 225.0,92.0 222.5,94.5 217.5,95.8 212.5,99.5 215.0,102.0 216.2,107.0 216.2,114.5 213.8,120.8 216.2,124.5 220.0,129.5 216.2,134.5 212.5,140.8 211.2,144.5"/>
<polyline points="211.2,144.5 213.8,162.0 215.0,170.8 217.5,177.0 215.0,180.8 211.2,187.0 203.8,188.2 197.5,188.2 195.0,189.5 197.5,192.0 196.2,199.5 197.5,204.5 192.5,207.0 190.0,212.0 188.8,219.5 187.5,227.0 188.8,237.0 193.8,244.5 195.0,252.0 198.8,258.2 198.8,264.5 196.2,270.8 192.5,274.5 185.0,275.0 191.2,278.2 193.8,280.8 190.0,285.8 192.5,289.5 196.2,294.5 202.5,299.5 212.5,304.5 225.0,312.0 235.0,315.8 247.5,320.8 260.0,327.0 270.0,334.5 280.0,344.5 290.0,357.0 282.8,368.0 276.2,375.6 272.5,385.0 271.6,392.5 274.4,401.9 281.0,411.2 289.4,418.8 298.8,422.5 304.4,427.2 310.0,424.4 316.6,422.5 319.4,424.4 321.2,433.8 323.1,445.0 323.8,465.0 320.0,471.2 310.0,482.5 300.0,495.0 290.0,507.5 280.0,517.5 270.0,527.5 262.5,535.0 261.2,545.0 260.0,552.5 255.0,556.2 245.0,561.2 235.0,567.5 225.0,571.2 217.5,575.0 200.0,581.0 187.5,585.0 175.0,587.5 162.5,591.0 150.0,595.0 130.0,599.0 110.0,602.5 97.5,606.0 81.0,607.5 32.0,614.0 10.0,616.0 0.0,617.5"/>
<polyline points="212.5,142.0 216.2,157.0 217.5,169.5 222.5,173.2 223.8,178.2 221.2,183.2 217.5,188.2 212.5,190.0 202.5,189.5 200.0,192.0 201.2,204.5 197.5,212.0 196.2,217.0 197.5,222.0 196.2,227.0 195.0,237.0 196.2,249.5 202.5,254.5 210.0,259.5 218.8,269.5 225.0,274.5 233.8,280.8 237.5,288.2 245.0,288.2 255.0,285.8 262.5,286.5 272.5,285.8 290.0,287.0 296.2,292.0 300.0,297.0 310.0,302.0 320.0,304.5 327.5,308.2 340.0,310.8 345.0,312.0 343.8,315.8 348.8,319.5 357.5,318.2 360.0,321.0 372.5,316.0 385.0,311.0 400.0,309.5 420.0,313.0 425.0,317.0 435.0,318.0 445.0,321.0 447.5,324.5 470.0,317.0 490.0,307.0 494.0,299.5 496.0,296.0 497.5,302.0 502.5,303.0 510.0,298.0 520.0,289.5 535.0,282.0 539.0,268.0 546.0,263.0 553.0,256.0 555.0,246.0 558.0,240.0 562.0,236.0 574.0,226.0 586.0,216.0 598.0,208.0 608.0,200.0 618.0,190.0 624.0,178.0 629.0,168.0 632.0,158.0 636.0,146.0 642.0,134.0 648.8,127.0 657.5,119.5 665.0,112.0 672.5,104.5 681.2,97.0 692.5,89.5 702.5,83.2 715.0,75.8 727.5,67.0 740.0,57.0 764.0,28.0"/>
<polyline points="374.0,41.5 382.5,40.0 388.0,37.4 390.8,31.9 396.0,30.5 399.0,27.8"/>
<polyline points="405.0,27.0 410.0,29.5 418.8,38.2 421.2,44.5 426.2,52.0 432.5,55.8 438.8,57.0 442.5,55.8 446.2,59.5 452.5,64.5 458.8,67.0 467.5,68.2 475.0,72.0 482.5,77.0 488.8,87.0 495.0,92.0 501.2,97.0 507.5,102.0 511.2,100.2 516.2,102.0 520.0,104.5 525.0,105.8 528.8,110.8 535.0,113.2 537.5,119.5 542.5,127.0 543.8,134.5 548.8,140.8 555.0,144.5 560.0,149.0 568.0,152.0 575.0,154.0 580.0,158.0 583.0,162.0 576.0,167.0 570.0,172.0 568.0,178.0 560.0,182.0 555.0,186.0 552.0,192.0 552.0,200.0 552.0,212.0 551.0,224.0 552.0,230.0 556.0,232.0 558.0,234.0 562.0,236.0"/>
<polyline points="736.9,27.0 736.2,38.2 737.5,45.0 735.0,42.0 731.2,41.4 726.2,42.0 724.4,44.5 723.8,49.5 726.2,52.0 725.0,57.0 722.5,64.5 720.0,69.5 713.8,73.2 707.5,74.5 705.0,72.0 703.1,74.5 702.5,77.0 703.8,80.8 701.2,79.5 695.0,85.8 687.5,92.0 680.0,94.5 675.0,95.1 671.2,98.9 667.5,99.5 662.5,97.0 658.1,95.1 658.8,98.9 661.9,100.8 663.1,103.2 661.2,107.0 658.0,110.0 655.0,116.0"/>
<polyline points="700.0,27.0 701.2,29.5 700.6,34.5 701.2,38.2 703.1,42.0 698.8,43.9 692.5,45.8 690.0,47.6 689.4,53.2 686.2,53.9 677.5,56.4 672.5,57.0 668.8,58.2 666.9,60.1 666.2,63.2 663.8,65.1"/>
<polyline points="657.0,79.0 658.0,76.5 661.0,76.5 663.0,78.5 661.0,80.5 658.0,80.5 657.0,79.0"/>
<polyline points="655.0,83.2 650.0,85.8 647.5,92.0 645.6,98.2 646.2,100.8 651.2,102.0 652.5,104.5 647.5,107.0 645.0,113.2 647.5,114.5 652.5,113.9 655.0,112.0 657.5,113.2 656.2,117.0 658.8,119.5"/>
</g>
<g stroke="#000" stroke-width="1">
<line x1="0" y1="27.5" x2="800" y2="27.5"/>
<line x1="0.5" y1="27" x2="0.5" y2="772"/>
<line x1="1.5" y1="27" x2="1.5" y2="31.5"/>
<line x1="1.5" y1="772" x2="1.5" y2="767.5"/>
<line x1="9.5" y1="27" x2="9.5" y2="45.0"/>
<line x1="9.5" y1="772" x2="9.5" y2="754.0"/>
<line x1="16.5" y1="27" x2="16.5" y2="31.5"/>
<line x1="16.5" y1="772" x2="16.5" y2="767.5"/>
<line x1="23.5" y1="27" x2="23.5" y2="31.5"/>
<line x1="23.5" y1="772" x2="23.5" y2="767.5"/>
<line x1="30.5" y1="27" x2="30.5" y2="31.5"/>
<line x1="30.5" y1="772" x2="30.5" y2="767.5"/>
<line x1="38.5" y1="27" x2="38.5" y2="31.5"/>
<line x1="38.5" y1="772" x2="38.5" y2="767.5"/>
<line x1="45.5" y1="27" x2="45.5" y2="36.0"/>
<line x1="45.5" y1="772" x2="45.5" y2="763.0"/>
<line x1="52.5" y1="27" x2="52.5" y2="31.5"/>
<line x1="52.5" y1="772" x2="52.5" y2="767.5"/>
<line x1="59.5" y1="27" x2="59.5" y2="31.5"/>
<line x1="59.5" y1="772" x2="59.5" y2="767.5"/>
<line x1="67.5" y1="27" x2="67.5" y2="31.5"/>
<line x1="67.5" y1="772" x2="67.5" y2="767.5"/>
<line x1="74.5" y1="27" x2="74.5" y2="31.5"/>
<line x1="74.5" y1="772" x2="74.5" y2="767.5"/>
<line x1="81.5" y1="27" x2="81.5" y2="45.0"/>
<line x1="81.5" y1="772" x2="81.5" y2="754.0"/>
<line x1="88.5" y1="27" x2="88.5" y2="31.5"/>
<line x1="88.5" y1="772" x2="88.5" y2="767.5"/>
<line x1="96.5" y1="27" x2="96.5" y2="31.5"/>
<line x1="96.5" y1="772" x2="96.5" y2="767.5"/>
<line x1="103.5" y1="27" x2="103.5" y2="31.5"/>
<line x1="103.5" y1="772" x2="103.5" y2="767.5"/>
<line x1="110.5" y1="27" x2="110.5" y2="31.5"/>
<line x1="110.5" y1="772" x2="110.5" y2="767.5"/>
<line x1="118.5" y1="27" x2="118.5" y2="36.0"/>
<line x1="118.5" y1="772" x2="118.5" y2="763.0"/>
<line x1="125.5" y1="27" x2="125.5" y2="31.5"/>
<line x1="125.5" y1="772" x2="125.5" y2="767.5"/>
<line x1="132.5" y1="27" x2="132.5" y2="31.5"/>
<line x1="132.5" y1="772" x2="132.5" y2="767.5"/>
<line x1="139.5" y1="27" x2="139.5" y2="31.5"/>
<line x1="139.5" y1="772" x2="139.5" y2="767.5"/>
<line x1="147.5" y1="27" x2="147.5" y2="31.5"/>
<line x1="147.5" y1="772" x2="147.5" y2="767.5"/>
<line x1="154.5" y1="27" x2="154.5" y2="45.0"/>
<line x1="154.5" y1="772" x2="154.5" y2="754.0"/>
<line x1="161.5" y1="27" x2="161.5" y2="31.5"/>
<line x1="161.5" y1="772" x2="161.5" y2="767.5"/>
<line x1="168.5" y1="27" x2="168.5" y2="31.5"/>
<line x1="168.5" y1="772" x2="168.5" y2="767.5"/>
<line x1="176.5" y1="27" x2="176.5" y2="31.5"/>
<line x1="176.5" y1="772" x2="176.5" y2="767.5"/>
<line x1="183.5" y1="27" x2="183.5" y2="31.5"/>
<line x1="183.5" y1="772" x2="183.5" y2="767.5"/>
<line x1="190.5" y1="27" x2="190.5" y2="36.0"/>
<line x1="190.5" y1="772" x2="190.5" y2="763.0"/>
<line x1="198.5" y1="27" x2="198.5" y2="31.5"/>
<line x1="198.5" y1="772" x2="198.5" y2="767.5"/>
<line x1="205.5" y1="27" x2="205.5" y2="31.5"/>
<line x1="205.5" y1="772" x2="205.5" y2="767.5"/>
<line x1="212.5" y1="27" x2="212.5" y2="31.5"/>
<line x1="212.5" y1="772" x2="212.5" y2="767.5"/>
<line x1="219.5" y1="27" x2="219.5" y2="31.5"/>
<line x1="219.5" y1="772" x2="219.5" y2="767.5"/>
<line x1="227.5" y1="27" x2="227.5" y2="45.0"/>
<line x1="227.5" y1="772" x2="227.5" y2="754.0"/>
<line x1="234.5" y1="27" x2="234.5" y2="31.5"/>
<line x1="234.5" y1="772" x2="234.5" y2="767.5"/>
<line x1="241.5" y1="27" x2="241.5" y2="31.5"/>
<line x1="241.5" y1="772" x2="241.5" y2="767.5"/>
<line x1="248.5" y1="27" x2="248.5" y2="31.5"/>
<line x1="248.5" y1="772" x2="248.5" y2="767.5"/>
<line x1="256.5" y1="27" x2="256.5" y2="31.5"/>
<line x1="256.5" y1="772" x2="256.5" y2="767.5"/>
<line x1="263.5" y1="27" x2="263.5" y2="36.0"/>
<line x1="263.5" y1="772" x2="263.5" y2="763.0"/>
<line x1="270.5" y1="27" x2="270.5" y2="31.5"/>
<line x1="270.5" y1="772" x2="270.5" y2="767.5"/>
<line x1="277.5" y1="27" x2="277.5" y2="31.5"/>
<line x1="277.5" y1="772" x2="277.5" y2="767.5"/>
<line x1="285.5" y1="27" x2="285.5" y2="31.5"/>
<line x1="285.5" y1="772" x2="285.5" y2="767.5"/>
<line x1="292.5" y1="27" x2="292.5" y2="31.5"/>
<line x1="292.5" y1="772" x2="292.5" y2="767.5"/>
<line x1="299.5" y1="27" x2="299.5" y2="45.0"/>
<line x1="299.5" y1="772" x2="299.5" y2="754.0"/>
<line x1="307.5" y1="27" x2="307.5" y2="31.5"/>
<line x1="307.5" y1="772" x2="307.5" y2="767.5"/>
<line x1="314.5" y1="27" x2="314.5" y2="31.5"/>
<line x1="314.5" y1="772" x2="314.5" y2="767.5"/>
<line x1="321.5" y1="27" x2="321.5" y2="31.5"/>
<line x1="321.5" y1="772" x2="321.5" y2="767.5"/>
<line x1="328.5" y1="27" x2="328.5" y2="31.5"/>
<line x1="328.5" y1="772" x2="328.5" y2="767.5"/>
<line x1="336.5" y1="27" x2="336.5" y2="36.0"/>
<line x1="336.5" y1="772" x2="336.5" y2="763.0"/>
<line x1="343.5" y1="27" x2="343.5" y2="31.5"/>
<line x1="343.5" y1="772" x2="343.5" y2="767.5"/>
<line x1="350.5" y1="27" x2="350.5" y2="31.5"/>
<line x1="350.5" y1="772" x2="350.5" y2="767.5"/>
<line x1="357.5" y1="27" x2="357.5" y2="31.5"/>
<line x1="357.5" y1="772" x2="357.5" y2="767.5"/>
<line x1="365.5" y1="27" x2="365.5" y2="31.5"/>
<line x1="365.5" y1="772" x2="365.5" y2="767.5"/>
<line x1="372.5" y1="27" x2="372.5" y2="45.0"/>
<line x1="372.5" y1="772" x2="372.5" y2="754.0"/>
<line x1="379.5" y1="27" x2="379.5" y2="31.5"/>
<line x1="379.5" y1="772" x2="379.5" y2="767.5"/>
<line x1="387.5" y1="27" x2="387.5" y2="31.5"/>
<line x1="387.5" y1="772" x2="387.5" y2="767.5"/>
<line x1="394.5" y1="27" x2="394.5" y2="31.5"/>
<line x1="394.5" y1="772" x2="394.5" y2="767.5"/>
<line x1="401.5" y1="27" x2="401.5" y2="31.5"/>
<line x1="401.5" y1="772" x2="401.5" y2="767.5"/>
<line x1="408.5" y1="27" x2="408.5" y2="36.0"/>
<line x1="408.5" y1="772" x2="408.5" y2="763.0"/>
<line x1="416.5" y1="27" x2="416.5" y2="31.5"/>
<line x1="416.5" y1="772" x2="416.5" y2="767.5"/>
<line x1="423.5" y1="27" x2="423.5" y2="31.5"/>
<line x1="423.5" y1="772" x2="423.5" y2="767.5"/>
<line x1="430.5" y1="27" x2="430.5" y2="31.5"/>
<line x1="430.5" y1="772" x2="430.5" y2="767.5"/>
<line x1="437.5" y1="27" x2="437.5" y2="31.5"/>
<line x1="437.5" y1="772" x2="437.5" y2="767.5"/>
<line x1="445.5" y1="27" x2="445.5" y2="45.0"/>
<line x1="445.5" y1="772" x2="445.5" y2="754.0"/>
<line x1="452.5" y1="27" x2="452.5" y2="31.5"/>
<line x1="452.5" y1="772" x2="452.5" y2="767.5"/>
<line x1="459.5" y1="27" x2="459.5" y2="31.5"/>
<line x1="459.5" y1="772" x2="459.5" y2="767.5"/>
<line x1="467.5" y1="27" x2="467.5" y2="31.5"/>
<line x1="467.5" y1="772" x2="467.5" y2="767.5"/>
<line x1="474.5" y1="27" x2="474.5" y2="31.5"/>
<line x1="474.5" y1="772" x2="474.5" y2="767.5"/>
<line x1="481.5" y1="27" x2="481.5" y2="36.0"/>
<line x1="481.5" y1="772" x2="481.5" y2="763.0"/>
<line x1="488.5" y1="27" x2="488.5" y2="31.5"/>
<line x1="488.5" y1="772" x2="488.5" y2="767.5"/>
<line x1="496.5" y1="27" x2="496.5" y2="31.5"/>
<line x1="496.5" y1="772" x2="496.5" y2="767.5"/>
<line x1="503.5" y1="27" x2="503.5" y2="31.5"/>
<line x1="503.5" y1="772" x2="503.5" y2="767.5"/>
<line x1="510.5" y1="27" x2="510.5" y2="31.5"/>
<line x1="510.5" y1="772" x2="510.5" y2="767.5"/>
<line x1="517.5" y1="27" x2="517.5" y2="45.0"/>
<line x1="517.5" y1="772" x2="517.5" y2="754.0"/>
<line x1="525.5" y1="27" x2="525.5" y2="31.5"/>
<line x1="525.5" y1="772" x2="525.5" y2="767.5"/>
<line x1="532.5" y1="27" x2="532.5" y2="31.5"/>
<line x1="532.5" y1="772" x2="532.5" y2="767.5"/>
<line x1="539.5" y1="27" x2="539.5" y2="31.5"/>
<line x1="539.5" y1="772" x2="539.5" y2="767.5"/>
<line x1="546.5" y1="27" x2="546.5" y2="31.5"/>
<line x1="546.5" y1="772" x2="546.5" y2="767.5"/>
<line x1="554.5" y1="27" x2="554.5" y2="36.0"/>
<line x1="554.5" y1="772" x2="554.5" y2="763.0"/>
<line x1="561.5" y1="27" x2="561.5" y2="31.5"/>
<line x1="561.5" y1="772" x2="561.5" y2="767.5"/>
<line x1="568.5" y1="27" x2="568.5" y2="31.5"/>
<line x1="568.5" y1="772" x2="568.5" y2="767.5"/>
<line x1="576.5" y1="27" x2="576.5" y2="31.5"/>
<line x1="576.5" y1="772" x2="576.5" y2="767.5"/>
<line x1="583.5" y1="27" x2="583.5" y2="31.5"/>
<line x1="583.5" y1="772" x2="583.5" y2="767.5"/>
<line x1="590.5" y1="27" x2="590.5" y2="45.0"/>
<line x1="590.5" y1="772" x2="590.5" y2="754.0"/>
<line x1="597.5" y1="27" x2="597.5" y2="31.5"/>
<line x1="597.5" y1="772" x2="597.5" y2="767.5"/>
<line x1="605.5" y1="27" x2="605.5" y2="31.5"/>
<line x1="605.5" y1="772" x2="605.5" y2="767.5"/>
<line x1="612.5" y1="27" x2="612.5" y2="31.5"/>
<line x1="612.5" y1="772" x2="612.5" y2="767.5"/>
<line x1="619.5" y1="27" x2="619.5" y2="31.5"/>
<line x1="619.5" y1="772" x2="619.5" y2="767.5"/>
<line x1="626.5" y1="27" x2="626.5" y2="36.0"/>
<line x1="626.5" y1="772" x2="626.5" y2="763.0"/>
<line x1="634.5" y1="27" x2="634.5" y2="31.5"/>
<line x1="634.5" y1="772" x2="634.5" y2="767.5"/>
<line x1="641.5" y1="27" x2="641.5" y2="31.5"/>
<line x1="641.5" y1="772" x2="641.5" y2="767.5"/>
<line x1="648.5" y1="27" x2="648.5" y2="31.5"/>
<line x1="648.5" y1="772" x2="648.5" y2="767.5"/>
<line x1="656.5" y1="27" x2="656.5" y2="31.5"/>
<line x1="656.5" y1="772" x2="656.5" y2="767.5"/>
<line x1="663.5" y1="27" x2="663.5" y2="45.0"/>
<line x1="663.5" y1="772" x2="663.5" y2="754.0"/>
<line x1="670.5" y1="27" x2="670.5" y2="31.5"/>
<line x1="670.5" y1="772" x2="670.5" y2="767.5"/>
<line x1="677.5" y1="27" x2="677.5" y2="31.5"/>
<line x1="677.5" y1="772" x2="677.5" y2="767.5"/>
<line x1="685.5" y1="27" x2="685.5" y2="31.5"/>
<line x1="685.5" y1="772" x2="685.5" y2="767.5"/>
<line x1="692.5" y1="27" x2="692.5" y2="31.5"/>
<line x1="692.5" y1="772" x2="692.5" y2="767.5"/>
<line x1="699.5" y1="27" x2="699.5" y2="36.0"/>
<line x1="699.5" y1="772" x2="699.5" y2="763.0"/>
<line x1="706.5" y1="27" x2="706.5" y2="31.5"/>
<line x1="706.5" y1="772" x2="706.5" y2="767.5"/>
<line x1="714.5" y1="27" x2="714.5" y2="31.5"/>
<line x1="714.5" y1="772" x2="714.5" y2="767.5"/>
<line x1="721.5" y1="27" x2="721.5" y2="31.5"/>
<line x1="721.5" y1="772" x2="721.5" y2="767.5"/>
<line x1="728.5" y1="27" x2="728.5" y2="31.5"/>
<line x1="728.5" y1="772" x2="728.5" y2="767.5"/>
<line x1="736.5" y1="27" x2="736.5" y2="45.0"/>
<line x1="736.5" y1="772" x2="736.5" y2="754.0"/>
<line x1="743.5" y1="27" x2="743.5" y2="31.5"/>
<line x1="743.5" y1="772" x2="743.5" y2="767.5"/>
<line x1="750.5" y1="27" x2="750.5" y2="31.5"/>
<line x1="750.5" y1="772" x2="750.5" y2="767.5"/>
<line x1="757.5" y1="27" x2="757.5" y2="31.5"/>
<line x1="757.5" y1="772" x2="757.5" y2="767.5"/>
<line x1="765.5" y1="27" x2="765.5" y2="31.5"/>
<line x1="765.5" y1="772" x2="765.5" y2="767.5"/>
<line x1="772.5" y1="27" x2="772.5" y2="36.0"/>
<line x1="772.5" y1="772" x2="772.5" y2="763.0"/>
<line x1="779.5" y1="27" x2="779.5" y2="31.5"/>
<line x1="779.5" y1="772" x2="779.5" y2="767.5"/>
<line x1="786.5" y1="27" x2="786.5" y2="31.5"/>
<line x1="786.5" y1="772" x2="786.5" y2="767.5"/>
<line x1="794.5" y1="27" x2="794.5" y2="31.5"/>
<line x1="794.5" y1="772" x2="794.5" y2="767.5"/>
<line x1="0" y1="29.5" x2="4.5" y2="29.5"/>
<line x1="800" y1="29.5" x2="795.5" y2="29.5"/>
<line x1="0" y1="36.5" x2="18.0" y2="36.5"/>
<line x1="800" y1="36.5" x2="782.0" y2="36.5"/>
<line x1="0" y1="43.5" x2="4.5" y2="43.5"/>
<line x1="800" y1="43.5" x2="795.5" y2="43.5"/>
<line x1="0" y1="51.5" x2="4.5" y2="51.5"/>
<line x1="800" y1="51.5" x2="795.5" y2="51.5"/>
<line x1="0" y1="58.5" x2="4.5" y2="58.5"/>
<line x1="800" y1="58.5" x2="795.5" y2="58.5"/>
<line x1="0" y1="65.5" x2="4.5" y2="65.5"/>
<line x1="800" y1="65.5" x2="795.5" y2="65.5"/>
<line x1="0" y1="72.5" x2="9.0" y2="72.5"/>
<line x1="800" y1="72.5" x2="791.0" y2="72.5"/>
<line x1="0" y1="80.5" x2="4.5" y2="80.5"/>
<line x1="800" y1="80.5" x2="795.5" y2="80.5"/>
<line x1="0" y1="87.5" x2="4.5" y2="87.5"/>
<line x1="800" y1="87.5" x2="795.5" y2="87.5"/>
<line x1="0" y1="94.5" x2="4.5" y2="94.5"/>
<line x1="800" y1="94.5" x2="795.5" y2="94.5"/>
<line x1="0" y1="101.5" x2="4.5" y2="101.5"/>
<line x1="800" y1="101.5" x2="795.5" y2="101.5"/>
<line x1="0" y1="109.5" x2="18.0" y2="109.5"/>
<line x1="800" y1="109.5" x2="782.0" y2="109.5"/>
<line x1="0" y1="116.5" x2="4.5" y2="116.5"/>
<line x1="800" y1="116.5" x2="795.5" y2="116.5"/>
<line x1="0" y1="123.5" x2="4.5" y2="123.5"/>
<line x1="800" y1="123.5" x2="795.5" y2="123.5"/>
<line x1="0" y1="131.5" x2="4.5" y2="131.5"/>
<line x1="800" y1="131.5" x2="795.5" y2="131.5"/>
<line x1="0" y1="138.5" x2="4.5" y2="138.5"/>
<line x1="800" y1="138.5" x2="795.5" y2="138.5"/>
<line x1="0" y1="145.5" x2="9.0" y2="145.5"/>
<line x1="800" y1="145.5" x2="791.0" y2="145.5"/>
<line x1="0" y1="152.5" x2="4.5" y2="152.5"/>
<line x1="800" y1="152.5" x2="795.5" y2="152.5"/>
<line x1="0" y1="160.5" x2="4.5" y2="160.5"/>
<line x1="800" y1="160.5" x2="795.5" y2="160.5"/>
<line x1="0" y1="167.5" x2="4.5" y2="167.5"/>
<line x1="800" y1="167.5" x2="795.5" y2="167.5"/>
<line x1="0" y1="174.5" x2="4.5" y2="174.5"/>
<line x1="800" y1="174.5" x2="795.5" y2="174.5"/>
<line x1="0" y1="181.5" x2="18.0" y2="181.5"/>
<line x1="800" y1="181.5" x2="782.0" y2="181.5"/>
<line x1="0" y1="189.5" x2="4.5" y2="189.5"/>
<line x1="800" y1="189.5" x2="795.5" y2="189.5"/>
<line x1="0" y1="196.5" x2="4.5" y2="196.5"/>
<line x1="800" y1="196.5" x2="795.5" y2="196.5"/>
<line x1="0" y1="203.5" x2="4.5" y2="203.5"/>
<line x1="800" y1="203.5" x2="795.5" y2="203.5"/>
<line x1="0" y1="210.5" x2="4.5" y2="210.5"/>
<line x1="800" y1="210.5" x2="795.5" y2="210.5"/>
<line x1="0" y1="218.5" x2="9.0" y2="218.5"/>
<line x1="800" y1="218.5" x2="791.0" y2="218.5"/>
<line x1="0" y1="225.5" x2="4.5" y2="225.5"/>
<line x1="800" y1="225.5" x2="795.5" y2="225.5"/>
<line x1="0" y1="232.5" x2="4.5" y2="232.5"/>
<line x1="800" y1="232.5" x2="795.5" y2="232.5"/>
<line x1="0" y1="240.5" x2="4.5" y2="240.5"/>
<line x1="800" y1="240.5" x2="795.5" y2="240.5"/>
<line x1="0" y1="247.5" x2="4.5" y2="247.5"/>
<line x1="800" y1="247.5" x2="795.5" y2="247.5"/>
<line x1="0" y1="254.5" x2="18.0" y2="254.5"/>
<line x1="800" y1="254.5" x2="782.0" y2="254.5"/>
<line x1="0" y1="261.5" x2="4.5" y2="261.5"/>
<line x1="800" y1="261.5" x2="795.5" y2="261.5"/>
<line x1="0" y1="269.5" x2="4.5" y2="269.5"/>
<line x1="800" y1="269.5" x2="795.5" y2="269.5"/>
<line x1="0" y1="276.5" x2="4.5" y2="276.5"/>
<line x1="800" y1="276.5" x2="795.5" y2="276.5"/>
<line x1="0" y1="283.5" x2="4.5" y2="283.5"/>
<line x1="800" y1="283.5" x2="795.5" y2="283.5"/>
<line x1="0" y1="290.5" x2="9.0" y2="290.5"/>
<line x1="800" y1="290.5" x2="791.0" y2="290.5"/>
<line x1="0" y1="298.5" x2="4.5" y2="298.5"/>
<line x1="800" y1="298.5" x2="795.5" y2="298.5"/>
<line x1="0" y1="305.5" x2="4.5" y2="305.5"/>
<line x1="800" y1="305.5" x2="795.5" y2="305.5"/>
<line x1="0" y1="312.5" x2="4.5" y2="312.5"/>
<line x1="800" y1="312.5" x2="795.5" y2="312.5"/>
<line x1="0" y1="320.5" x2="4.5" y2="320.5"/>
<line x1="800" y1="320.5" x2="795.5" y2="320.5"/>
<line x1="0" y1="327.5" x2="18.0" y2="327.5"/>
<line x1="800" y1="327.5" x2="782.0" y2="327.5"/>
<line x1="0" y1="334.5" x2="4.5" y2="334.5"/>
<line x1="800" y1="334.5" x2="795.5" y2="334.5"/>
<line x1="0" y1="341.5" x2="4.5" y2="341.5"/>
<line x1="800" y1="341.5" x2="795.5" y2="341.5"/>
<line x1="0" y1="349.5" x2="4.5" y2="349.5"/>
<line x1="800" y1="349.5" x2="795.5" y2="349.5"/>
<line x1="0" y1="356.5" x2="4.5" y2="356.5"/>
<line x1="800" y1="356.5" x2="795.5" y2="356.5"/>
<line x1="0" y1="363.5" x2="9.0" y2="363.5"/>
<line x1="800" y1="363.5" x2="791.0" y2="363.5"/>
<line x1="0" y1="370.5" x2="4.5" y2="370.5"/>
<line x1="800" y1="370.5" x2="795.5" y2="370.5"/>
<line x1="0" y1="378.5" x2="4.5" y2="378.5"/>
<line x1="800" y1="378.5" x2="795.5" y2="378.5"/>
<line x1="0" y1="385.5" x2="4.5" y2="385.5"/>
<line x1="800" y1="385.5" x2="795.5" y2="385.5"/>
<line x1="0" y1="392.5" x2="4.5" y2="392.5"/>
<line x1="800" y1="392.5" x2="795.5" y2="392.5"/>
<line x1="0" y1="400.5" x2="18.0" y2="400.5"/>
<line x1="800" y1="400.5" x2="782.0" y2="400.5"/>
<line x1="0" y1="407.5" x2="4.5" y2="407.5"/>
<line x1="800" y1="407.5" x2="795.5" y2="407.5"/>
<line x1="0" y1="414.5" x2="4.5" y2="414.5"/>
<line x1="800" y1="414.5" x2="795.5" y2="414.5"/>
<line x1="0" y1="421.5" x2="4.5" y2="421.5"/>
<line x1="800" y1="421.5" x2="795.5" y2="421.5"/>
<line x1="0" y1="429.5" x2="4.5" y2="429.5"/>
<line x1="800" y1="429.5" x2="795.5" y2="429.5"/>
<line x1="0" y1="436.5" x2="9.0" y2="436.5"/>
<line x1="800" y1="436.5" x2="791.0" y2="436.5"/>
<line x1="0" y1="443.5" x2="4.5" y2="443.5"/>
<line x1="800" y1="443.5" x2="795.5" y2="443.5"/>
<line x1="0" y1="450.5" x2="4.5" y2="450.5"/>
<line x1="800" y1="450.5" x2="795.5" y2="450.5"/>
<line x1="0" y1="458.5" x2="4.5" y2="458.5"/>
<line x1="800" y1="458.5" x2="795.5" y2="458.5"/>
<line x1="0" y1="465.5" x2="4.5" y2="465.5"/>
<line x1="800" y1="465.5" x2="795.5" y2="465.5"/>
<line x1="0" y1="472.5" x2="18.0" y2="472.5"/>
<line x1="800" y1="472.5" x2="782.0" y2="472.5"/>
<line x1="0" y1="479.5" x2="4.5" y2="479.5"/>
<line x1="800" y1="479.5" x2="795.5" y2="479.5"/>
<line x1="0" y1="487.5" x2="4.5" y2="487.5"/>
<line x1="800" y1="487.5" x2="795.5" y2="487.5"/>
<line x1="0" y1="494.5" x2="4.5" y2="494.5"/>
<line x1="800" y1="494.5" x2="795.5" y2="494.5"/>
<line x1="0" y1="501.5" x2="4.5" y2="501.5"/>
<line x1="800" y1="501.5" x2="795.5" y2="501.5"/>
<line x1="0" y1="509.5" x2="9.0" y2="509.5"/>
<line x1="800" y1="509.5" x2="791.0" y2="509.5"/>
<line x1="0" y1="516.5" x2="4.5" y2="516.5"/>
<line x1="800" y1="516.5" x2="795.5" y2="516.5"/>
<line x1="0" y1="523.5" x2="4.5" y2="523.5"/>
<line x1="800" y1="523.5" x2="795.5" y2="523.5"/>
<line x1="0" y1="530.5" x2="4.5" y2="530.5"/>
<line x1="800" y1="530.5" x2="795.5" y2="530.5"/>
<line x1="0" y1="538.5" x2="4.5" y2="538.5"/>
<line x1="800" y1="538.5" x2="795.5" y2="538.5"/>
<line x1="0" y1="545.5" x2="18.0" y2="545.5"/>
<line x1="800" y1="545.5" x2="782.0" y2="545.5"/>
<line x1="0" y1="552.5" x2="4.5" y2="552.5"/>
<line x1="800" y1="552.5" x2="795.5" y2="552.5"/>
<line x1="0" y1="559.5" x2="4.5" y2="559.5"/>
<line x1="800" y1="559.5" x2="795.5" y2="559.5"/>
<line x1="0" y1="567.5" x2="4.5" y2="567.5"/>
<line x1="800" y1="567.5" x2="795.5" y2="567.5"/>
<line x1="0" y1="574.5" x2="4.5" y2="574.5"/>
<line x1="800" y1="574.5" x2="795.5" y2="574.5"/>
<line x1="0" y1="581.5" x2="9.0" y2="581.5"/>
<line x1="800" y1="581.5" x2="791.0" y2="581.5"/>
<line x1="0" y1="589.5" x2="4.5" y2="589.5"/>
<line x1="800" y1="589.5" x2="795.5" y2="589.5"/>
<line x1="0" y1="596.5" x2="4.5" y2="596.5"/>
<line x1="800" y1="596.5" x2="795.5" y2="596.5"/>
<line x1="0" y1="603.5" x2="4.5" y2="603.5"/>
<line x1="800" y1="603.5" x2="795.5" y2="603.5"/>
<line x1="0" y1="610.5" x2="4.5" y2="610.5"/>
<line x1="800" y1="610.5" x2="795.5" y2="610.5"/>
<line x1="0" y1="618.5" x2="18.0" y2="618.5"/>
<line x1="800" y1="618.5" x2="782.0" y2="618.5"/>
<line x1="0" y1="625.5" x2="4.5" y2="625.5"/>
<line x1="800" y1="625.5" x2="795.5" y2="625.5"/>
<line x1="0" y1="632.5" x2="4.5" y2="632.5"/>
<line x1="800" y1="632.5" x2="795.5" y2="632.5"/>
<line x1="0" y1="639.5" x2="4.5" y2="639.5"/>
<line x1="800" y1="639.5" x2="795.5" y2="639.5"/>
<line x1="0" y1="647.5" x2="4.5" y2="647.5"/>
<line x1="800" y1="647.5" x2="795.5" y2="647.5"/>
<line x1="0" y1="654.5" x2="9.0" y2="654.5"/>
<line x1="800" y1="654.5" x2="791.0" y2="654.5"/>
<line x1="0" y1="661.5" x2="4.5" y2="661.5"/>
<line x1="800" y1="661.5" x2="795.5" y2="661.5"/>
<line x1="0" y1="668.5" x2="4.5" y2="668.5"/>
<line x1="800" y1="668.5" x2="795.5" y2="668.5"/>
<line x1="0" y1="676.5" x2="4.5" y2="676.5"/>
<line x1="800" y1="676.5" x2="795.5" y2="676.5"/>
<line x1="0" y1="683.5" x2="4.5" y2="683.5"/>
<line x1="800" y1="683.5" x2="795.5" y2="683.5"/>
<line x1="0" y1="690.5" x2="18.0" y2="690.5"/>
<line x1="800" y1="690.5" x2="782.0" y2="690.5"/>
<line x1="0" y1="698.5" x2="4.5" y2="698.5"/>
<line x1="800" y1="698.5" x2="795.5" y2="698.5"/>
<line x1="0" y1="705.5" x2="4.5" y2="705.5"/>
<line x1="800" y1="705.5" x2="795.5" y2="705.5"/>
<line x1="0" y1="712.5" x2="4.5" y2="712.5"/>
<line x1="800" y1="712.5" x2="795.5" y2="712.5"/>
<line x1="0" y1="719.5" x2="4.5" y2="719.5"/>
<line x1="800" y1="719.5" x2="795.5" y2="719.5"/>
<line x1="0" y1="727.5" x2="9.0" y2="727.5"/>
<line x1="800" y1="727.5" x2="791.0" y2="727.5"/>
<line x1="0" y1="734.5" x2="4.5" y2="734.5"/>
<line x1="800" y1="734.5" x2="795.5" y2="734.5"/>
<line x1="0" y1="741.5" x2="4.5" y2="741.5"/>
<line x1="800" y1="741.5" x2="795.5" y2="741.5"/>
<line x1="0" y1="748.5" x2="4.5" y2="748.5"/>
<line x1="800" y1="748.5" x2="795.5" y2="748.5"/>
<line x1="0" y1="756.5" x2="4.5" y2="756.5"/>
<line x1="800" y1="756.5" x2="795.5" y2="756.5"/>
<line x1="0" y1="763.5" x2="18.0" y2="763.5"/>
<line x1="800" y1="763.5" x2="782.0" y2="763.5"/>
<line x1="0" y1="770.5" x2="4.5" y2="770.5"/>
<line x1="800" y1="770.5" x2="795.5" y2="770.5"/>
</g>
<clipPath id="mapc"><rect x="0" y="28" width="800" height="744"/></clipPath>
<g fill="#9a8088" font-size="12" shape-rendering="auto" clip-path="url(#mapc)">
<text x="792" y="32.0" text-anchor="end">31S</text>
<text x="792" y="104.7" text-anchor="end">32S</text>
<text x="792" y="177.4" text-anchor="end">33S</text>
<text x="792" y="250.1" text-anchor="end">34S</text>
<text x="792" y="322.8" text-anchor="end">35S</text>
<text x="792" y="395.5" text-anchor="end">36S</text>
<text x="792" y="468.2" text-anchor="end">37S</text>
<text x="792" y="540.9" text-anchor="end">38S</text>
<text x="792" y="613.6" text-anchor="end">39S</text>
<text x="792" y="686.3" text-anchor="end">40S</text>
<text x="792" y="759.0" text-anchor="end">41S</text>
<text transform="translate(14.0,744) rotate(90)" x="0" y="0" textLength="20.5" lengthAdjust="spacingAndGlyphs">61W</text>
<text transform="translate(86.7,744) rotate(90)" x="0" y="0" textLength="20.5" lengthAdjust="spacingAndGlyphs">60W</text>
<text transform="translate(159.4,744) rotate(90)" x="0" y="0" textLength="20.5" lengthAdjust="spacingAndGlyphs">59W</text>
<text transform="translate(232.1,744) rotate(90)" x="0" y="0" textLength="20.5" lengthAdjust="spacingAndGlyphs">58W</text>
<text transform="translate(304.8,744) rotate(90)" x="0" y="0" textLength="20.5" lengthAdjust="spacingAndGlyphs">57W</text>
<text transform="translate(377.5,744) rotate(90)" x="0" y="0" textLength="20.5" lengthAdjust="spacingAndGlyphs">56W</text>
<text transform="translate(450.2,744) rotate(90)" x="0" y="0" textLength="20.5" lengthAdjust="spacingAndGlyphs">55W</text>
<text transform="translate(522.9,744) rotate(90)" x="0" y="0" textLength="20.5" lengthAdjust="spacingAndGlyphs">54W</text>
<text transform="translate(595.6,744) rotate(90)" x="0" y="0" textLength="20.5" lengthAdjust="spacingAndGlyphs">53W</text>
<text transform="translate(668.3,744) rotate(90)" x="0" y="0" textLength="20.5" lengthAdjust="spacingAndGlyphs">52W</text>
<text transform="translate(741.0,744) rotate(90)" x="0" y="0" textLength="20.5" lengthAdjust="spacingAndGlyphs">51W</text>
</g>
<defs><linearGradient id="cb" x1="0" y1="1" x2="0" y2="0">
<stop offset="0.0000" stop-color="#0000ff"/>
<stop offset="0.2667" stop-color="#00ffff"/>
<stop offset="0.4000" stop-color="#00ff00"/>
<stop offset="0.5333" stop-color="#ffff00"/>
<stop offset="0.8333" stop-color="#ff0000"/>
<stop offset="1.0000" stop-color="#c0007f"/>
</linearGradient></defs>
<rect x="32.5" y="160.5" width="48" height="607" fill="#fff" stroke="#000" stroke-width="1"/>
<rect x="34" y="162" width="45" height="604.5" fill="url(#cb)"/>
<g fill="#000" font-size="15" shape-rendering="auto">
<text x="86.8" y="165.2" textLength="17.3" lengthAdjust="spacingAndGlyphs">30</text>
<text x="86.8" y="317.1" textLength="17.3" lengthAdjust="spacingAndGlyphs">22</text>
<text x="86.8" y="468.9" textLength="17.3" lengthAdjust="spacingAndGlyphs">15</text>
<text x="86.8" y="620.8">8</text>
<text x="86.8" y="772.7">0</text>
<text x="34.5" y="149" font-size="16" textLength="43" lengthAdjust="spacingAndGlyphs">[m/s]</text>
</g>
</svg></body></html>
